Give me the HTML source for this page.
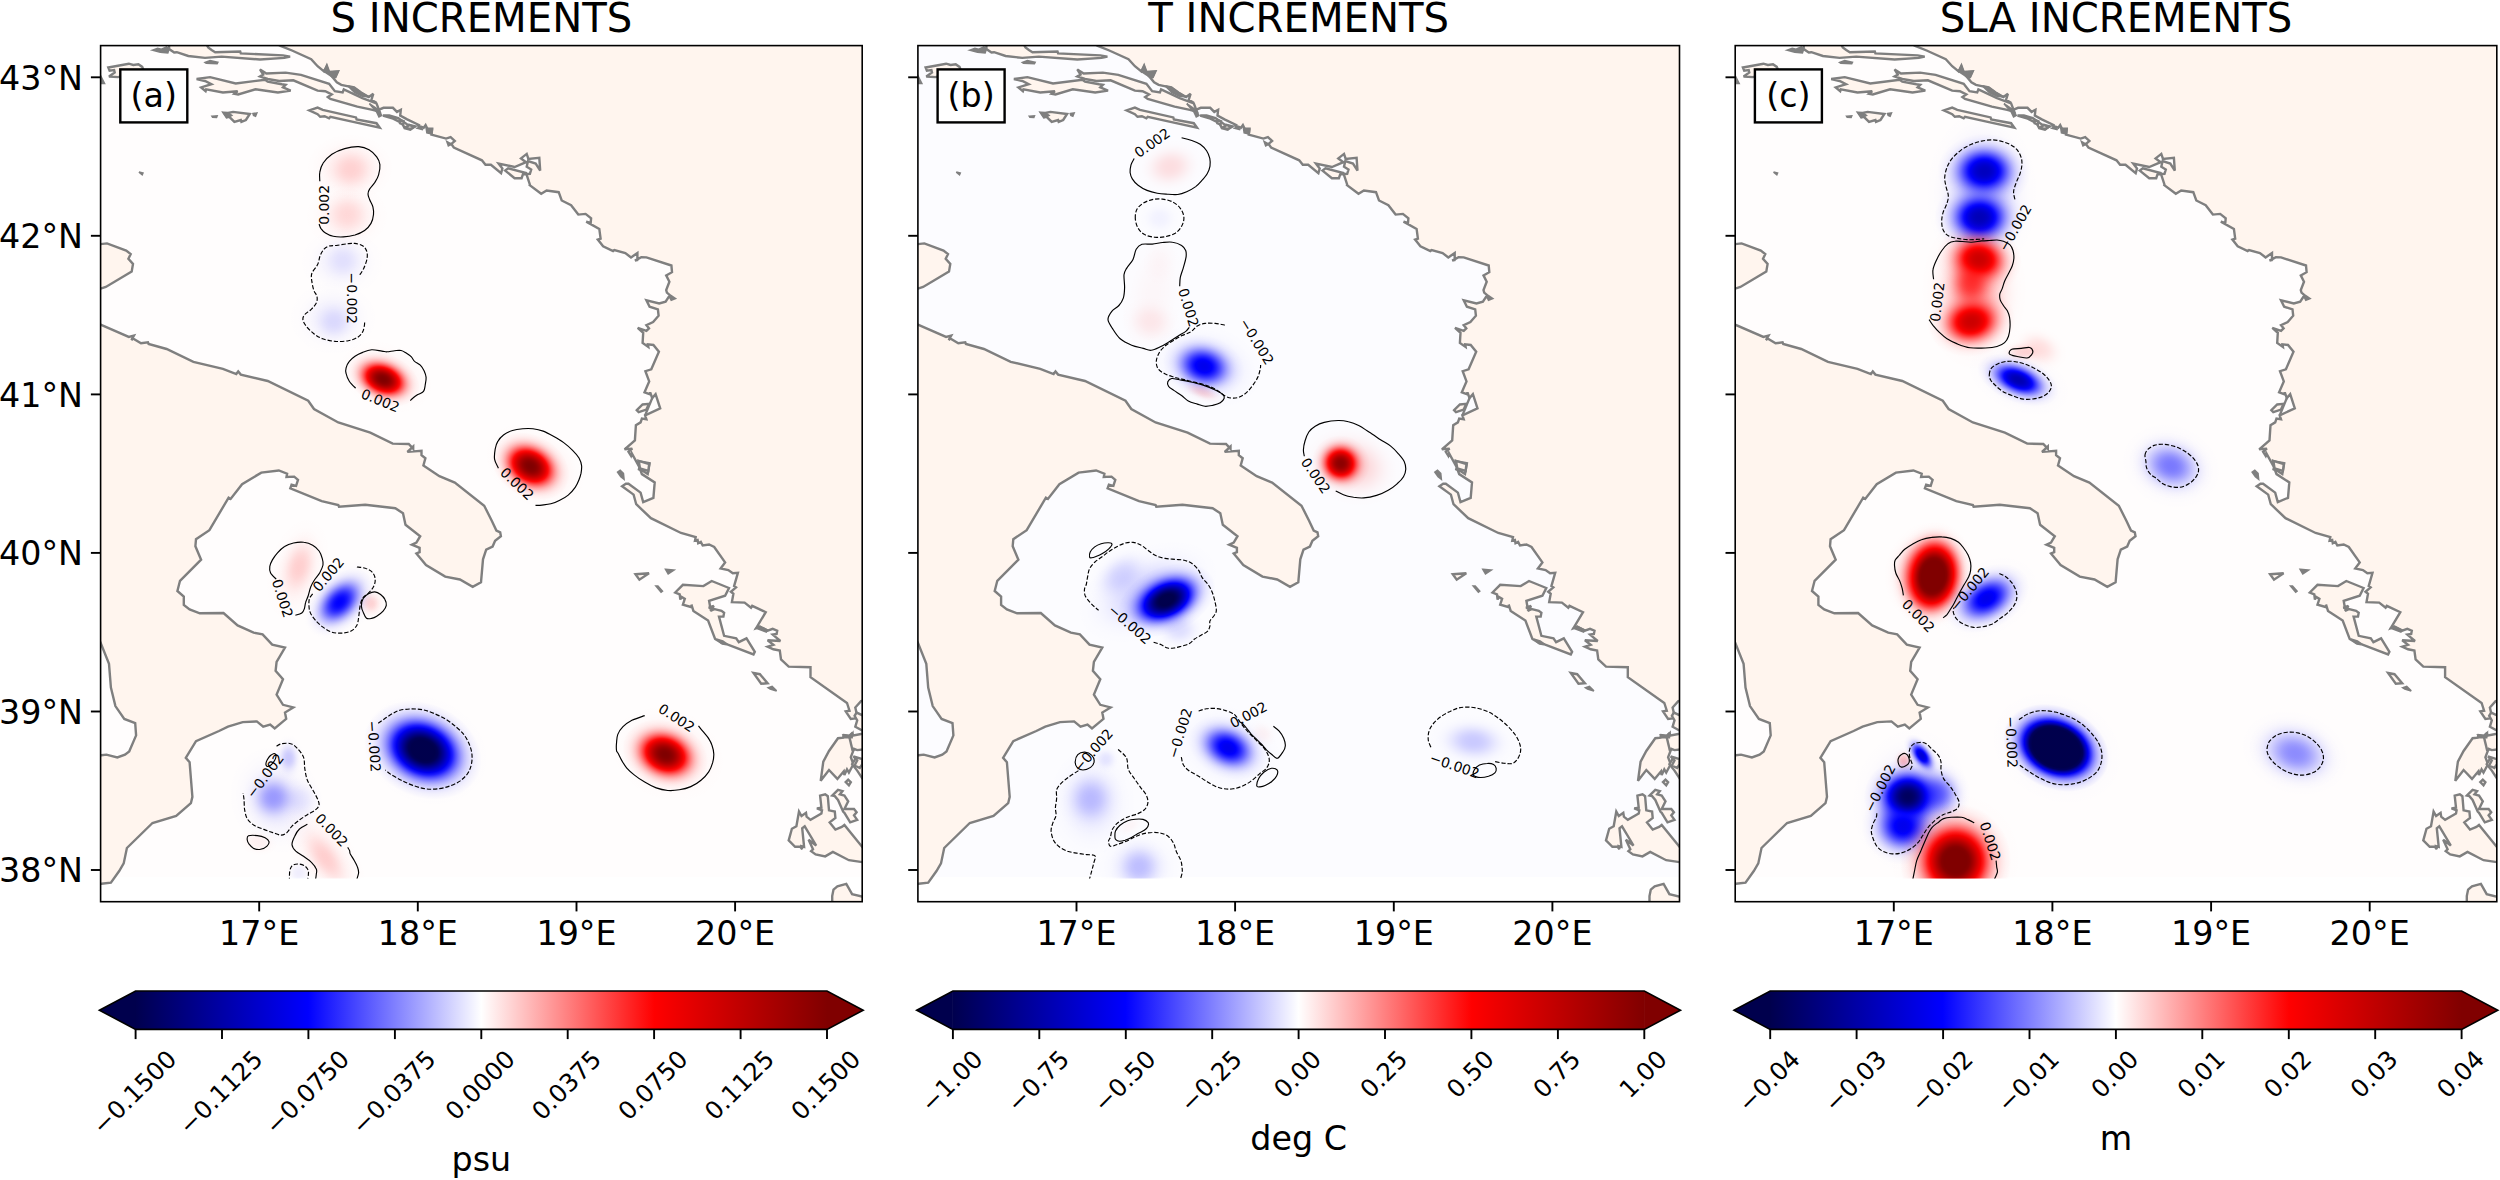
<!DOCTYPE html>
<html lang="en"><head><meta charset="utf-8"><title>Increments</title>
<style>html,body{margin:0;padding:0;background:#fff}body{width:2500px;height:1180px;overflow:hidden}svg{display:block}text{font-family:"DejaVu Sans","Liberation Sans",sans-serif;fill:#000}</style></head><body>
<svg width="2500" height="1180" viewBox="0 0 2500 1180">
<defs>
<linearGradient id="seis" x1="0" x2="1" y1="0" y2="0"><stop offset="0" stop-color="#00004d"/><stop offset="0.25" stop-color="#0000ff"/><stop offset="0.5" stop-color="#ffffff"/><stop offset="0.75" stop-color="#ff0000"/><stop offset="1" stop-color="#800000"/></linearGradient>
<clipPath id="pc"><rect x="0" y="0" width="761.6" height="856.1"/></clipPath>
<radialGradient id="g0"><stop offset="0.000" stop-color="rgb(255,0,0)" stop-opacity="0.080"/><stop offset="0.050" stop-color="rgb(255,0,0)" stop-opacity="0.080"/><stop offset="0.100" stop-color="rgb(255,0,0)" stop-opacity="0.079"/><stop offset="0.150" stop-color="rgb(255,0,0)" stop-opacity="0.076"/><stop offset="0.200" stop-color="rgb(255,0,0)" stop-opacity="0.073"/><stop offset="0.250" stop-color="rgb(255,0,0)" stop-opacity="0.067"/><stop offset="0.300" stop-color="rgb(255,0,0)" stop-opacity="0.061"/><stop offset="0.350" stop-color="rgb(255,0,0)" stop-opacity="0.054"/><stop offset="0.400" stop-color="rgb(255,0,0)" stop-opacity="0.046"/><stop offset="0.450" stop-color="rgb(255,0,0)" stop-opacity="0.038"/><stop offset="0.500" stop-color="rgb(255,0,0)" stop-opacity="0.031"/><stop offset="0.550" stop-color="rgb(255,0,0)" stop-opacity="0.024"/><stop offset="0.600" stop-color="rgb(255,0,0)" stop-opacity="0.018"/><stop offset="0.650" stop-color="rgb(255,0,0)" stop-opacity="0.012"/><stop offset="0.700" stop-color="rgb(255,0,0)" stop-opacity="0.009"/><stop offset="0.750" stop-color="rgb(255,0,0)" stop-opacity="0.006"/><stop offset="0.800" stop-color="rgb(255,0,0)" stop-opacity="0.004"/><stop offset="0.850" stop-color="rgb(255,0,0)" stop-opacity="0.002"/><stop offset="0.900" stop-color="rgb(255,0,0)" stop-opacity="0.001"/><stop offset="0.950" stop-color="rgb(255,0,0)" stop-opacity="0.001"/><stop offset="1.000" stop-color="rgb(255,0,0)" stop-opacity="0.000"/></radialGradient>
<radialGradient id="g1"><stop offset="0.000" stop-color="rgb(255,0,0)" stop-opacity="0.070"/><stop offset="0.050" stop-color="rgb(255,0,0)" stop-opacity="0.070"/><stop offset="0.100" stop-color="rgb(255,0,0)" stop-opacity="0.069"/><stop offset="0.150" stop-color="rgb(255,0,0)" stop-opacity="0.067"/><stop offset="0.200" stop-color="rgb(255,0,0)" stop-opacity="0.063"/><stop offset="0.250" stop-color="rgb(255,0,0)" stop-opacity="0.059"/><stop offset="0.300" stop-color="rgb(255,0,0)" stop-opacity="0.054"/><stop offset="0.350" stop-color="rgb(255,0,0)" stop-opacity="0.047"/><stop offset="0.400" stop-color="rgb(255,0,0)" stop-opacity="0.040"/><stop offset="0.450" stop-color="rgb(255,0,0)" stop-opacity="0.033"/><stop offset="0.500" stop-color="rgb(255,0,0)" stop-opacity="0.027"/><stop offset="0.550" stop-color="rgb(255,0,0)" stop-opacity="0.021"/><stop offset="0.600" stop-color="rgb(255,0,0)" stop-opacity="0.015"/><stop offset="0.650" stop-color="rgb(255,0,0)" stop-opacity="0.011"/><stop offset="0.700" stop-color="rgb(255,0,0)" stop-opacity="0.007"/><stop offset="0.750" stop-color="rgb(255,0,0)" stop-opacity="0.005"/><stop offset="0.800" stop-color="rgb(255,0,0)" stop-opacity="0.003"/><stop offset="0.850" stop-color="rgb(255,0,0)" stop-opacity="0.002"/><stop offset="0.900" stop-color="rgb(255,0,0)" stop-opacity="0.001"/><stop offset="0.950" stop-color="rgb(255,0,0)" stop-opacity="0.001"/><stop offset="1.000" stop-color="rgb(255,0,0)" stop-opacity="0.000"/></radialGradient>
<radialGradient id="g2"><stop offset="0.000" stop-color="rgb(255,0,0)" stop-opacity="0.100"/><stop offset="0.050" stop-color="rgb(255,0,0)" stop-opacity="0.100"/><stop offset="0.100" stop-color="rgb(255,0,0)" stop-opacity="0.098"/><stop offset="0.150" stop-color="rgb(255,0,0)" stop-opacity="0.095"/><stop offset="0.200" stop-color="rgb(255,0,0)" stop-opacity="0.091"/><stop offset="0.250" stop-color="rgb(255,0,0)" stop-opacity="0.084"/><stop offset="0.300" stop-color="rgb(255,0,0)" stop-opacity="0.076"/><stop offset="0.350" stop-color="rgb(255,0,0)" stop-opacity="0.067"/><stop offset="0.400" stop-color="rgb(255,0,0)" stop-opacity="0.058"/><stop offset="0.450" stop-color="rgb(255,0,0)" stop-opacity="0.048"/><stop offset="0.500" stop-color="rgb(255,0,0)" stop-opacity="0.038"/><stop offset="0.550" stop-color="rgb(255,0,0)" stop-opacity="0.029"/><stop offset="0.600" stop-color="rgb(255,0,0)" stop-opacity="0.022"/><stop offset="0.650" stop-color="rgb(255,0,0)" stop-opacity="0.016"/><stop offset="0.700" stop-color="rgb(255,0,0)" stop-opacity="0.011"/><stop offset="0.750" stop-color="rgb(255,0,0)" stop-opacity="0.007"/><stop offset="0.800" stop-color="rgb(255,0,0)" stop-opacity="0.004"/><stop offset="0.850" stop-color="rgb(255,0,0)" stop-opacity="0.003"/><stop offset="0.900" stop-color="rgb(255,0,0)" stop-opacity="0.002"/><stop offset="0.950" stop-color="rgb(255,0,0)" stop-opacity="0.001"/><stop offset="1.000" stop-color="rgb(255,0,0)" stop-opacity="0.000"/></radialGradient>
<radialGradient id="g3"><stop offset="0.000" stop-color="rgb(255,0,0)" stop-opacity="0.080"/><stop offset="0.050" stop-color="rgb(255,0,0)" stop-opacity="0.080"/><stop offset="0.100" stop-color="rgb(255,0,0)" stop-opacity="0.079"/><stop offset="0.150" stop-color="rgb(255,0,0)" stop-opacity="0.076"/><stop offset="0.200" stop-color="rgb(255,0,0)" stop-opacity="0.073"/><stop offset="0.250" stop-color="rgb(255,0,0)" stop-opacity="0.067"/><stop offset="0.300" stop-color="rgb(255,0,0)" stop-opacity="0.061"/><stop offset="0.350" stop-color="rgb(255,0,0)" stop-opacity="0.054"/><stop offset="0.400" stop-color="rgb(255,0,0)" stop-opacity="0.046"/><stop offset="0.450" stop-color="rgb(255,0,0)" stop-opacity="0.038"/><stop offset="0.500" stop-color="rgb(255,0,0)" stop-opacity="0.031"/><stop offset="0.550" stop-color="rgb(255,0,0)" stop-opacity="0.024"/><stop offset="0.600" stop-color="rgb(255,0,0)" stop-opacity="0.018"/><stop offset="0.650" stop-color="rgb(255,0,0)" stop-opacity="0.012"/><stop offset="0.700" stop-color="rgb(255,0,0)" stop-opacity="0.009"/><stop offset="0.750" stop-color="rgb(255,0,0)" stop-opacity="0.006"/><stop offset="0.800" stop-color="rgb(255,0,0)" stop-opacity="0.004"/><stop offset="0.850" stop-color="rgb(255,0,0)" stop-opacity="0.002"/><stop offset="0.900" stop-color="rgb(255,0,0)" stop-opacity="0.001"/><stop offset="0.950" stop-color="rgb(255,0,0)" stop-opacity="0.001"/><stop offset="1.000" stop-color="rgb(255,0,0)" stop-opacity="0.000"/></radialGradient>
<radialGradient id="g4"><stop offset="0.000" stop-color="rgb(0,0,255)" stop-opacity="0.060"/><stop offset="0.050" stop-color="rgb(0,0,255)" stop-opacity="0.060"/><stop offset="0.100" stop-color="rgb(0,0,255)" stop-opacity="0.059"/><stop offset="0.150" stop-color="rgb(0,0,255)" stop-opacity="0.057"/><stop offset="0.200" stop-color="rgb(0,0,255)" stop-opacity="0.054"/><stop offset="0.250" stop-color="rgb(0,0,255)" stop-opacity="0.051"/><stop offset="0.300" stop-color="rgb(0,0,255)" stop-opacity="0.046"/><stop offset="0.350" stop-color="rgb(0,0,255)" stop-opacity="0.040"/><stop offset="0.400" stop-color="rgb(0,0,255)" stop-opacity="0.035"/><stop offset="0.450" stop-color="rgb(0,0,255)" stop-opacity="0.029"/><stop offset="0.500" stop-color="rgb(0,0,255)" stop-opacity="0.023"/><stop offset="0.550" stop-color="rgb(0,0,255)" stop-opacity="0.018"/><stop offset="0.600" stop-color="rgb(0,0,255)" stop-opacity="0.013"/><stop offset="0.650" stop-color="rgb(0,0,255)" stop-opacity="0.009"/><stop offset="0.700" stop-color="rgb(0,0,255)" stop-opacity="0.006"/><stop offset="0.750" stop-color="rgb(0,0,255)" stop-opacity="0.004"/><stop offset="0.800" stop-color="rgb(0,0,255)" stop-opacity="0.003"/><stop offset="0.850" stop-color="rgb(0,0,255)" stop-opacity="0.002"/><stop offset="0.900" stop-color="rgb(0,0,255)" stop-opacity="0.001"/><stop offset="0.950" stop-color="rgb(0,0,255)" stop-opacity="0.000"/><stop offset="1.000" stop-color="rgb(0,0,255)" stop-opacity="0.000"/></radialGradient>
<radialGradient id="g5"><stop offset="0.000" stop-color="rgb(0,0,255)" stop-opacity="0.060"/><stop offset="0.050" stop-color="rgb(0,0,255)" stop-opacity="0.060"/><stop offset="0.100" stop-color="rgb(0,0,255)" stop-opacity="0.059"/><stop offset="0.150" stop-color="rgb(0,0,255)" stop-opacity="0.057"/><stop offset="0.200" stop-color="rgb(0,0,255)" stop-opacity="0.054"/><stop offset="0.250" stop-color="rgb(0,0,255)" stop-opacity="0.051"/><stop offset="0.300" stop-color="rgb(0,0,255)" stop-opacity="0.046"/><stop offset="0.350" stop-color="rgb(0,0,255)" stop-opacity="0.040"/><stop offset="0.400" stop-color="rgb(0,0,255)" stop-opacity="0.035"/><stop offset="0.450" stop-color="rgb(0,0,255)" stop-opacity="0.029"/><stop offset="0.500" stop-color="rgb(0,0,255)" stop-opacity="0.023"/><stop offset="0.550" stop-color="rgb(0,0,255)" stop-opacity="0.018"/><stop offset="0.600" stop-color="rgb(0,0,255)" stop-opacity="0.013"/><stop offset="0.650" stop-color="rgb(0,0,255)" stop-opacity="0.009"/><stop offset="0.700" stop-color="rgb(0,0,255)" stop-opacity="0.006"/><stop offset="0.750" stop-color="rgb(0,0,255)" stop-opacity="0.004"/><stop offset="0.800" stop-color="rgb(0,0,255)" stop-opacity="0.003"/><stop offset="0.850" stop-color="rgb(0,0,255)" stop-opacity="0.002"/><stop offset="0.900" stop-color="rgb(0,0,255)" stop-opacity="0.001"/><stop offset="0.950" stop-color="rgb(0,0,255)" stop-opacity="0.000"/><stop offset="1.000" stop-color="rgb(0,0,255)" stop-opacity="0.000"/></radialGradient>
<radialGradient id="g6"><stop offset="0.000" stop-color="rgb(0,0,255)" stop-opacity="0.060"/><stop offset="0.050" stop-color="rgb(0,0,255)" stop-opacity="0.060"/><stop offset="0.100" stop-color="rgb(0,0,255)" stop-opacity="0.059"/><stop offset="0.150" stop-color="rgb(0,0,255)" stop-opacity="0.057"/><stop offset="0.200" stop-color="rgb(0,0,255)" stop-opacity="0.054"/><stop offset="0.250" stop-color="rgb(0,0,255)" stop-opacity="0.051"/><stop offset="0.300" stop-color="rgb(0,0,255)" stop-opacity="0.046"/><stop offset="0.350" stop-color="rgb(0,0,255)" stop-opacity="0.040"/><stop offset="0.400" stop-color="rgb(0,0,255)" stop-opacity="0.035"/><stop offset="0.450" stop-color="rgb(0,0,255)" stop-opacity="0.029"/><stop offset="0.500" stop-color="rgb(0,0,255)" stop-opacity="0.023"/><stop offset="0.550" stop-color="rgb(0,0,255)" stop-opacity="0.018"/><stop offset="0.600" stop-color="rgb(0,0,255)" stop-opacity="0.013"/><stop offset="0.650" stop-color="rgb(0,0,255)" stop-opacity="0.009"/><stop offset="0.700" stop-color="rgb(0,0,255)" stop-opacity="0.006"/><stop offset="0.750" stop-color="rgb(0,0,255)" stop-opacity="0.004"/><stop offset="0.800" stop-color="rgb(0,0,255)" stop-opacity="0.003"/><stop offset="0.850" stop-color="rgb(0,0,255)" stop-opacity="0.002"/><stop offset="0.900" stop-color="rgb(0,0,255)" stop-opacity="0.001"/><stop offset="0.950" stop-color="rgb(0,0,255)" stop-opacity="0.000"/><stop offset="1.000" stop-color="rgb(0,0,255)" stop-opacity="0.000"/></radialGradient>
<radialGradient id="g7"><stop offset="0.000" stop-color="rgb(0,0,255)" stop-opacity="0.090"/><stop offset="0.050" stop-color="rgb(0,0,255)" stop-opacity="0.090"/><stop offset="0.100" stop-color="rgb(0,0,255)" stop-opacity="0.088"/><stop offset="0.150" stop-color="rgb(0,0,255)" stop-opacity="0.086"/><stop offset="0.200" stop-color="rgb(0,0,255)" stop-opacity="0.082"/><stop offset="0.250" stop-color="rgb(0,0,255)" stop-opacity="0.076"/><stop offset="0.300" stop-color="rgb(0,0,255)" stop-opacity="0.069"/><stop offset="0.350" stop-color="rgb(0,0,255)" stop-opacity="0.061"/><stop offset="0.400" stop-color="rgb(0,0,255)" stop-opacity="0.052"/><stop offset="0.450" stop-color="rgb(0,0,255)" stop-opacity="0.043"/><stop offset="0.500" stop-color="rgb(0,0,255)" stop-opacity="0.034"/><stop offset="0.550" stop-color="rgb(0,0,255)" stop-opacity="0.026"/><stop offset="0.600" stop-color="rgb(0,0,255)" stop-opacity="0.020"/><stop offset="0.650" stop-color="rgb(0,0,255)" stop-opacity="0.014"/><stop offset="0.700" stop-color="rgb(0,0,255)" stop-opacity="0.010"/><stop offset="0.750" stop-color="rgb(0,0,255)" stop-opacity="0.006"/><stop offset="0.800" stop-color="rgb(0,0,255)" stop-opacity="0.004"/><stop offset="0.850" stop-color="rgb(0,0,255)" stop-opacity="0.002"/><stop offset="0.900" stop-color="rgb(0,0,255)" stop-opacity="0.001"/><stop offset="0.950" stop-color="rgb(0,0,255)" stop-opacity="0.001"/><stop offset="1.000" stop-color="rgb(0,0,255)" stop-opacity="0.000"/></radialGradient>
<radialGradient id="g8"><stop offset="0.000" stop-color="rgb(255,0,0)" stop-opacity="0.120"/><stop offset="0.050" stop-color="rgb(255,0,0)" stop-opacity="0.120"/><stop offset="0.100" stop-color="rgb(255,0,0)" stop-opacity="0.118"/><stop offset="0.150" stop-color="rgb(255,0,0)" stop-opacity="0.114"/><stop offset="0.200" stop-color="rgb(255,0,0)" stop-opacity="0.109"/><stop offset="0.250" stop-color="rgb(255,0,0)" stop-opacity="0.101"/><stop offset="0.300" stop-color="rgb(255,0,0)" stop-opacity="0.092"/><stop offset="0.350" stop-color="rgb(255,0,0)" stop-opacity="0.081"/><stop offset="0.400" stop-color="rgb(255,0,0)" stop-opacity="0.069"/><stop offset="0.450" stop-color="rgb(255,0,0)" stop-opacity="0.057"/><stop offset="0.500" stop-color="rgb(255,0,0)" stop-opacity="0.046"/><stop offset="0.550" stop-color="rgb(255,0,0)" stop-opacity="0.035"/><stop offset="0.600" stop-color="rgb(255,0,0)" stop-opacity="0.026"/><stop offset="0.650" stop-color="rgb(255,0,0)" stop-opacity="0.019"/><stop offset="0.700" stop-color="rgb(255,0,0)" stop-opacity="0.013"/><stop offset="0.750" stop-color="rgb(255,0,0)" stop-opacity="0.008"/><stop offset="0.800" stop-color="rgb(255,0,0)" stop-opacity="0.005"/><stop offset="0.850" stop-color="rgb(255,0,0)" stop-opacity="0.003"/><stop offset="0.900" stop-color="rgb(255,0,0)" stop-opacity="0.002"/><stop offset="0.950" stop-color="rgb(255,0,0)" stop-opacity="0.001"/><stop offset="1.000" stop-color="rgb(255,0,0)" stop-opacity="0.000"/></radialGradient>
<radialGradient id="g9"><stop offset="0.000" stop-color="rgb(255,0,0)" stop-opacity="1.000"/><stop offset="0.050" stop-color="rgb(255,0,0)" stop-opacity="1.000"/><stop offset="0.100" stop-color="rgb(255,0,0)" stop-opacity="1.000"/><stop offset="0.150" stop-color="rgb(255,0,0)" stop-opacity="1.000"/><stop offset="0.200" stop-color="rgb(255,0,0)" stop-opacity="1.000"/><stop offset="0.250" stop-color="rgb(255,0,0)" stop-opacity="1.000"/><stop offset="0.300" stop-color="rgb(255,0,0)" stop-opacity="1.000"/><stop offset="0.350" stop-color="rgb(255,0,0)" stop-opacity="1.000"/><stop offset="0.400" stop-color="rgb(255,0,0)" stop-opacity="1.000"/><stop offset="0.450" stop-color="rgb(255,0,0)" stop-opacity="0.954"/><stop offset="0.500" stop-color="rgb(255,0,0)" stop-opacity="0.763"/><stop offset="0.550" stop-color="rgb(255,0,0)" stop-opacity="0.589"/><stop offset="0.600" stop-color="rgb(255,0,0)" stop-opacity="0.438"/><stop offset="0.650" stop-color="rgb(255,0,0)" stop-opacity="0.312"/><stop offset="0.700" stop-color="rgb(255,0,0)" stop-opacity="0.214"/><stop offset="0.750" stop-color="rgb(255,0,0)" stop-opacity="0.141"/><stop offset="0.800" stop-color="rgb(255,0,0)" stop-opacity="0.088"/><stop offset="0.850" stop-color="rgb(255,0,0)" stop-opacity="0.053"/><stop offset="0.900" stop-color="rgb(255,0,0)" stop-opacity="0.030"/><stop offset="0.950" stop-color="rgb(255,0,0)" stop-opacity="0.017"/><stop offset="1.000" stop-color="rgb(255,0,0)" stop-opacity="0.000"/></radialGradient><radialGradient id="d9"><stop offset="0.000" stop-color="#000" stop-opacity="0.500"/><stop offset="0.050" stop-color="#000" stop-opacity="0.497"/><stop offset="0.100" stop-color="#000" stop-opacity="0.483"/><stop offset="0.150" stop-color="#000" stop-opacity="0.454"/><stop offset="0.200" stop-color="#000" stop-opacity="0.407"/><stop offset="0.250" stop-color="#000" stop-opacity="0.343"/><stop offset="0.300" stop-color="#000" stop-opacity="0.264"/><stop offset="0.350" stop-color="#000" stop-opacity="0.174"/><stop offset="0.400" stop-color="#000" stop-opacity="0.076"/><stop offset="0.450" stop-color="#000" stop-opacity="0.000"/><stop offset="0.500" stop-color="#000" stop-opacity="0.000"/><stop offset="0.550" stop-color="#000" stop-opacity="0.000"/><stop offset="0.600" stop-color="#000" stop-opacity="0.000"/><stop offset="0.650" stop-color="#000" stop-opacity="0.000"/><stop offset="0.700" stop-color="#000" stop-opacity="0.000"/><stop offset="0.750" stop-color="#000" stop-opacity="0.000"/><stop offset="0.800" stop-color="#000" stop-opacity="0.000"/><stop offset="0.850" stop-color="#000" stop-opacity="0.000"/><stop offset="0.900" stop-color="#000" stop-opacity="0.000"/><stop offset="0.950" stop-color="#000" stop-opacity="0.000"/><stop offset="1.000" stop-color="#000" stop-opacity="0.000"/></radialGradient>
<radialGradient id="g10"><stop offset="0.000" stop-color="rgb(255,0,0)" stop-opacity="0.120"/><stop offset="0.050" stop-color="rgb(255,0,0)" stop-opacity="0.120"/><stop offset="0.100" stop-color="rgb(255,0,0)" stop-opacity="0.118"/><stop offset="0.150" stop-color="rgb(255,0,0)" stop-opacity="0.114"/><stop offset="0.200" stop-color="rgb(255,0,0)" stop-opacity="0.109"/><stop offset="0.250" stop-color="rgb(255,0,0)" stop-opacity="0.101"/><stop offset="0.300" stop-color="rgb(255,0,0)" stop-opacity="0.092"/><stop offset="0.350" stop-color="rgb(255,0,0)" stop-opacity="0.081"/><stop offset="0.400" stop-color="rgb(255,0,0)" stop-opacity="0.069"/><stop offset="0.450" stop-color="rgb(255,0,0)" stop-opacity="0.057"/><stop offset="0.500" stop-color="rgb(255,0,0)" stop-opacity="0.046"/><stop offset="0.550" stop-color="rgb(255,0,0)" stop-opacity="0.035"/><stop offset="0.600" stop-color="rgb(255,0,0)" stop-opacity="0.026"/><stop offset="0.650" stop-color="rgb(255,0,0)" stop-opacity="0.019"/><stop offset="0.700" stop-color="rgb(255,0,0)" stop-opacity="0.013"/><stop offset="0.750" stop-color="rgb(255,0,0)" stop-opacity="0.008"/><stop offset="0.800" stop-color="rgb(255,0,0)" stop-opacity="0.005"/><stop offset="0.850" stop-color="rgb(255,0,0)" stop-opacity="0.003"/><stop offset="0.900" stop-color="rgb(255,0,0)" stop-opacity="0.002"/><stop offset="0.950" stop-color="rgb(255,0,0)" stop-opacity="0.001"/><stop offset="1.000" stop-color="rgb(255,0,0)" stop-opacity="0.000"/></radialGradient>
<radialGradient id="g11"><stop offset="0.000" stop-color="rgb(255,0,0)" stop-opacity="1.000"/><stop offset="0.050" stop-color="rgb(255,0,0)" stop-opacity="1.000"/><stop offset="0.100" stop-color="rgb(255,0,0)" stop-opacity="1.000"/><stop offset="0.150" stop-color="rgb(255,0,0)" stop-opacity="1.000"/><stop offset="0.200" stop-color="rgb(255,0,0)" stop-opacity="1.000"/><stop offset="0.250" stop-color="rgb(255,0,0)" stop-opacity="1.000"/><stop offset="0.300" stop-color="rgb(255,0,0)" stop-opacity="1.000"/><stop offset="0.350" stop-color="rgb(255,0,0)" stop-opacity="1.000"/><stop offset="0.400" stop-color="rgb(255,0,0)" stop-opacity="1.000"/><stop offset="0.450" stop-color="rgb(255,0,0)" stop-opacity="0.954"/><stop offset="0.500" stop-color="rgb(255,0,0)" stop-opacity="0.763"/><stop offset="0.550" stop-color="rgb(255,0,0)" stop-opacity="0.589"/><stop offset="0.600" stop-color="rgb(255,0,0)" stop-opacity="0.438"/><stop offset="0.650" stop-color="rgb(255,0,0)" stop-opacity="0.312"/><stop offset="0.700" stop-color="rgb(255,0,0)" stop-opacity="0.214"/><stop offset="0.750" stop-color="rgb(255,0,0)" stop-opacity="0.141"/><stop offset="0.800" stop-color="rgb(255,0,0)" stop-opacity="0.088"/><stop offset="0.850" stop-color="rgb(255,0,0)" stop-opacity="0.053"/><stop offset="0.900" stop-color="rgb(255,0,0)" stop-opacity="0.030"/><stop offset="0.950" stop-color="rgb(255,0,0)" stop-opacity="0.017"/><stop offset="1.000" stop-color="rgb(255,0,0)" stop-opacity="0.000"/></radialGradient><radialGradient id="d11"><stop offset="0.000" stop-color="#000" stop-opacity="0.500"/><stop offset="0.050" stop-color="#000" stop-opacity="0.497"/><stop offset="0.100" stop-color="#000" stop-opacity="0.483"/><stop offset="0.150" stop-color="#000" stop-opacity="0.454"/><stop offset="0.200" stop-color="#000" stop-opacity="0.407"/><stop offset="0.250" stop-color="#000" stop-opacity="0.343"/><stop offset="0.300" stop-color="#000" stop-opacity="0.264"/><stop offset="0.350" stop-color="#000" stop-opacity="0.174"/><stop offset="0.400" stop-color="#000" stop-opacity="0.076"/><stop offset="0.450" stop-color="#000" stop-opacity="0.000"/><stop offset="0.500" stop-color="#000" stop-opacity="0.000"/><stop offset="0.550" stop-color="#000" stop-opacity="0.000"/><stop offset="0.600" stop-color="#000" stop-opacity="0.000"/><stop offset="0.650" stop-color="#000" stop-opacity="0.000"/><stop offset="0.700" stop-color="#000" stop-opacity="0.000"/><stop offset="0.750" stop-color="#000" stop-opacity="0.000"/><stop offset="0.800" stop-color="#000" stop-opacity="0.000"/><stop offset="0.850" stop-color="#000" stop-opacity="0.000"/><stop offset="0.900" stop-color="#000" stop-opacity="0.000"/><stop offset="0.950" stop-color="#000" stop-opacity="0.000"/><stop offset="1.000" stop-color="#000" stop-opacity="0.000"/></radialGradient>
<radialGradient id="g12"><stop offset="0.000" stop-color="rgb(255,0,0)" stop-opacity="0.070"/><stop offset="0.050" stop-color="rgb(255,0,0)" stop-opacity="0.070"/><stop offset="0.100" stop-color="rgb(255,0,0)" stop-opacity="0.069"/><stop offset="0.150" stop-color="rgb(255,0,0)" stop-opacity="0.067"/><stop offset="0.200" stop-color="rgb(255,0,0)" stop-opacity="0.063"/><stop offset="0.250" stop-color="rgb(255,0,0)" stop-opacity="0.059"/><stop offset="0.300" stop-color="rgb(255,0,0)" stop-opacity="0.054"/><stop offset="0.350" stop-color="rgb(255,0,0)" stop-opacity="0.047"/><stop offset="0.400" stop-color="rgb(255,0,0)" stop-opacity="0.040"/><stop offset="0.450" stop-color="rgb(255,0,0)" stop-opacity="0.033"/><stop offset="0.500" stop-color="rgb(255,0,0)" stop-opacity="0.027"/><stop offset="0.550" stop-color="rgb(255,0,0)" stop-opacity="0.021"/><stop offset="0.600" stop-color="rgb(255,0,0)" stop-opacity="0.015"/><stop offset="0.650" stop-color="rgb(255,0,0)" stop-opacity="0.011"/><stop offset="0.700" stop-color="rgb(255,0,0)" stop-opacity="0.007"/><stop offset="0.750" stop-color="rgb(255,0,0)" stop-opacity="0.005"/><stop offset="0.800" stop-color="rgb(255,0,0)" stop-opacity="0.003"/><stop offset="0.850" stop-color="rgb(255,0,0)" stop-opacity="0.002"/><stop offset="0.900" stop-color="rgb(255,0,0)" stop-opacity="0.001"/><stop offset="0.950" stop-color="rgb(255,0,0)" stop-opacity="0.001"/><stop offset="1.000" stop-color="rgb(255,0,0)" stop-opacity="0.000"/></radialGradient>
<radialGradient id="g13"><stop offset="0.000" stop-color="rgb(255,0,0)" stop-opacity="0.120"/><stop offset="0.050" stop-color="rgb(255,0,0)" stop-opacity="0.120"/><stop offset="0.100" stop-color="rgb(255,0,0)" stop-opacity="0.118"/><stop offset="0.150" stop-color="rgb(255,0,0)" stop-opacity="0.114"/><stop offset="0.200" stop-color="rgb(255,0,0)" stop-opacity="0.109"/><stop offset="0.250" stop-color="rgb(255,0,0)" stop-opacity="0.101"/><stop offset="0.300" stop-color="rgb(255,0,0)" stop-opacity="0.092"/><stop offset="0.350" stop-color="rgb(255,0,0)" stop-opacity="0.081"/><stop offset="0.400" stop-color="rgb(255,0,0)" stop-opacity="0.069"/><stop offset="0.450" stop-color="rgb(255,0,0)" stop-opacity="0.057"/><stop offset="0.500" stop-color="rgb(255,0,0)" stop-opacity="0.046"/><stop offset="0.550" stop-color="rgb(255,0,0)" stop-opacity="0.035"/><stop offset="0.600" stop-color="rgb(255,0,0)" stop-opacity="0.026"/><stop offset="0.650" stop-color="rgb(255,0,0)" stop-opacity="0.019"/><stop offset="0.700" stop-color="rgb(255,0,0)" stop-opacity="0.013"/><stop offset="0.750" stop-color="rgb(255,0,0)" stop-opacity="0.008"/><stop offset="0.800" stop-color="rgb(255,0,0)" stop-opacity="0.005"/><stop offset="0.850" stop-color="rgb(255,0,0)" stop-opacity="0.003"/><stop offset="0.900" stop-color="rgb(255,0,0)" stop-opacity="0.002"/><stop offset="0.950" stop-color="rgb(255,0,0)" stop-opacity="0.001"/><stop offset="1.000" stop-color="rgb(255,0,0)" stop-opacity="0.000"/></radialGradient>
<radialGradient id="g14"><stop offset="0.000" stop-color="rgb(0,0,255)" stop-opacity="0.160"/><stop offset="0.050" stop-color="rgb(0,0,255)" stop-opacity="0.160"/><stop offset="0.100" stop-color="rgb(0,0,255)" stop-opacity="0.157"/><stop offset="0.150" stop-color="rgb(0,0,255)" stop-opacity="0.153"/><stop offset="0.200" stop-color="rgb(0,0,255)" stop-opacity="0.145"/><stop offset="0.250" stop-color="rgb(0,0,255)" stop-opacity="0.135"/><stop offset="0.300" stop-color="rgb(0,0,255)" stop-opacity="0.122"/><stop offset="0.350" stop-color="rgb(0,0,255)" stop-opacity="0.108"/><stop offset="0.400" stop-color="rgb(0,0,255)" stop-opacity="0.092"/><stop offset="0.450" stop-color="rgb(0,0,255)" stop-opacity="0.076"/><stop offset="0.500" stop-color="rgb(0,0,255)" stop-opacity="0.061"/><stop offset="0.550" stop-color="rgb(0,0,255)" stop-opacity="0.047"/><stop offset="0.600" stop-color="rgb(0,0,255)" stop-opacity="0.035"/><stop offset="0.650" stop-color="rgb(0,0,255)" stop-opacity="0.025"/><stop offset="0.700" stop-color="rgb(0,0,255)" stop-opacity="0.017"/><stop offset="0.750" stop-color="rgb(0,0,255)" stop-opacity="0.011"/><stop offset="0.800" stop-color="rgb(0,0,255)" stop-opacity="0.007"/><stop offset="0.850" stop-color="rgb(0,0,255)" stop-opacity="0.004"/><stop offset="0.900" stop-color="rgb(0,0,255)" stop-opacity="0.002"/><stop offset="0.950" stop-color="rgb(0,0,255)" stop-opacity="0.001"/><stop offset="1.000" stop-color="rgb(0,0,255)" stop-opacity="0.000"/></radialGradient>
<radialGradient id="g15"><stop offset="0.000" stop-color="rgb(0,0,255)" stop-opacity="1.000"/><stop offset="0.050" stop-color="rgb(0,0,255)" stop-opacity="0.997"/><stop offset="0.100" stop-color="rgb(0,0,255)" stop-opacity="0.983"/><stop offset="0.150" stop-color="rgb(0,0,255)" stop-opacity="0.954"/><stop offset="0.200" stop-color="rgb(0,0,255)" stop-opacity="0.907"/><stop offset="0.250" stop-color="rgb(0,0,255)" stop-opacity="0.843"/><stop offset="0.300" stop-color="rgb(0,0,255)" stop-opacity="0.764"/><stop offset="0.350" stop-color="rgb(0,0,255)" stop-opacity="0.674"/><stop offset="0.400" stop-color="rgb(0,0,255)" stop-opacity="0.576"/><stop offset="0.450" stop-color="rgb(0,0,255)" stop-opacity="0.477"/><stop offset="0.500" stop-color="rgb(0,0,255)" stop-opacity="0.382"/><stop offset="0.550" stop-color="rgb(0,0,255)" stop-opacity="0.294"/><stop offset="0.600" stop-color="rgb(0,0,255)" stop-opacity="0.219"/><stop offset="0.650" stop-color="rgb(0,0,255)" stop-opacity="0.156"/><stop offset="0.700" stop-color="rgb(0,0,255)" stop-opacity="0.107"/><stop offset="0.750" stop-color="rgb(0,0,255)" stop-opacity="0.070"/><stop offset="0.800" stop-color="rgb(0,0,255)" stop-opacity="0.044"/><stop offset="0.850" stop-color="rgb(0,0,255)" stop-opacity="0.027"/><stop offset="0.900" stop-color="rgb(0,0,255)" stop-opacity="0.015"/><stop offset="0.950" stop-color="rgb(0,0,255)" stop-opacity="0.008"/><stop offset="1.000" stop-color="rgb(0,0,255)" stop-opacity="0.000"/></radialGradient>
<radialGradient id="g16"><stop offset="0.000" stop-color="rgb(255,0,0)" stop-opacity="0.070"/><stop offset="0.050" stop-color="rgb(255,0,0)" stop-opacity="0.070"/><stop offset="0.100" stop-color="rgb(255,0,0)" stop-opacity="0.069"/><stop offset="0.150" stop-color="rgb(255,0,0)" stop-opacity="0.067"/><stop offset="0.200" stop-color="rgb(255,0,0)" stop-opacity="0.063"/><stop offset="0.250" stop-color="rgb(255,0,0)" stop-opacity="0.059"/><stop offset="0.300" stop-color="rgb(255,0,0)" stop-opacity="0.054"/><stop offset="0.350" stop-color="rgb(255,0,0)" stop-opacity="0.047"/><stop offset="0.400" stop-color="rgb(255,0,0)" stop-opacity="0.040"/><stop offset="0.450" stop-color="rgb(255,0,0)" stop-opacity="0.033"/><stop offset="0.500" stop-color="rgb(255,0,0)" stop-opacity="0.027"/><stop offset="0.550" stop-color="rgb(255,0,0)" stop-opacity="0.021"/><stop offset="0.600" stop-color="rgb(255,0,0)" stop-opacity="0.015"/><stop offset="0.650" stop-color="rgb(255,0,0)" stop-opacity="0.011"/><stop offset="0.700" stop-color="rgb(255,0,0)" stop-opacity="0.007"/><stop offset="0.750" stop-color="rgb(255,0,0)" stop-opacity="0.005"/><stop offset="0.800" stop-color="rgb(255,0,0)" stop-opacity="0.003"/><stop offset="0.850" stop-color="rgb(255,0,0)" stop-opacity="0.002"/><stop offset="0.900" stop-color="rgb(255,0,0)" stop-opacity="0.001"/><stop offset="0.950" stop-color="rgb(255,0,0)" stop-opacity="0.001"/><stop offset="1.000" stop-color="rgb(255,0,0)" stop-opacity="0.000"/></radialGradient>
<radialGradient id="g17"><stop offset="0.000" stop-color="rgb(255,0,0)" stop-opacity="0.100"/><stop offset="0.050" stop-color="rgb(255,0,0)" stop-opacity="0.100"/><stop offset="0.100" stop-color="rgb(255,0,0)" stop-opacity="0.098"/><stop offset="0.150" stop-color="rgb(255,0,0)" stop-opacity="0.095"/><stop offset="0.200" stop-color="rgb(255,0,0)" stop-opacity="0.091"/><stop offset="0.250" stop-color="rgb(255,0,0)" stop-opacity="0.084"/><stop offset="0.300" stop-color="rgb(255,0,0)" stop-opacity="0.076"/><stop offset="0.350" stop-color="rgb(255,0,0)" stop-opacity="0.067"/><stop offset="0.400" stop-color="rgb(255,0,0)" stop-opacity="0.058"/><stop offset="0.450" stop-color="rgb(255,0,0)" stop-opacity="0.048"/><stop offset="0.500" stop-color="rgb(255,0,0)" stop-opacity="0.038"/><stop offset="0.550" stop-color="rgb(255,0,0)" stop-opacity="0.029"/><stop offset="0.600" stop-color="rgb(255,0,0)" stop-opacity="0.022"/><stop offset="0.650" stop-color="rgb(255,0,0)" stop-opacity="0.016"/><stop offset="0.700" stop-color="rgb(255,0,0)" stop-opacity="0.011"/><stop offset="0.750" stop-color="rgb(255,0,0)" stop-opacity="0.007"/><stop offset="0.800" stop-color="rgb(255,0,0)" stop-opacity="0.004"/><stop offset="0.850" stop-color="rgb(255,0,0)" stop-opacity="0.003"/><stop offset="0.900" stop-color="rgb(255,0,0)" stop-opacity="0.002"/><stop offset="0.950" stop-color="rgb(255,0,0)" stop-opacity="0.001"/><stop offset="1.000" stop-color="rgb(255,0,0)" stop-opacity="0.000"/></radialGradient>
<radialGradient id="g18"><stop offset="0.000" stop-color="rgb(0,0,255)" stop-opacity="0.120"/><stop offset="0.050" stop-color="rgb(0,0,255)" stop-opacity="0.120"/><stop offset="0.100" stop-color="rgb(0,0,255)" stop-opacity="0.118"/><stop offset="0.150" stop-color="rgb(0,0,255)" stop-opacity="0.114"/><stop offset="0.200" stop-color="rgb(0,0,255)" stop-opacity="0.109"/><stop offset="0.250" stop-color="rgb(0,0,255)" stop-opacity="0.101"/><stop offset="0.300" stop-color="rgb(0,0,255)" stop-opacity="0.092"/><stop offset="0.350" stop-color="rgb(0,0,255)" stop-opacity="0.081"/><stop offset="0.400" stop-color="rgb(0,0,255)" stop-opacity="0.069"/><stop offset="0.450" stop-color="rgb(0,0,255)" stop-opacity="0.057"/><stop offset="0.500" stop-color="rgb(0,0,255)" stop-opacity="0.046"/><stop offset="0.550" stop-color="rgb(0,0,255)" stop-opacity="0.035"/><stop offset="0.600" stop-color="rgb(0,0,255)" stop-opacity="0.026"/><stop offset="0.650" stop-color="rgb(0,0,255)" stop-opacity="0.019"/><stop offset="0.700" stop-color="rgb(0,0,255)" stop-opacity="0.013"/><stop offset="0.750" stop-color="rgb(0,0,255)" stop-opacity="0.008"/><stop offset="0.800" stop-color="rgb(0,0,255)" stop-opacity="0.005"/><stop offset="0.850" stop-color="rgb(0,0,255)" stop-opacity="0.003"/><stop offset="0.900" stop-color="rgb(0,0,255)" stop-opacity="0.002"/><stop offset="0.950" stop-color="rgb(0,0,255)" stop-opacity="0.001"/><stop offset="1.000" stop-color="rgb(0,0,255)" stop-opacity="0.000"/></radialGradient>
<radialGradient id="g19"><stop offset="0.000" stop-color="rgb(0,0,255)" stop-opacity="1.000"/><stop offset="0.050" stop-color="rgb(0,0,255)" stop-opacity="1.000"/><stop offset="0.100" stop-color="rgb(0,0,255)" stop-opacity="1.000"/><stop offset="0.150" stop-color="rgb(0,0,255)" stop-opacity="1.000"/><stop offset="0.200" stop-color="rgb(0,0,255)" stop-opacity="1.000"/><stop offset="0.250" stop-color="rgb(0,0,255)" stop-opacity="1.000"/><stop offset="0.300" stop-color="rgb(0,0,255)" stop-opacity="1.000"/><stop offset="0.350" stop-color="rgb(0,0,255)" stop-opacity="1.000"/><stop offset="0.400" stop-color="rgb(0,0,255)" stop-opacity="1.000"/><stop offset="0.450" stop-color="rgb(0,0,255)" stop-opacity="1.000"/><stop offset="0.500" stop-color="rgb(0,0,255)" stop-opacity="0.878"/><stop offset="0.550" stop-color="rgb(0,0,255)" stop-opacity="0.677"/><stop offset="0.600" stop-color="rgb(0,0,255)" stop-opacity="0.503"/><stop offset="0.650" stop-color="rgb(0,0,255)" stop-opacity="0.359"/><stop offset="0.700" stop-color="rgb(0,0,255)" stop-opacity="0.246"/><stop offset="0.750" stop-color="rgb(0,0,255)" stop-opacity="0.162"/><stop offset="0.800" stop-color="rgb(0,0,255)" stop-opacity="0.102"/><stop offset="0.850" stop-color="rgb(0,0,255)" stop-opacity="0.061"/><stop offset="0.900" stop-color="rgb(0,0,255)" stop-opacity="0.035"/><stop offset="0.950" stop-color="rgb(0,0,255)" stop-opacity="0.019"/><stop offset="1.000" stop-color="rgb(0,0,255)" stop-opacity="0.000"/></radialGradient><radialGradient id="d19"><stop offset="0.000" stop-color="#000" stop-opacity="0.700"/><stop offset="0.050" stop-color="#000" stop-opacity="0.700"/><stop offset="0.100" stop-color="#000" stop-opacity="0.700"/><stop offset="0.150" stop-color="#000" stop-opacity="0.700"/><stop offset="0.200" stop-color="#000" stop-opacity="0.700"/><stop offset="0.250" stop-color="#000" stop-opacity="0.658"/><stop offset="0.300" stop-color="#000" stop-opacity="0.531"/><stop offset="0.350" stop-color="#000" stop-opacity="0.385"/><stop offset="0.400" stop-color="#000" stop-opacity="0.227"/><stop offset="0.450" stop-color="#000" stop-opacity="0.068"/><stop offset="0.500" stop-color="#000" stop-opacity="0.000"/><stop offset="0.550" stop-color="#000" stop-opacity="0.000"/><stop offset="0.600" stop-color="#000" stop-opacity="0.000"/><stop offset="0.650" stop-color="#000" stop-opacity="0.000"/><stop offset="0.700" stop-color="#000" stop-opacity="0.000"/><stop offset="0.750" stop-color="#000" stop-opacity="0.000"/><stop offset="0.800" stop-color="#000" stop-opacity="0.000"/><stop offset="0.850" stop-color="#000" stop-opacity="0.000"/><stop offset="0.900" stop-color="#000" stop-opacity="0.000"/><stop offset="0.950" stop-color="#000" stop-opacity="0.000"/><stop offset="1.000" stop-color="#000" stop-opacity="0.000"/></radialGradient>
<radialGradient id="g20"><stop offset="0.000" stop-color="rgb(255,0,0)" stop-opacity="0.120"/><stop offset="0.050" stop-color="rgb(255,0,0)" stop-opacity="0.120"/><stop offset="0.100" stop-color="rgb(255,0,0)" stop-opacity="0.118"/><stop offset="0.150" stop-color="rgb(255,0,0)" stop-opacity="0.114"/><stop offset="0.200" stop-color="rgb(255,0,0)" stop-opacity="0.109"/><stop offset="0.250" stop-color="rgb(255,0,0)" stop-opacity="0.101"/><stop offset="0.300" stop-color="rgb(255,0,0)" stop-opacity="0.092"/><stop offset="0.350" stop-color="rgb(255,0,0)" stop-opacity="0.081"/><stop offset="0.400" stop-color="rgb(255,0,0)" stop-opacity="0.069"/><stop offset="0.450" stop-color="rgb(255,0,0)" stop-opacity="0.057"/><stop offset="0.500" stop-color="rgb(255,0,0)" stop-opacity="0.046"/><stop offset="0.550" stop-color="rgb(255,0,0)" stop-opacity="0.035"/><stop offset="0.600" stop-color="rgb(255,0,0)" stop-opacity="0.026"/><stop offset="0.650" stop-color="rgb(255,0,0)" stop-opacity="0.019"/><stop offset="0.700" stop-color="rgb(255,0,0)" stop-opacity="0.013"/><stop offset="0.750" stop-color="rgb(255,0,0)" stop-opacity="0.008"/><stop offset="0.800" stop-color="rgb(255,0,0)" stop-opacity="0.005"/><stop offset="0.850" stop-color="rgb(255,0,0)" stop-opacity="0.003"/><stop offset="0.900" stop-color="rgb(255,0,0)" stop-opacity="0.002"/><stop offset="0.950" stop-color="rgb(255,0,0)" stop-opacity="0.001"/><stop offset="1.000" stop-color="rgb(255,0,0)" stop-opacity="0.000"/></radialGradient>
<radialGradient id="g21"><stop offset="0.000" stop-color="rgb(255,0,0)" stop-opacity="1.000"/><stop offset="0.050" stop-color="rgb(255,0,0)" stop-opacity="1.000"/><stop offset="0.100" stop-color="rgb(255,0,0)" stop-opacity="1.000"/><stop offset="0.150" stop-color="rgb(255,0,0)" stop-opacity="1.000"/><stop offset="0.200" stop-color="rgb(255,0,0)" stop-opacity="1.000"/><stop offset="0.250" stop-color="rgb(255,0,0)" stop-opacity="1.000"/><stop offset="0.300" stop-color="rgb(255,0,0)" stop-opacity="1.000"/><stop offset="0.350" stop-color="rgb(255,0,0)" stop-opacity="1.000"/><stop offset="0.400" stop-color="rgb(255,0,0)" stop-opacity="1.000"/><stop offset="0.450" stop-color="rgb(255,0,0)" stop-opacity="0.954"/><stop offset="0.500" stop-color="rgb(255,0,0)" stop-opacity="0.763"/><stop offset="0.550" stop-color="rgb(255,0,0)" stop-opacity="0.589"/><stop offset="0.600" stop-color="rgb(255,0,0)" stop-opacity="0.438"/><stop offset="0.650" stop-color="rgb(255,0,0)" stop-opacity="0.312"/><stop offset="0.700" stop-color="rgb(255,0,0)" stop-opacity="0.214"/><stop offset="0.750" stop-color="rgb(255,0,0)" stop-opacity="0.141"/><stop offset="0.800" stop-color="rgb(255,0,0)" stop-opacity="0.088"/><stop offset="0.850" stop-color="rgb(255,0,0)" stop-opacity="0.053"/><stop offset="0.900" stop-color="rgb(255,0,0)" stop-opacity="0.030"/><stop offset="0.950" stop-color="rgb(255,0,0)" stop-opacity="0.017"/><stop offset="1.000" stop-color="rgb(255,0,0)" stop-opacity="0.000"/></radialGradient><radialGradient id="d21"><stop offset="0.000" stop-color="#000" stop-opacity="0.500"/><stop offset="0.050" stop-color="#000" stop-opacity="0.497"/><stop offset="0.100" stop-color="#000" stop-opacity="0.483"/><stop offset="0.150" stop-color="#000" stop-opacity="0.454"/><stop offset="0.200" stop-color="#000" stop-opacity="0.407"/><stop offset="0.250" stop-color="#000" stop-opacity="0.343"/><stop offset="0.300" stop-color="#000" stop-opacity="0.264"/><stop offset="0.350" stop-color="#000" stop-opacity="0.174"/><stop offset="0.400" stop-color="#000" stop-opacity="0.076"/><stop offset="0.450" stop-color="#000" stop-opacity="0.000"/><stop offset="0.500" stop-color="#000" stop-opacity="0.000"/><stop offset="0.550" stop-color="#000" stop-opacity="0.000"/><stop offset="0.600" stop-color="#000" stop-opacity="0.000"/><stop offset="0.650" stop-color="#000" stop-opacity="0.000"/><stop offset="0.700" stop-color="#000" stop-opacity="0.000"/><stop offset="0.750" stop-color="#000" stop-opacity="0.000"/><stop offset="0.800" stop-color="#000" stop-opacity="0.000"/><stop offset="0.850" stop-color="#000" stop-opacity="0.000"/><stop offset="0.900" stop-color="#000" stop-opacity="0.000"/><stop offset="0.950" stop-color="#000" stop-opacity="0.000"/><stop offset="1.000" stop-color="#000" stop-opacity="0.000"/></radialGradient>
<radialGradient id="g22"><stop offset="0.000" stop-color="rgb(0,0,255)" stop-opacity="0.080"/><stop offset="0.050" stop-color="rgb(0,0,255)" stop-opacity="0.080"/><stop offset="0.100" stop-color="rgb(0,0,255)" stop-opacity="0.079"/><stop offset="0.150" stop-color="rgb(0,0,255)" stop-opacity="0.076"/><stop offset="0.200" stop-color="rgb(0,0,255)" stop-opacity="0.073"/><stop offset="0.250" stop-color="rgb(0,0,255)" stop-opacity="0.067"/><stop offset="0.300" stop-color="rgb(0,0,255)" stop-opacity="0.061"/><stop offset="0.350" stop-color="rgb(0,0,255)" stop-opacity="0.054"/><stop offset="0.400" stop-color="rgb(0,0,255)" stop-opacity="0.046"/><stop offset="0.450" stop-color="rgb(0,0,255)" stop-opacity="0.038"/><stop offset="0.500" stop-color="rgb(0,0,255)" stop-opacity="0.031"/><stop offset="0.550" stop-color="rgb(0,0,255)" stop-opacity="0.024"/><stop offset="0.600" stop-color="rgb(0,0,255)" stop-opacity="0.018"/><stop offset="0.650" stop-color="rgb(0,0,255)" stop-opacity="0.012"/><stop offset="0.700" stop-color="rgb(0,0,255)" stop-opacity="0.009"/><stop offset="0.750" stop-color="rgb(0,0,255)" stop-opacity="0.006"/><stop offset="0.800" stop-color="rgb(0,0,255)" stop-opacity="0.004"/><stop offset="0.850" stop-color="rgb(0,0,255)" stop-opacity="0.002"/><stop offset="0.900" stop-color="rgb(0,0,255)" stop-opacity="0.001"/><stop offset="0.950" stop-color="rgb(0,0,255)" stop-opacity="0.001"/><stop offset="1.000" stop-color="rgb(0,0,255)" stop-opacity="0.000"/></radialGradient>
<radialGradient id="g23"><stop offset="0.000" stop-color="rgb(0,0,255)" stop-opacity="0.340"/><stop offset="0.050" stop-color="rgb(0,0,255)" stop-opacity="0.339"/><stop offset="0.100" stop-color="rgb(0,0,255)" stop-opacity="0.334"/><stop offset="0.150" stop-color="rgb(0,0,255)" stop-opacity="0.324"/><stop offset="0.200" stop-color="rgb(0,0,255)" stop-opacity="0.308"/><stop offset="0.250" stop-color="rgb(0,0,255)" stop-opacity="0.287"/><stop offset="0.300" stop-color="rgb(0,0,255)" stop-opacity="0.260"/><stop offset="0.350" stop-color="rgb(0,0,255)" stop-opacity="0.229"/><stop offset="0.400" stop-color="rgb(0,0,255)" stop-opacity="0.196"/><stop offset="0.450" stop-color="rgb(0,0,255)" stop-opacity="0.162"/><stop offset="0.500" stop-color="rgb(0,0,255)" stop-opacity="0.130"/><stop offset="0.550" stop-color="rgb(0,0,255)" stop-opacity="0.100"/><stop offset="0.600" stop-color="rgb(0,0,255)" stop-opacity="0.074"/><stop offset="0.650" stop-color="rgb(0,0,255)" stop-opacity="0.053"/><stop offset="0.700" stop-color="rgb(0,0,255)" stop-opacity="0.036"/><stop offset="0.750" stop-color="rgb(0,0,255)" stop-opacity="0.024"/><stop offset="0.800" stop-color="rgb(0,0,255)" stop-opacity="0.015"/><stop offset="0.850" stop-color="rgb(0,0,255)" stop-opacity="0.009"/><stop offset="0.900" stop-color="rgb(0,0,255)" stop-opacity="0.005"/><stop offset="0.950" stop-color="rgb(0,0,255)" stop-opacity="0.003"/><stop offset="1.000" stop-color="rgb(0,0,255)" stop-opacity="0.000"/></radialGradient>
<radialGradient id="g24"><stop offset="0.000" stop-color="rgb(0,0,255)" stop-opacity="0.200"/><stop offset="0.050" stop-color="rgb(0,0,255)" stop-opacity="0.199"/><stop offset="0.100" stop-color="rgb(0,0,255)" stop-opacity="0.197"/><stop offset="0.150" stop-color="rgb(0,0,255)" stop-opacity="0.191"/><stop offset="0.200" stop-color="rgb(0,0,255)" stop-opacity="0.181"/><stop offset="0.250" stop-color="rgb(0,0,255)" stop-opacity="0.169"/><stop offset="0.300" stop-color="rgb(0,0,255)" stop-opacity="0.153"/><stop offset="0.350" stop-color="rgb(0,0,255)" stop-opacity="0.135"/><stop offset="0.400" stop-color="rgb(0,0,255)" stop-opacity="0.115"/><stop offset="0.450" stop-color="rgb(0,0,255)" stop-opacity="0.095"/><stop offset="0.500" stop-color="rgb(0,0,255)" stop-opacity="0.076"/><stop offset="0.550" stop-color="rgb(0,0,255)" stop-opacity="0.059"/><stop offset="0.600" stop-color="rgb(0,0,255)" stop-opacity="0.044"/><stop offset="0.650" stop-color="rgb(0,0,255)" stop-opacity="0.031"/><stop offset="0.700" stop-color="rgb(0,0,255)" stop-opacity="0.021"/><stop offset="0.750" stop-color="rgb(0,0,255)" stop-opacity="0.014"/><stop offset="0.800" stop-color="rgb(0,0,255)" stop-opacity="0.009"/><stop offset="0.850" stop-color="rgb(0,0,255)" stop-opacity="0.005"/><stop offset="0.900" stop-color="rgb(0,0,255)" stop-opacity="0.003"/><stop offset="0.950" stop-color="rgb(0,0,255)" stop-opacity="0.002"/><stop offset="1.000" stop-color="rgb(0,0,255)" stop-opacity="0.000"/></radialGradient>
<radialGradient id="g25"><stop offset="0.000" stop-color="rgb(0,0,255)" stop-opacity="0.080"/><stop offset="0.050" stop-color="rgb(0,0,255)" stop-opacity="0.080"/><stop offset="0.100" stop-color="rgb(0,0,255)" stop-opacity="0.079"/><stop offset="0.150" stop-color="rgb(0,0,255)" stop-opacity="0.076"/><stop offset="0.200" stop-color="rgb(0,0,255)" stop-opacity="0.073"/><stop offset="0.250" stop-color="rgb(0,0,255)" stop-opacity="0.067"/><stop offset="0.300" stop-color="rgb(0,0,255)" stop-opacity="0.061"/><stop offset="0.350" stop-color="rgb(0,0,255)" stop-opacity="0.054"/><stop offset="0.400" stop-color="rgb(0,0,255)" stop-opacity="0.046"/><stop offset="0.450" stop-color="rgb(0,0,255)" stop-opacity="0.038"/><stop offset="0.500" stop-color="rgb(0,0,255)" stop-opacity="0.031"/><stop offset="0.550" stop-color="rgb(0,0,255)" stop-opacity="0.024"/><stop offset="0.600" stop-color="rgb(0,0,255)" stop-opacity="0.018"/><stop offset="0.650" stop-color="rgb(0,0,255)" stop-opacity="0.012"/><stop offset="0.700" stop-color="rgb(0,0,255)" stop-opacity="0.009"/><stop offset="0.750" stop-color="rgb(0,0,255)" stop-opacity="0.006"/><stop offset="0.800" stop-color="rgb(0,0,255)" stop-opacity="0.004"/><stop offset="0.850" stop-color="rgb(0,0,255)" stop-opacity="0.002"/><stop offset="0.900" stop-color="rgb(0,0,255)" stop-opacity="0.001"/><stop offset="0.950" stop-color="rgb(0,0,255)" stop-opacity="0.001"/><stop offset="1.000" stop-color="rgb(0,0,255)" stop-opacity="0.000"/></radialGradient>
<radialGradient id="g26"><stop offset="0.000" stop-color="rgb(255,0,0)" stop-opacity="0.070"/><stop offset="0.050" stop-color="rgb(255,0,0)" stop-opacity="0.070"/><stop offset="0.100" stop-color="rgb(255,0,0)" stop-opacity="0.069"/><stop offset="0.150" stop-color="rgb(255,0,0)" stop-opacity="0.067"/><stop offset="0.200" stop-color="rgb(255,0,0)" stop-opacity="0.063"/><stop offset="0.250" stop-color="rgb(255,0,0)" stop-opacity="0.059"/><stop offset="0.300" stop-color="rgb(255,0,0)" stop-opacity="0.054"/><stop offset="0.350" stop-color="rgb(255,0,0)" stop-opacity="0.047"/><stop offset="0.400" stop-color="rgb(255,0,0)" stop-opacity="0.040"/><stop offset="0.450" stop-color="rgb(255,0,0)" stop-opacity="0.033"/><stop offset="0.500" stop-color="rgb(255,0,0)" stop-opacity="0.027"/><stop offset="0.550" stop-color="rgb(255,0,0)" stop-opacity="0.021"/><stop offset="0.600" stop-color="rgb(255,0,0)" stop-opacity="0.015"/><stop offset="0.650" stop-color="rgb(255,0,0)" stop-opacity="0.011"/><stop offset="0.700" stop-color="rgb(255,0,0)" stop-opacity="0.007"/><stop offset="0.750" stop-color="rgb(255,0,0)" stop-opacity="0.005"/><stop offset="0.800" stop-color="rgb(255,0,0)" stop-opacity="0.003"/><stop offset="0.850" stop-color="rgb(255,0,0)" stop-opacity="0.002"/><stop offset="0.900" stop-color="rgb(255,0,0)" stop-opacity="0.001"/><stop offset="0.950" stop-color="rgb(255,0,0)" stop-opacity="0.001"/><stop offset="1.000" stop-color="rgb(255,0,0)" stop-opacity="0.000"/></radialGradient>
<radialGradient id="g27"><stop offset="0.000" stop-color="rgb(255,0,0)" stop-opacity="0.120"/><stop offset="0.050" stop-color="rgb(255,0,0)" stop-opacity="0.120"/><stop offset="0.100" stop-color="rgb(255,0,0)" stop-opacity="0.118"/><stop offset="0.150" stop-color="rgb(255,0,0)" stop-opacity="0.114"/><stop offset="0.200" stop-color="rgb(255,0,0)" stop-opacity="0.109"/><stop offset="0.250" stop-color="rgb(255,0,0)" stop-opacity="0.101"/><stop offset="0.300" stop-color="rgb(255,0,0)" stop-opacity="0.092"/><stop offset="0.350" stop-color="rgb(255,0,0)" stop-opacity="0.081"/><stop offset="0.400" stop-color="rgb(255,0,0)" stop-opacity="0.069"/><stop offset="0.450" stop-color="rgb(255,0,0)" stop-opacity="0.057"/><stop offset="0.500" stop-color="rgb(255,0,0)" stop-opacity="0.046"/><stop offset="0.550" stop-color="rgb(255,0,0)" stop-opacity="0.035"/><stop offset="0.600" stop-color="rgb(255,0,0)" stop-opacity="0.026"/><stop offset="0.650" stop-color="rgb(255,0,0)" stop-opacity="0.019"/><stop offset="0.700" stop-color="rgb(255,0,0)" stop-opacity="0.013"/><stop offset="0.750" stop-color="rgb(255,0,0)" stop-opacity="0.008"/><stop offset="0.800" stop-color="rgb(255,0,0)" stop-opacity="0.005"/><stop offset="0.850" stop-color="rgb(255,0,0)" stop-opacity="0.003"/><stop offset="0.900" stop-color="rgb(255,0,0)" stop-opacity="0.002"/><stop offset="0.950" stop-color="rgb(255,0,0)" stop-opacity="0.001"/><stop offset="1.000" stop-color="rgb(255,0,0)" stop-opacity="0.000"/></radialGradient>
<radialGradient id="g28"><stop offset="0.000" stop-color="rgb(255,0,0)" stop-opacity="0.050"/><stop offset="0.050" stop-color="rgb(255,0,0)" stop-opacity="0.050"/><stop offset="0.100" stop-color="rgb(255,0,0)" stop-opacity="0.049"/><stop offset="0.150" stop-color="rgb(255,0,0)" stop-opacity="0.048"/><stop offset="0.200" stop-color="rgb(255,0,0)" stop-opacity="0.045"/><stop offset="0.250" stop-color="rgb(255,0,0)" stop-opacity="0.042"/><stop offset="0.300" stop-color="rgb(255,0,0)" stop-opacity="0.038"/><stop offset="0.350" stop-color="rgb(255,0,0)" stop-opacity="0.034"/><stop offset="0.400" stop-color="rgb(255,0,0)" stop-opacity="0.029"/><stop offset="0.450" stop-color="rgb(255,0,0)" stop-opacity="0.024"/><stop offset="0.500" stop-color="rgb(255,0,0)" stop-opacity="0.019"/><stop offset="0.550" stop-color="rgb(255,0,0)" stop-opacity="0.015"/><stop offset="0.600" stop-color="rgb(255,0,0)" stop-opacity="0.011"/><stop offset="0.650" stop-color="rgb(255,0,0)" stop-opacity="0.008"/><stop offset="0.700" stop-color="rgb(255,0,0)" stop-opacity="0.005"/><stop offset="0.750" stop-color="rgb(255,0,0)" stop-opacity="0.004"/><stop offset="0.800" stop-color="rgb(255,0,0)" stop-opacity="0.002"/><stop offset="0.850" stop-color="rgb(255,0,0)" stop-opacity="0.001"/><stop offset="0.900" stop-color="rgb(255,0,0)" stop-opacity="0.001"/><stop offset="0.950" stop-color="rgb(255,0,0)" stop-opacity="0.000"/><stop offset="1.000" stop-color="rgb(255,0,0)" stop-opacity="0.000"/></radialGradient>
<radialGradient id="g29"><stop offset="0.000" stop-color="rgb(0,0,255)" stop-opacity="0.060"/><stop offset="0.050" stop-color="rgb(0,0,255)" stop-opacity="0.060"/><stop offset="0.100" stop-color="rgb(0,0,255)" stop-opacity="0.059"/><stop offset="0.150" stop-color="rgb(0,0,255)" stop-opacity="0.057"/><stop offset="0.200" stop-color="rgb(0,0,255)" stop-opacity="0.054"/><stop offset="0.250" stop-color="rgb(0,0,255)" stop-opacity="0.051"/><stop offset="0.300" stop-color="rgb(0,0,255)" stop-opacity="0.046"/><stop offset="0.350" stop-color="rgb(0,0,255)" stop-opacity="0.040"/><stop offset="0.400" stop-color="rgb(0,0,255)" stop-opacity="0.035"/><stop offset="0.450" stop-color="rgb(0,0,255)" stop-opacity="0.029"/><stop offset="0.500" stop-color="rgb(0,0,255)" stop-opacity="0.023"/><stop offset="0.550" stop-color="rgb(0,0,255)" stop-opacity="0.018"/><stop offset="0.600" stop-color="rgb(0,0,255)" stop-opacity="0.013"/><stop offset="0.650" stop-color="rgb(0,0,255)" stop-opacity="0.009"/><stop offset="0.700" stop-color="rgb(0,0,255)" stop-opacity="0.006"/><stop offset="0.750" stop-color="rgb(0,0,255)" stop-opacity="0.004"/><stop offset="0.800" stop-color="rgb(0,0,255)" stop-opacity="0.003"/><stop offset="0.850" stop-color="rgb(0,0,255)" stop-opacity="0.002"/><stop offset="0.900" stop-color="rgb(0,0,255)" stop-opacity="0.001"/><stop offset="0.950" stop-color="rgb(0,0,255)" stop-opacity="0.000"/><stop offset="1.000" stop-color="rgb(0,0,255)" stop-opacity="0.000"/></radialGradient>
<radialGradient id="g30"><stop offset="0.000" stop-color="rgb(255,0,0)" stop-opacity="0.120"/><stop offset="0.050" stop-color="rgb(255,0,0)" stop-opacity="0.120"/><stop offset="0.100" stop-color="rgb(255,0,0)" stop-opacity="0.118"/><stop offset="0.150" stop-color="rgb(255,0,0)" stop-opacity="0.114"/><stop offset="0.200" stop-color="rgb(255,0,0)" stop-opacity="0.109"/><stop offset="0.250" stop-color="rgb(255,0,0)" stop-opacity="0.101"/><stop offset="0.300" stop-color="rgb(255,0,0)" stop-opacity="0.092"/><stop offset="0.350" stop-color="rgb(255,0,0)" stop-opacity="0.081"/><stop offset="0.400" stop-color="rgb(255,0,0)" stop-opacity="0.069"/><stop offset="0.450" stop-color="rgb(255,0,0)" stop-opacity="0.057"/><stop offset="0.500" stop-color="rgb(255,0,0)" stop-opacity="0.046"/><stop offset="0.550" stop-color="rgb(255,0,0)" stop-opacity="0.035"/><stop offset="0.600" stop-color="rgb(255,0,0)" stop-opacity="0.026"/><stop offset="0.650" stop-color="rgb(255,0,0)" stop-opacity="0.019"/><stop offset="0.700" stop-color="rgb(255,0,0)" stop-opacity="0.013"/><stop offset="0.750" stop-color="rgb(255,0,0)" stop-opacity="0.008"/><stop offset="0.800" stop-color="rgb(255,0,0)" stop-opacity="0.005"/><stop offset="0.850" stop-color="rgb(255,0,0)" stop-opacity="0.003"/><stop offset="0.900" stop-color="rgb(255,0,0)" stop-opacity="0.002"/><stop offset="0.950" stop-color="rgb(255,0,0)" stop-opacity="0.001"/><stop offset="1.000" stop-color="rgb(255,0,0)" stop-opacity="0.000"/></radialGradient>
<radialGradient id="g31"><stop offset="0.000" stop-color="rgb(0,0,255)" stop-opacity="0.040"/><stop offset="0.050" stop-color="rgb(0,0,255)" stop-opacity="0.040"/><stop offset="0.100" stop-color="rgb(0,0,255)" stop-opacity="0.039"/><stop offset="0.150" stop-color="rgb(0,0,255)" stop-opacity="0.038"/><stop offset="0.200" stop-color="rgb(0,0,255)" stop-opacity="0.036"/><stop offset="0.250" stop-color="rgb(0,0,255)" stop-opacity="0.034"/><stop offset="0.300" stop-color="rgb(0,0,255)" stop-opacity="0.031"/><stop offset="0.350" stop-color="rgb(0,0,255)" stop-opacity="0.027"/><stop offset="0.400" stop-color="rgb(0,0,255)" stop-opacity="0.023"/><stop offset="0.450" stop-color="rgb(0,0,255)" stop-opacity="0.019"/><stop offset="0.500" stop-color="rgb(0,0,255)" stop-opacity="0.015"/><stop offset="0.550" stop-color="rgb(0,0,255)" stop-opacity="0.012"/><stop offset="0.600" stop-color="rgb(0,0,255)" stop-opacity="0.009"/><stop offset="0.650" stop-color="rgb(0,0,255)" stop-opacity="0.006"/><stop offset="0.700" stop-color="rgb(0,0,255)" stop-opacity="0.004"/><stop offset="0.750" stop-color="rgb(0,0,255)" stop-opacity="0.003"/><stop offset="0.800" stop-color="rgb(0,0,255)" stop-opacity="0.002"/><stop offset="0.850" stop-color="rgb(0,0,255)" stop-opacity="0.001"/><stop offset="0.900" stop-color="rgb(0,0,255)" stop-opacity="0.001"/><stop offset="0.950" stop-color="rgb(0,0,255)" stop-opacity="0.000"/><stop offset="1.000" stop-color="rgb(0,0,255)" stop-opacity="0.000"/></radialGradient>
<radialGradient id="g32"><stop offset="0.000" stop-color="rgb(255,0,0)" stop-opacity="0.024"/><stop offset="0.050" stop-color="rgb(255,0,0)" stop-opacity="0.024"/><stop offset="0.100" stop-color="rgb(255,0,0)" stop-opacity="0.024"/><stop offset="0.150" stop-color="rgb(255,0,0)" stop-opacity="0.023"/><stop offset="0.200" stop-color="rgb(255,0,0)" stop-opacity="0.022"/><stop offset="0.250" stop-color="rgb(255,0,0)" stop-opacity="0.020"/><stop offset="0.300" stop-color="rgb(255,0,0)" stop-opacity="0.018"/><stop offset="0.350" stop-color="rgb(255,0,0)" stop-opacity="0.016"/><stop offset="0.400" stop-color="rgb(255,0,0)" stop-opacity="0.014"/><stop offset="0.450" stop-color="rgb(255,0,0)" stop-opacity="0.011"/><stop offset="0.500" stop-color="rgb(255,0,0)" stop-opacity="0.009"/><stop offset="0.550" stop-color="rgb(255,0,0)" stop-opacity="0.007"/><stop offset="0.600" stop-color="rgb(255,0,0)" stop-opacity="0.005"/><stop offset="0.650" stop-color="rgb(255,0,0)" stop-opacity="0.004"/><stop offset="0.700" stop-color="rgb(255,0,0)" stop-opacity="0.003"/><stop offset="0.750" stop-color="rgb(255,0,0)" stop-opacity="0.002"/><stop offset="0.800" stop-color="rgb(255,0,0)" stop-opacity="0.001"/><stop offset="0.850" stop-color="rgb(255,0,0)" stop-opacity="0.001"/><stop offset="0.900" stop-color="rgb(255,0,0)" stop-opacity="0.000"/><stop offset="0.950" stop-color="rgb(255,0,0)" stop-opacity="0.000"/><stop offset="1.000" stop-color="rgb(255,0,0)" stop-opacity="0.000"/></radialGradient>
<radialGradient id="g33"><stop offset="0.000" stop-color="rgb(255,0,0)" stop-opacity="0.020"/><stop offset="0.050" stop-color="rgb(255,0,0)" stop-opacity="0.020"/><stop offset="0.100" stop-color="rgb(255,0,0)" stop-opacity="0.020"/><stop offset="0.150" stop-color="rgb(255,0,0)" stop-opacity="0.019"/><stop offset="0.200" stop-color="rgb(255,0,0)" stop-opacity="0.018"/><stop offset="0.250" stop-color="rgb(255,0,0)" stop-opacity="0.017"/><stop offset="0.300" stop-color="rgb(255,0,0)" stop-opacity="0.015"/><stop offset="0.350" stop-color="rgb(255,0,0)" stop-opacity="0.013"/><stop offset="0.400" stop-color="rgb(255,0,0)" stop-opacity="0.012"/><stop offset="0.450" stop-color="rgb(255,0,0)" stop-opacity="0.010"/><stop offset="0.500" stop-color="rgb(255,0,0)" stop-opacity="0.008"/><stop offset="0.550" stop-color="rgb(255,0,0)" stop-opacity="0.006"/><stop offset="0.600" stop-color="rgb(255,0,0)" stop-opacity="0.004"/><stop offset="0.650" stop-color="rgb(255,0,0)" stop-opacity="0.003"/><stop offset="0.700" stop-color="rgb(255,0,0)" stop-opacity="0.002"/><stop offset="0.750" stop-color="rgb(255,0,0)" stop-opacity="0.001"/><stop offset="0.800" stop-color="rgb(255,0,0)" stop-opacity="0.001"/><stop offset="0.850" stop-color="rgb(255,0,0)" stop-opacity="0.001"/><stop offset="0.900" stop-color="rgb(255,0,0)" stop-opacity="0.000"/><stop offset="0.950" stop-color="rgb(255,0,0)" stop-opacity="0.000"/><stop offset="1.000" stop-color="rgb(255,0,0)" stop-opacity="0.000"/></radialGradient>
<radialGradient id="g34"><stop offset="0.000" stop-color="rgb(255,0,0)" stop-opacity="0.070"/><stop offset="0.050" stop-color="rgb(255,0,0)" stop-opacity="0.070"/><stop offset="0.100" stop-color="rgb(255,0,0)" stop-opacity="0.069"/><stop offset="0.150" stop-color="rgb(255,0,0)" stop-opacity="0.067"/><stop offset="0.200" stop-color="rgb(255,0,0)" stop-opacity="0.063"/><stop offset="0.250" stop-color="rgb(255,0,0)" stop-opacity="0.059"/><stop offset="0.300" stop-color="rgb(255,0,0)" stop-opacity="0.054"/><stop offset="0.350" stop-color="rgb(255,0,0)" stop-opacity="0.047"/><stop offset="0.400" stop-color="rgb(255,0,0)" stop-opacity="0.040"/><stop offset="0.450" stop-color="rgb(255,0,0)" stop-opacity="0.033"/><stop offset="0.500" stop-color="rgb(255,0,0)" stop-opacity="0.027"/><stop offset="0.550" stop-color="rgb(255,0,0)" stop-opacity="0.021"/><stop offset="0.600" stop-color="rgb(255,0,0)" stop-opacity="0.015"/><stop offset="0.650" stop-color="rgb(255,0,0)" stop-opacity="0.011"/><stop offset="0.700" stop-color="rgb(255,0,0)" stop-opacity="0.007"/><stop offset="0.750" stop-color="rgb(255,0,0)" stop-opacity="0.005"/><stop offset="0.800" stop-color="rgb(255,0,0)" stop-opacity="0.003"/><stop offset="0.850" stop-color="rgb(255,0,0)" stop-opacity="0.002"/><stop offset="0.900" stop-color="rgb(255,0,0)" stop-opacity="0.001"/><stop offset="0.950" stop-color="rgb(255,0,0)" stop-opacity="0.001"/><stop offset="1.000" stop-color="rgb(255,0,0)" stop-opacity="0.000"/></radialGradient>
<radialGradient id="g35"><stop offset="0.000" stop-color="rgb(0,0,255)" stop-opacity="0.140"/><stop offset="0.050" stop-color="rgb(0,0,255)" stop-opacity="0.140"/><stop offset="0.100" stop-color="rgb(0,0,255)" stop-opacity="0.138"/><stop offset="0.150" stop-color="rgb(0,0,255)" stop-opacity="0.134"/><stop offset="0.200" stop-color="rgb(0,0,255)" stop-opacity="0.127"/><stop offset="0.250" stop-color="rgb(0,0,255)" stop-opacity="0.118"/><stop offset="0.300" stop-color="rgb(0,0,255)" stop-opacity="0.107"/><stop offset="0.350" stop-color="rgb(0,0,255)" stop-opacity="0.094"/><stop offset="0.400" stop-color="rgb(0,0,255)" stop-opacity="0.081"/><stop offset="0.450" stop-color="rgb(0,0,255)" stop-opacity="0.067"/><stop offset="0.500" stop-color="rgb(0,0,255)" stop-opacity="0.053"/><stop offset="0.550" stop-color="rgb(0,0,255)" stop-opacity="0.041"/><stop offset="0.600" stop-color="rgb(0,0,255)" stop-opacity="0.031"/><stop offset="0.650" stop-color="rgb(0,0,255)" stop-opacity="0.022"/><stop offset="0.700" stop-color="rgb(0,0,255)" stop-opacity="0.015"/><stop offset="0.750" stop-color="rgb(0,0,255)" stop-opacity="0.010"/><stop offset="0.800" stop-color="rgb(0,0,255)" stop-opacity="0.006"/><stop offset="0.850" stop-color="rgb(0,0,255)" stop-opacity="0.004"/><stop offset="0.900" stop-color="rgb(0,0,255)" stop-opacity="0.002"/><stop offset="0.950" stop-color="rgb(0,0,255)" stop-opacity="0.001"/><stop offset="1.000" stop-color="rgb(0,0,255)" stop-opacity="0.000"/></radialGradient>
<radialGradient id="g36"><stop offset="0.000" stop-color="rgb(0,0,255)" stop-opacity="1.000"/><stop offset="0.050" stop-color="rgb(0,0,255)" stop-opacity="1.000"/><stop offset="0.100" stop-color="rgb(0,0,255)" stop-opacity="1.000"/><stop offset="0.150" stop-color="rgb(0,0,255)" stop-opacity="1.000"/><stop offset="0.200" stop-color="rgb(0,0,255)" stop-opacity="0.998"/><stop offset="0.250" stop-color="rgb(0,0,255)" stop-opacity="0.928"/><stop offset="0.300" stop-color="rgb(0,0,255)" stop-opacity="0.841"/><stop offset="0.350" stop-color="rgb(0,0,255)" stop-opacity="0.741"/><stop offset="0.400" stop-color="rgb(0,0,255)" stop-opacity="0.634"/><stop offset="0.450" stop-color="rgb(0,0,255)" stop-opacity="0.525"/><stop offset="0.500" stop-color="rgb(0,0,255)" stop-opacity="0.420"/><stop offset="0.550" stop-color="rgb(0,0,255)" stop-opacity="0.324"/><stop offset="0.600" stop-color="rgb(0,0,255)" stop-opacity="0.241"/><stop offset="0.650" stop-color="rgb(0,0,255)" stop-opacity="0.172"/><stop offset="0.700" stop-color="rgb(0,0,255)" stop-opacity="0.118"/><stop offset="0.750" stop-color="rgb(0,0,255)" stop-opacity="0.077"/><stop offset="0.800" stop-color="rgb(0,0,255)" stop-opacity="0.049"/><stop offset="0.850" stop-color="rgb(0,0,255)" stop-opacity="0.029"/><stop offset="0.900" stop-color="rgb(0,0,255)" stop-opacity="0.017"/><stop offset="0.950" stop-color="rgb(0,0,255)" stop-opacity="0.009"/><stop offset="1.000" stop-color="rgb(0,0,255)" stop-opacity="0.000"/></radialGradient><radialGradient id="d36"><stop offset="0.000" stop-color="#000" stop-opacity="0.070"/><stop offset="0.050" stop-color="#000" stop-opacity="0.068"/><stop offset="0.100" stop-color="#000" stop-opacity="0.057"/><stop offset="0.150" stop-color="#000" stop-opacity="0.034"/><stop offset="0.200" stop-color="#000" stop-opacity="0.000"/><stop offset="0.250" stop-color="#000" stop-opacity="0.000"/><stop offset="0.300" stop-color="#000" stop-opacity="0.000"/><stop offset="0.350" stop-color="#000" stop-opacity="0.000"/><stop offset="0.400" stop-color="#000" stop-opacity="0.000"/><stop offset="0.450" stop-color="#000" stop-opacity="0.000"/><stop offset="0.500" stop-color="#000" stop-opacity="0.000"/><stop offset="0.550" stop-color="#000" stop-opacity="0.000"/><stop offset="0.600" stop-color="#000" stop-opacity="0.000"/><stop offset="0.650" stop-color="#000" stop-opacity="0.000"/><stop offset="0.700" stop-color="#000" stop-opacity="0.000"/><stop offset="0.750" stop-color="#000" stop-opacity="0.000"/><stop offset="0.800" stop-color="#000" stop-opacity="0.000"/><stop offset="0.850" stop-color="#000" stop-opacity="0.000"/><stop offset="0.900" stop-color="#000" stop-opacity="0.000"/><stop offset="0.950" stop-color="#000" stop-opacity="0.000"/><stop offset="1.000" stop-color="#000" stop-opacity="0.000"/></radialGradient>
<radialGradient id="g37"><stop offset="0.000" stop-color="rgb(255,0,0)" stop-opacity="0.140"/><stop offset="0.050" stop-color="rgb(255,0,0)" stop-opacity="0.140"/><stop offset="0.100" stop-color="rgb(255,0,0)" stop-opacity="0.138"/><stop offset="0.150" stop-color="rgb(255,0,0)" stop-opacity="0.134"/><stop offset="0.200" stop-color="rgb(255,0,0)" stop-opacity="0.127"/><stop offset="0.250" stop-color="rgb(255,0,0)" stop-opacity="0.118"/><stop offset="0.300" stop-color="rgb(255,0,0)" stop-opacity="0.107"/><stop offset="0.350" stop-color="rgb(255,0,0)" stop-opacity="0.094"/><stop offset="0.400" stop-color="rgb(255,0,0)" stop-opacity="0.081"/><stop offset="0.450" stop-color="rgb(255,0,0)" stop-opacity="0.067"/><stop offset="0.500" stop-color="rgb(255,0,0)" stop-opacity="0.053"/><stop offset="0.550" stop-color="rgb(255,0,0)" stop-opacity="0.041"/><stop offset="0.600" stop-color="rgb(255,0,0)" stop-opacity="0.031"/><stop offset="0.650" stop-color="rgb(255,0,0)" stop-opacity="0.022"/><stop offset="0.700" stop-color="rgb(255,0,0)" stop-opacity="0.015"/><stop offset="0.750" stop-color="rgb(255,0,0)" stop-opacity="0.010"/><stop offset="0.800" stop-color="rgb(255,0,0)" stop-opacity="0.006"/><stop offset="0.850" stop-color="rgb(255,0,0)" stop-opacity="0.004"/><stop offset="0.900" stop-color="rgb(255,0,0)" stop-opacity="0.002"/><stop offset="0.950" stop-color="rgb(255,0,0)" stop-opacity="0.001"/><stop offset="1.000" stop-color="rgb(255,0,0)" stop-opacity="0.000"/></radialGradient>
<radialGradient id="g38"><stop offset="0.000" stop-color="rgb(255,0,0)" stop-opacity="0.180"/><stop offset="0.050" stop-color="rgb(255,0,0)" stop-opacity="0.179"/><stop offset="0.100" stop-color="rgb(255,0,0)" stop-opacity="0.177"/><stop offset="0.150" stop-color="rgb(255,0,0)" stop-opacity="0.172"/><stop offset="0.200" stop-color="rgb(255,0,0)" stop-opacity="0.163"/><stop offset="0.250" stop-color="rgb(255,0,0)" stop-opacity="0.152"/><stop offset="0.300" stop-color="rgb(255,0,0)" stop-opacity="0.138"/><stop offset="0.350" stop-color="rgb(255,0,0)" stop-opacity="0.121"/><stop offset="0.400" stop-color="rgb(255,0,0)" stop-opacity="0.104"/><stop offset="0.450" stop-color="rgb(255,0,0)" stop-opacity="0.086"/><stop offset="0.500" stop-color="rgb(255,0,0)" stop-opacity="0.069"/><stop offset="0.550" stop-color="rgb(255,0,0)" stop-opacity="0.053"/><stop offset="0.600" stop-color="rgb(255,0,0)" stop-opacity="0.039"/><stop offset="0.650" stop-color="rgb(255,0,0)" stop-opacity="0.028"/><stop offset="0.700" stop-color="rgb(255,0,0)" stop-opacity="0.019"/><stop offset="0.750" stop-color="rgb(255,0,0)" stop-opacity="0.013"/><stop offset="0.800" stop-color="rgb(255,0,0)" stop-opacity="0.008"/><stop offset="0.850" stop-color="rgb(255,0,0)" stop-opacity="0.005"/><stop offset="0.900" stop-color="rgb(255,0,0)" stop-opacity="0.003"/><stop offset="0.950" stop-color="rgb(255,0,0)" stop-opacity="0.001"/><stop offset="1.000" stop-color="rgb(255,0,0)" stop-opacity="0.000"/></radialGradient>
<radialGradient id="g39"><stop offset="0.000" stop-color="rgb(255,0,0)" stop-opacity="1.000"/><stop offset="0.050" stop-color="rgb(255,0,0)" stop-opacity="1.000"/><stop offset="0.100" stop-color="rgb(255,0,0)" stop-opacity="1.000"/><stop offset="0.150" stop-color="rgb(255,0,0)" stop-opacity="1.000"/><stop offset="0.200" stop-color="rgb(255,0,0)" stop-opacity="1.000"/><stop offset="0.250" stop-color="rgb(255,0,0)" stop-opacity="1.000"/><stop offset="0.300" stop-color="rgb(255,0,0)" stop-opacity="1.000"/><stop offset="0.350" stop-color="rgb(255,0,0)" stop-opacity="1.000"/><stop offset="0.400" stop-color="rgb(255,0,0)" stop-opacity="1.000"/><stop offset="0.450" stop-color="rgb(255,0,0)" stop-opacity="0.906"/><stop offset="0.500" stop-color="rgb(255,0,0)" stop-opacity="0.725"/><stop offset="0.550" stop-color="rgb(255,0,0)" stop-opacity="0.559"/><stop offset="0.600" stop-color="rgb(255,0,0)" stop-opacity="0.416"/><stop offset="0.650" stop-color="rgb(255,0,0)" stop-opacity="0.297"/><stop offset="0.700" stop-color="rgb(255,0,0)" stop-opacity="0.203"/><stop offset="0.750" stop-color="rgb(255,0,0)" stop-opacity="0.134"/><stop offset="0.800" stop-color="rgb(255,0,0)" stop-opacity="0.084"/><stop offset="0.850" stop-color="rgb(255,0,0)" stop-opacity="0.050"/><stop offset="0.900" stop-color="rgb(255,0,0)" stop-opacity="0.029"/><stop offset="0.950" stop-color="rgb(255,0,0)" stop-opacity="0.016"/><stop offset="1.000" stop-color="rgb(255,0,0)" stop-opacity="0.000"/></radialGradient><radialGradient id="d39"><stop offset="0.000" stop-color="#000" stop-opacity="0.450"/><stop offset="0.050" stop-color="#000" stop-opacity="0.447"/><stop offset="0.100" stop-color="#000" stop-opacity="0.434"/><stop offset="0.150" stop-color="#000" stop-opacity="0.406"/><stop offset="0.200" stop-color="#000" stop-opacity="0.362"/><stop offset="0.250" stop-color="#000" stop-opacity="0.301"/><stop offset="0.300" stop-color="#000" stop-opacity="0.226"/><stop offset="0.350" stop-color="#000" stop-opacity="0.140"/><stop offset="0.400" stop-color="#000" stop-opacity="0.047"/><stop offset="0.450" stop-color="#000" stop-opacity="0.000"/><stop offset="0.500" stop-color="#000" stop-opacity="0.000"/><stop offset="0.550" stop-color="#000" stop-opacity="0.000"/><stop offset="0.600" stop-color="#000" stop-opacity="0.000"/><stop offset="0.650" stop-color="#000" stop-opacity="0.000"/><stop offset="0.700" stop-color="#000" stop-opacity="0.000"/><stop offset="0.750" stop-color="#000" stop-opacity="0.000"/><stop offset="0.800" stop-color="#000" stop-opacity="0.000"/><stop offset="0.850" stop-color="#000" stop-opacity="0.000"/><stop offset="0.900" stop-color="#000" stop-opacity="0.000"/><stop offset="0.950" stop-color="#000" stop-opacity="0.000"/><stop offset="1.000" stop-color="#000" stop-opacity="0.000"/></radialGradient>
<radialGradient id="g40"><stop offset="0.000" stop-color="rgb(0,0,255)" stop-opacity="0.180"/><stop offset="0.050" stop-color="rgb(0,0,255)" stop-opacity="0.179"/><stop offset="0.100" stop-color="rgb(0,0,255)" stop-opacity="0.177"/><stop offset="0.150" stop-color="rgb(0,0,255)" stop-opacity="0.172"/><stop offset="0.200" stop-color="rgb(0,0,255)" stop-opacity="0.163"/><stop offset="0.250" stop-color="rgb(0,0,255)" stop-opacity="0.152"/><stop offset="0.300" stop-color="rgb(0,0,255)" stop-opacity="0.138"/><stop offset="0.350" stop-color="rgb(0,0,255)" stop-opacity="0.121"/><stop offset="0.400" stop-color="rgb(0,0,255)" stop-opacity="0.104"/><stop offset="0.450" stop-color="rgb(0,0,255)" stop-opacity="0.086"/><stop offset="0.500" stop-color="rgb(0,0,255)" stop-opacity="0.069"/><stop offset="0.550" stop-color="rgb(0,0,255)" stop-opacity="0.053"/><stop offset="0.600" stop-color="rgb(0,0,255)" stop-opacity="0.039"/><stop offset="0.650" stop-color="rgb(0,0,255)" stop-opacity="0.028"/><stop offset="0.700" stop-color="rgb(0,0,255)" stop-opacity="0.019"/><stop offset="0.750" stop-color="rgb(0,0,255)" stop-opacity="0.013"/><stop offset="0.800" stop-color="rgb(0,0,255)" stop-opacity="0.008"/><stop offset="0.850" stop-color="rgb(0,0,255)" stop-opacity="0.005"/><stop offset="0.900" stop-color="rgb(0,0,255)" stop-opacity="0.003"/><stop offset="0.950" stop-color="rgb(0,0,255)" stop-opacity="0.001"/><stop offset="1.000" stop-color="rgb(0,0,255)" stop-opacity="0.000"/></radialGradient>
<radialGradient id="g41"><stop offset="0.000" stop-color="rgb(0,0,255)" stop-opacity="1.000"/><stop offset="0.050" stop-color="rgb(0,0,255)" stop-opacity="1.000"/><stop offset="0.100" stop-color="rgb(0,0,255)" stop-opacity="1.000"/><stop offset="0.150" stop-color="rgb(0,0,255)" stop-opacity="1.000"/><stop offset="0.200" stop-color="rgb(0,0,255)" stop-opacity="1.000"/><stop offset="0.250" stop-color="rgb(0,0,255)" stop-opacity="1.000"/><stop offset="0.300" stop-color="rgb(0,0,255)" stop-opacity="1.000"/><stop offset="0.350" stop-color="rgb(0,0,255)" stop-opacity="1.000"/><stop offset="0.400" stop-color="rgb(0,0,255)" stop-opacity="1.000"/><stop offset="0.450" stop-color="rgb(0,0,255)" stop-opacity="1.000"/><stop offset="0.500" stop-color="rgb(0,0,255)" stop-opacity="0.809"/><stop offset="0.550" stop-color="rgb(0,0,255)" stop-opacity="0.624"/><stop offset="0.600" stop-color="rgb(0,0,255)" stop-opacity="0.464"/><stop offset="0.650" stop-color="rgb(0,0,255)" stop-opacity="0.331"/><stop offset="0.700" stop-color="rgb(0,0,255)" stop-opacity="0.227"/><stop offset="0.750" stop-color="rgb(0,0,255)" stop-opacity="0.149"/><stop offset="0.800" stop-color="rgb(0,0,255)" stop-opacity="0.094"/><stop offset="0.850" stop-color="rgb(0,0,255)" stop-opacity="0.056"/><stop offset="0.900" stop-color="rgb(0,0,255)" stop-opacity="0.032"/><stop offset="0.950" stop-color="rgb(0,0,255)" stop-opacity="0.018"/><stop offset="1.000" stop-color="rgb(0,0,255)" stop-opacity="0.000"/></radialGradient><radialGradient id="d41"><stop offset="0.000" stop-color="#000" stop-opacity="0.700"/><stop offset="0.050" stop-color="#000" stop-opacity="0.700"/><stop offset="0.100" stop-color="#000" stop-opacity="0.700"/><stop offset="0.150" stop-color="#000" stop-opacity="0.700"/><stop offset="0.200" stop-color="#000" stop-opacity="0.646"/><stop offset="0.250" stop-color="#000" stop-opacity="0.552"/><stop offset="0.300" stop-color="#000" stop-opacity="0.434"/><stop offset="0.350" stop-color="#000" stop-opacity="0.300"/><stop offset="0.400" stop-color="#000" stop-opacity="0.155"/><stop offset="0.450" stop-color="#000" stop-opacity="0.008"/><stop offset="0.500" stop-color="#000" stop-opacity="0.000"/><stop offset="0.550" stop-color="#000" stop-opacity="0.000"/><stop offset="0.600" stop-color="#000" stop-opacity="0.000"/><stop offset="0.650" stop-color="#000" stop-opacity="0.000"/><stop offset="0.700" stop-color="#000" stop-opacity="0.000"/><stop offset="0.750" stop-color="#000" stop-opacity="0.000"/><stop offset="0.800" stop-color="#000" stop-opacity="0.000"/><stop offset="0.850" stop-color="#000" stop-opacity="0.000"/><stop offset="0.900" stop-color="#000" stop-opacity="0.000"/><stop offset="0.950" stop-color="#000" stop-opacity="0.000"/><stop offset="1.000" stop-color="#000" stop-opacity="0.000"/></radialGradient>
<radialGradient id="g42"><stop offset="0.000" stop-color="rgb(0,0,255)" stop-opacity="0.140"/><stop offset="0.050" stop-color="rgb(0,0,255)" stop-opacity="0.140"/><stop offset="0.100" stop-color="rgb(0,0,255)" stop-opacity="0.138"/><stop offset="0.150" stop-color="rgb(0,0,255)" stop-opacity="0.134"/><stop offset="0.200" stop-color="rgb(0,0,255)" stop-opacity="0.127"/><stop offset="0.250" stop-color="rgb(0,0,255)" stop-opacity="0.118"/><stop offset="0.300" stop-color="rgb(0,0,255)" stop-opacity="0.107"/><stop offset="0.350" stop-color="rgb(0,0,255)" stop-opacity="0.094"/><stop offset="0.400" stop-color="rgb(0,0,255)" stop-opacity="0.081"/><stop offset="0.450" stop-color="rgb(0,0,255)" stop-opacity="0.067"/><stop offset="0.500" stop-color="rgb(0,0,255)" stop-opacity="0.053"/><stop offset="0.550" stop-color="rgb(0,0,255)" stop-opacity="0.041"/><stop offset="0.600" stop-color="rgb(0,0,255)" stop-opacity="0.031"/><stop offset="0.650" stop-color="rgb(0,0,255)" stop-opacity="0.022"/><stop offset="0.700" stop-color="rgb(0,0,255)" stop-opacity="0.015"/><stop offset="0.750" stop-color="rgb(0,0,255)" stop-opacity="0.010"/><stop offset="0.800" stop-color="rgb(0,0,255)" stop-opacity="0.006"/><stop offset="0.850" stop-color="rgb(0,0,255)" stop-opacity="0.004"/><stop offset="0.900" stop-color="rgb(0,0,255)" stop-opacity="0.002"/><stop offset="0.950" stop-color="rgb(0,0,255)" stop-opacity="0.001"/><stop offset="1.000" stop-color="rgb(0,0,255)" stop-opacity="0.000"/></radialGradient>
<radialGradient id="g43"><stop offset="0.000" stop-color="rgb(0,0,255)" stop-opacity="0.120"/><stop offset="0.050" stop-color="rgb(0,0,255)" stop-opacity="0.120"/><stop offset="0.100" stop-color="rgb(0,0,255)" stop-opacity="0.118"/><stop offset="0.150" stop-color="rgb(0,0,255)" stop-opacity="0.114"/><stop offset="0.200" stop-color="rgb(0,0,255)" stop-opacity="0.109"/><stop offset="0.250" stop-color="rgb(0,0,255)" stop-opacity="0.101"/><stop offset="0.300" stop-color="rgb(0,0,255)" stop-opacity="0.092"/><stop offset="0.350" stop-color="rgb(0,0,255)" stop-opacity="0.081"/><stop offset="0.400" stop-color="rgb(0,0,255)" stop-opacity="0.069"/><stop offset="0.450" stop-color="rgb(0,0,255)" stop-opacity="0.057"/><stop offset="0.500" stop-color="rgb(0,0,255)" stop-opacity="0.046"/><stop offset="0.550" stop-color="rgb(0,0,255)" stop-opacity="0.035"/><stop offset="0.600" stop-color="rgb(0,0,255)" stop-opacity="0.026"/><stop offset="0.650" stop-color="rgb(0,0,255)" stop-opacity="0.019"/><stop offset="0.700" stop-color="rgb(0,0,255)" stop-opacity="0.013"/><stop offset="0.750" stop-color="rgb(0,0,255)" stop-opacity="0.008"/><stop offset="0.800" stop-color="rgb(0,0,255)" stop-opacity="0.005"/><stop offset="0.850" stop-color="rgb(0,0,255)" stop-opacity="0.003"/><stop offset="0.900" stop-color="rgb(0,0,255)" stop-opacity="0.002"/><stop offset="0.950" stop-color="rgb(0,0,255)" stop-opacity="0.001"/><stop offset="1.000" stop-color="rgb(0,0,255)" stop-opacity="0.000"/></radialGradient>
<radialGradient id="g44"><stop offset="0.000" stop-color="rgb(0,0,255)" stop-opacity="0.120"/><stop offset="0.050" stop-color="rgb(0,0,255)" stop-opacity="0.120"/><stop offset="0.100" stop-color="rgb(0,0,255)" stop-opacity="0.118"/><stop offset="0.150" stop-color="rgb(0,0,255)" stop-opacity="0.114"/><stop offset="0.200" stop-color="rgb(0,0,255)" stop-opacity="0.109"/><stop offset="0.250" stop-color="rgb(0,0,255)" stop-opacity="0.101"/><stop offset="0.300" stop-color="rgb(0,0,255)" stop-opacity="0.092"/><stop offset="0.350" stop-color="rgb(0,0,255)" stop-opacity="0.081"/><stop offset="0.400" stop-color="rgb(0,0,255)" stop-opacity="0.069"/><stop offset="0.450" stop-color="rgb(0,0,255)" stop-opacity="0.057"/><stop offset="0.500" stop-color="rgb(0,0,255)" stop-opacity="0.046"/><stop offset="0.550" stop-color="rgb(0,0,255)" stop-opacity="0.035"/><stop offset="0.600" stop-color="rgb(0,0,255)" stop-opacity="0.026"/><stop offset="0.650" stop-color="rgb(0,0,255)" stop-opacity="0.019"/><stop offset="0.700" stop-color="rgb(0,0,255)" stop-opacity="0.013"/><stop offset="0.750" stop-color="rgb(0,0,255)" stop-opacity="0.008"/><stop offset="0.800" stop-color="rgb(0,0,255)" stop-opacity="0.005"/><stop offset="0.850" stop-color="rgb(0,0,255)" stop-opacity="0.003"/><stop offset="0.900" stop-color="rgb(0,0,255)" stop-opacity="0.002"/><stop offset="0.950" stop-color="rgb(0,0,255)" stop-opacity="0.001"/><stop offset="1.000" stop-color="rgb(0,0,255)" stop-opacity="0.000"/></radialGradient>
<radialGradient id="g45"><stop offset="0.000" stop-color="rgb(0,0,255)" stop-opacity="1.000"/><stop offset="0.050" stop-color="rgb(0,0,255)" stop-opacity="1.000"/><stop offset="0.100" stop-color="rgb(0,0,255)" stop-opacity="1.000"/><stop offset="0.150" stop-color="rgb(0,0,255)" stop-opacity="1.000"/><stop offset="0.200" stop-color="rgb(0,0,255)" stop-opacity="0.998"/><stop offset="0.250" stop-color="rgb(0,0,255)" stop-opacity="0.928"/><stop offset="0.300" stop-color="rgb(0,0,255)" stop-opacity="0.841"/><stop offset="0.350" stop-color="rgb(0,0,255)" stop-opacity="0.741"/><stop offset="0.400" stop-color="rgb(0,0,255)" stop-opacity="0.634"/><stop offset="0.450" stop-color="rgb(0,0,255)" stop-opacity="0.525"/><stop offset="0.500" stop-color="rgb(0,0,255)" stop-opacity="0.420"/><stop offset="0.550" stop-color="rgb(0,0,255)" stop-opacity="0.324"/><stop offset="0.600" stop-color="rgb(0,0,255)" stop-opacity="0.241"/><stop offset="0.650" stop-color="rgb(0,0,255)" stop-opacity="0.172"/><stop offset="0.700" stop-color="rgb(0,0,255)" stop-opacity="0.118"/><stop offset="0.750" stop-color="rgb(0,0,255)" stop-opacity="0.077"/><stop offset="0.800" stop-color="rgb(0,0,255)" stop-opacity="0.049"/><stop offset="0.850" stop-color="rgb(0,0,255)" stop-opacity="0.029"/><stop offset="0.900" stop-color="rgb(0,0,255)" stop-opacity="0.017"/><stop offset="0.950" stop-color="rgb(0,0,255)" stop-opacity="0.009"/><stop offset="1.000" stop-color="rgb(0,0,255)" stop-opacity="0.000"/></radialGradient><radialGradient id="d45"><stop offset="0.000" stop-color="#000" stop-opacity="0.070"/><stop offset="0.050" stop-color="#000" stop-opacity="0.068"/><stop offset="0.100" stop-color="#000" stop-opacity="0.057"/><stop offset="0.150" stop-color="#000" stop-opacity="0.034"/><stop offset="0.200" stop-color="#000" stop-opacity="0.000"/><stop offset="0.250" stop-color="#000" stop-opacity="0.000"/><stop offset="0.300" stop-color="#000" stop-opacity="0.000"/><stop offset="0.350" stop-color="#000" stop-opacity="0.000"/><stop offset="0.400" stop-color="#000" stop-opacity="0.000"/><stop offset="0.450" stop-color="#000" stop-opacity="0.000"/><stop offset="0.500" stop-color="#000" stop-opacity="0.000"/><stop offset="0.550" stop-color="#000" stop-opacity="0.000"/><stop offset="0.600" stop-color="#000" stop-opacity="0.000"/><stop offset="0.650" stop-color="#000" stop-opacity="0.000"/><stop offset="0.700" stop-color="#000" stop-opacity="0.000"/><stop offset="0.750" stop-color="#000" stop-opacity="0.000"/><stop offset="0.800" stop-color="#000" stop-opacity="0.000"/><stop offset="0.850" stop-color="#000" stop-opacity="0.000"/><stop offset="0.900" stop-color="#000" stop-opacity="0.000"/><stop offset="0.950" stop-color="#000" stop-opacity="0.000"/><stop offset="1.000" stop-color="#000" stop-opacity="0.000"/></radialGradient>
<radialGradient id="g46"><stop offset="0.000" stop-color="rgb(255,0,0)" stop-opacity="0.040"/><stop offset="0.050" stop-color="rgb(255,0,0)" stop-opacity="0.040"/><stop offset="0.100" stop-color="rgb(255,0,0)" stop-opacity="0.039"/><stop offset="0.150" stop-color="rgb(255,0,0)" stop-opacity="0.038"/><stop offset="0.200" stop-color="rgb(255,0,0)" stop-opacity="0.036"/><stop offset="0.250" stop-color="rgb(255,0,0)" stop-opacity="0.034"/><stop offset="0.300" stop-color="rgb(255,0,0)" stop-opacity="0.031"/><stop offset="0.350" stop-color="rgb(255,0,0)" stop-opacity="0.027"/><stop offset="0.400" stop-color="rgb(255,0,0)" stop-opacity="0.023"/><stop offset="0.450" stop-color="rgb(255,0,0)" stop-opacity="0.019"/><stop offset="0.500" stop-color="rgb(255,0,0)" stop-opacity="0.015"/><stop offset="0.550" stop-color="rgb(255,0,0)" stop-opacity="0.012"/><stop offset="0.600" stop-color="rgb(255,0,0)" stop-opacity="0.009"/><stop offset="0.650" stop-color="rgb(255,0,0)" stop-opacity="0.006"/><stop offset="0.700" stop-color="rgb(255,0,0)" stop-opacity="0.004"/><stop offset="0.750" stop-color="rgb(255,0,0)" stop-opacity="0.003"/><stop offset="0.800" stop-color="rgb(255,0,0)" stop-opacity="0.002"/><stop offset="0.850" stop-color="rgb(255,0,0)" stop-opacity="0.001"/><stop offset="0.900" stop-color="rgb(255,0,0)" stop-opacity="0.001"/><stop offset="0.950" stop-color="rgb(255,0,0)" stop-opacity="0.000"/><stop offset="1.000" stop-color="rgb(255,0,0)" stop-opacity="0.000"/></radialGradient>
<radialGradient id="g47"><stop offset="0.000" stop-color="rgb(0,0,255)" stop-opacity="0.080"/><stop offset="0.050" stop-color="rgb(0,0,255)" stop-opacity="0.080"/><stop offset="0.100" stop-color="rgb(0,0,255)" stop-opacity="0.079"/><stop offset="0.150" stop-color="rgb(0,0,255)" stop-opacity="0.076"/><stop offset="0.200" stop-color="rgb(0,0,255)" stop-opacity="0.073"/><stop offset="0.250" stop-color="rgb(0,0,255)" stop-opacity="0.067"/><stop offset="0.300" stop-color="rgb(0,0,255)" stop-opacity="0.061"/><stop offset="0.350" stop-color="rgb(0,0,255)" stop-opacity="0.054"/><stop offset="0.400" stop-color="rgb(0,0,255)" stop-opacity="0.046"/><stop offset="0.450" stop-color="rgb(0,0,255)" stop-opacity="0.038"/><stop offset="0.500" stop-color="rgb(0,0,255)" stop-opacity="0.031"/><stop offset="0.550" stop-color="rgb(0,0,255)" stop-opacity="0.024"/><stop offset="0.600" stop-color="rgb(0,0,255)" stop-opacity="0.018"/><stop offset="0.650" stop-color="rgb(0,0,255)" stop-opacity="0.012"/><stop offset="0.700" stop-color="rgb(0,0,255)" stop-opacity="0.009"/><stop offset="0.750" stop-color="rgb(0,0,255)" stop-opacity="0.006"/><stop offset="0.800" stop-color="rgb(0,0,255)" stop-opacity="0.004"/><stop offset="0.850" stop-color="rgb(0,0,255)" stop-opacity="0.002"/><stop offset="0.900" stop-color="rgb(0,0,255)" stop-opacity="0.001"/><stop offset="0.950" stop-color="rgb(0,0,255)" stop-opacity="0.001"/><stop offset="1.000" stop-color="rgb(0,0,255)" stop-opacity="0.000"/></radialGradient>
<radialGradient id="g48"><stop offset="0.000" stop-color="rgb(0,0,255)" stop-opacity="0.200"/><stop offset="0.050" stop-color="rgb(0,0,255)" stop-opacity="0.199"/><stop offset="0.100" stop-color="rgb(0,0,255)" stop-opacity="0.197"/><stop offset="0.150" stop-color="rgb(0,0,255)" stop-opacity="0.191"/><stop offset="0.200" stop-color="rgb(0,0,255)" stop-opacity="0.181"/><stop offset="0.250" stop-color="rgb(0,0,255)" stop-opacity="0.169"/><stop offset="0.300" stop-color="rgb(0,0,255)" stop-opacity="0.153"/><stop offset="0.350" stop-color="rgb(0,0,255)" stop-opacity="0.135"/><stop offset="0.400" stop-color="rgb(0,0,255)" stop-opacity="0.115"/><stop offset="0.450" stop-color="rgb(0,0,255)" stop-opacity="0.095"/><stop offset="0.500" stop-color="rgb(0,0,255)" stop-opacity="0.076"/><stop offset="0.550" stop-color="rgb(0,0,255)" stop-opacity="0.059"/><stop offset="0.600" stop-color="rgb(0,0,255)" stop-opacity="0.044"/><stop offset="0.650" stop-color="rgb(0,0,255)" stop-opacity="0.031"/><stop offset="0.700" stop-color="rgb(0,0,255)" stop-opacity="0.021"/><stop offset="0.750" stop-color="rgb(0,0,255)" stop-opacity="0.014"/><stop offset="0.800" stop-color="rgb(0,0,255)" stop-opacity="0.009"/><stop offset="0.850" stop-color="rgb(0,0,255)" stop-opacity="0.005"/><stop offset="0.900" stop-color="rgb(0,0,255)" stop-opacity="0.003"/><stop offset="0.950" stop-color="rgb(0,0,255)" stop-opacity="0.002"/><stop offset="1.000" stop-color="rgb(0,0,255)" stop-opacity="0.000"/></radialGradient>
<radialGradient id="g49"><stop offset="0.000" stop-color="rgb(0,0,255)" stop-opacity="0.090"/><stop offset="0.050" stop-color="rgb(0,0,255)" stop-opacity="0.090"/><stop offset="0.100" stop-color="rgb(0,0,255)" stop-opacity="0.088"/><stop offset="0.150" stop-color="rgb(0,0,255)" stop-opacity="0.086"/><stop offset="0.200" stop-color="rgb(0,0,255)" stop-opacity="0.082"/><stop offset="0.250" stop-color="rgb(0,0,255)" stop-opacity="0.076"/><stop offset="0.300" stop-color="rgb(0,0,255)" stop-opacity="0.069"/><stop offset="0.350" stop-color="rgb(0,0,255)" stop-opacity="0.061"/><stop offset="0.400" stop-color="rgb(0,0,255)" stop-opacity="0.052"/><stop offset="0.450" stop-color="rgb(0,0,255)" stop-opacity="0.043"/><stop offset="0.500" stop-color="rgb(0,0,255)" stop-opacity="0.034"/><stop offset="0.550" stop-color="rgb(0,0,255)" stop-opacity="0.026"/><stop offset="0.600" stop-color="rgb(0,0,255)" stop-opacity="0.020"/><stop offset="0.650" stop-color="rgb(0,0,255)" stop-opacity="0.014"/><stop offset="0.700" stop-color="rgb(0,0,255)" stop-opacity="0.010"/><stop offset="0.750" stop-color="rgb(0,0,255)" stop-opacity="0.006"/><stop offset="0.800" stop-color="rgb(0,0,255)" stop-opacity="0.004"/><stop offset="0.850" stop-color="rgb(0,0,255)" stop-opacity="0.002"/><stop offset="0.900" stop-color="rgb(0,0,255)" stop-opacity="0.001"/><stop offset="0.950" stop-color="rgb(0,0,255)" stop-opacity="0.001"/><stop offset="1.000" stop-color="rgb(0,0,255)" stop-opacity="0.000"/></radialGradient>
<radialGradient id="g50"><stop offset="0.000" stop-color="rgb(0,0,255)" stop-opacity="0.080"/><stop offset="0.050" stop-color="rgb(0,0,255)" stop-opacity="0.080"/><stop offset="0.100" stop-color="rgb(0,0,255)" stop-opacity="0.079"/><stop offset="0.150" stop-color="rgb(0,0,255)" stop-opacity="0.076"/><stop offset="0.200" stop-color="rgb(0,0,255)" stop-opacity="0.073"/><stop offset="0.250" stop-color="rgb(0,0,255)" stop-opacity="0.067"/><stop offset="0.300" stop-color="rgb(0,0,255)" stop-opacity="0.061"/><stop offset="0.350" stop-color="rgb(0,0,255)" stop-opacity="0.054"/><stop offset="0.400" stop-color="rgb(0,0,255)" stop-opacity="0.046"/><stop offset="0.450" stop-color="rgb(0,0,255)" stop-opacity="0.038"/><stop offset="0.500" stop-color="rgb(0,0,255)" stop-opacity="0.031"/><stop offset="0.550" stop-color="rgb(0,0,255)" stop-opacity="0.024"/><stop offset="0.600" stop-color="rgb(0,0,255)" stop-opacity="0.018"/><stop offset="0.650" stop-color="rgb(0,0,255)" stop-opacity="0.012"/><stop offset="0.700" stop-color="rgb(0,0,255)" stop-opacity="0.009"/><stop offset="0.750" stop-color="rgb(0,0,255)" stop-opacity="0.006"/><stop offset="0.800" stop-color="rgb(0,0,255)" stop-opacity="0.004"/><stop offset="0.850" stop-color="rgb(0,0,255)" stop-opacity="0.002"/><stop offset="0.900" stop-color="rgb(0,0,255)" stop-opacity="0.001"/><stop offset="0.950" stop-color="rgb(0,0,255)" stop-opacity="0.001"/><stop offset="1.000" stop-color="rgb(0,0,255)" stop-opacity="0.000"/></radialGradient>
<radialGradient id="g51"><stop offset="0.000" stop-color="rgb(0,0,255)" stop-opacity="0.180"/><stop offset="0.050" stop-color="rgb(0,0,255)" stop-opacity="0.179"/><stop offset="0.100" stop-color="rgb(0,0,255)" stop-opacity="0.177"/><stop offset="0.150" stop-color="rgb(0,0,255)" stop-opacity="0.172"/><stop offset="0.200" stop-color="rgb(0,0,255)" stop-opacity="0.163"/><stop offset="0.250" stop-color="rgb(0,0,255)" stop-opacity="0.152"/><stop offset="0.300" stop-color="rgb(0,0,255)" stop-opacity="0.138"/><stop offset="0.350" stop-color="rgb(0,0,255)" stop-opacity="0.121"/><stop offset="0.400" stop-color="rgb(0,0,255)" stop-opacity="0.104"/><stop offset="0.450" stop-color="rgb(0,0,255)" stop-opacity="0.086"/><stop offset="0.500" stop-color="rgb(0,0,255)" stop-opacity="0.069"/><stop offset="0.550" stop-color="rgb(0,0,255)" stop-opacity="0.053"/><stop offset="0.600" stop-color="rgb(0,0,255)" stop-opacity="0.039"/><stop offset="0.650" stop-color="rgb(0,0,255)" stop-opacity="0.028"/><stop offset="0.700" stop-color="rgb(0,0,255)" stop-opacity="0.019"/><stop offset="0.750" stop-color="rgb(0,0,255)" stop-opacity="0.013"/><stop offset="0.800" stop-color="rgb(0,0,255)" stop-opacity="0.008"/><stop offset="0.850" stop-color="rgb(0,0,255)" stop-opacity="0.005"/><stop offset="0.900" stop-color="rgb(0,0,255)" stop-opacity="0.003"/><stop offset="0.950" stop-color="rgb(0,0,255)" stop-opacity="0.001"/><stop offset="1.000" stop-color="rgb(0,0,255)" stop-opacity="0.000"/></radialGradient>
<radialGradient id="g52"><stop offset="0.000" stop-color="rgb(255,0,0)" stop-opacity="0.030"/><stop offset="0.050" stop-color="rgb(255,0,0)" stop-opacity="0.030"/><stop offset="0.100" stop-color="rgb(255,0,0)" stop-opacity="0.029"/><stop offset="0.150" stop-color="rgb(255,0,0)" stop-opacity="0.029"/><stop offset="0.200" stop-color="rgb(255,0,0)" stop-opacity="0.027"/><stop offset="0.250" stop-color="rgb(255,0,0)" stop-opacity="0.025"/><stop offset="0.300" stop-color="rgb(255,0,0)" stop-opacity="0.023"/><stop offset="0.350" stop-color="rgb(255,0,0)" stop-opacity="0.020"/><stop offset="0.400" stop-color="rgb(255,0,0)" stop-opacity="0.017"/><stop offset="0.450" stop-color="rgb(255,0,0)" stop-opacity="0.014"/><stop offset="0.500" stop-color="rgb(255,0,0)" stop-opacity="0.011"/><stop offset="0.550" stop-color="rgb(255,0,0)" stop-opacity="0.009"/><stop offset="0.600" stop-color="rgb(255,0,0)" stop-opacity="0.007"/><stop offset="0.650" stop-color="rgb(255,0,0)" stop-opacity="0.005"/><stop offset="0.700" stop-color="rgb(255,0,0)" stop-opacity="0.003"/><stop offset="0.750" stop-color="rgb(255,0,0)" stop-opacity="0.002"/><stop offset="0.800" stop-color="rgb(255,0,0)" stop-opacity="0.001"/><stop offset="0.850" stop-color="rgb(255,0,0)" stop-opacity="0.001"/><stop offset="0.900" stop-color="rgb(255,0,0)" stop-opacity="0.000"/><stop offset="0.950" stop-color="rgb(255,0,0)" stop-opacity="0.000"/><stop offset="1.000" stop-color="rgb(255,0,0)" stop-opacity="0.000"/></radialGradient>
<radialGradient id="g53"><stop offset="0.000" stop-color="rgb(0,0,255)" stop-opacity="0.200"/><stop offset="0.050" stop-color="rgb(0,0,255)" stop-opacity="0.199"/><stop offset="0.100" stop-color="rgb(0,0,255)" stop-opacity="0.197"/><stop offset="0.150" stop-color="rgb(0,0,255)" stop-opacity="0.191"/><stop offset="0.200" stop-color="rgb(0,0,255)" stop-opacity="0.181"/><stop offset="0.250" stop-color="rgb(0,0,255)" stop-opacity="0.169"/><stop offset="0.300" stop-color="rgb(0,0,255)" stop-opacity="0.153"/><stop offset="0.350" stop-color="rgb(0,0,255)" stop-opacity="0.135"/><stop offset="0.400" stop-color="rgb(0,0,255)" stop-opacity="0.115"/><stop offset="0.450" stop-color="rgb(0,0,255)" stop-opacity="0.095"/><stop offset="0.500" stop-color="rgb(0,0,255)" stop-opacity="0.076"/><stop offset="0.550" stop-color="rgb(0,0,255)" stop-opacity="0.059"/><stop offset="0.600" stop-color="rgb(0,0,255)" stop-opacity="0.044"/><stop offset="0.650" stop-color="rgb(0,0,255)" stop-opacity="0.031"/><stop offset="0.700" stop-color="rgb(0,0,255)" stop-opacity="0.021"/><stop offset="0.750" stop-color="rgb(0,0,255)" stop-opacity="0.014"/><stop offset="0.800" stop-color="rgb(0,0,255)" stop-opacity="0.009"/><stop offset="0.850" stop-color="rgb(0,0,255)" stop-opacity="0.005"/><stop offset="0.900" stop-color="rgb(0,0,255)" stop-opacity="0.003"/><stop offset="0.950" stop-color="rgb(0,0,255)" stop-opacity="0.002"/><stop offset="1.000" stop-color="rgb(0,0,255)" stop-opacity="0.000"/></radialGradient>
<radialGradient id="g54"><stop offset="0.000" stop-color="rgb(0,0,255)" stop-opacity="0.200"/><stop offset="0.050" stop-color="rgb(0,0,255)" stop-opacity="0.199"/><stop offset="0.100" stop-color="rgb(0,0,255)" stop-opacity="0.197"/><stop offset="0.150" stop-color="rgb(0,0,255)" stop-opacity="0.191"/><stop offset="0.200" stop-color="rgb(0,0,255)" stop-opacity="0.181"/><stop offset="0.250" stop-color="rgb(0,0,255)" stop-opacity="0.169"/><stop offset="0.300" stop-color="rgb(0,0,255)" stop-opacity="0.153"/><stop offset="0.350" stop-color="rgb(0,0,255)" stop-opacity="0.135"/><stop offset="0.400" stop-color="rgb(0,0,255)" stop-opacity="0.115"/><stop offset="0.450" stop-color="rgb(0,0,255)" stop-opacity="0.095"/><stop offset="0.500" stop-color="rgb(0,0,255)" stop-opacity="0.076"/><stop offset="0.550" stop-color="rgb(0,0,255)" stop-opacity="0.059"/><stop offset="0.600" stop-color="rgb(0,0,255)" stop-opacity="0.044"/><stop offset="0.650" stop-color="rgb(0,0,255)" stop-opacity="0.031"/><stop offset="0.700" stop-color="rgb(0,0,255)" stop-opacity="0.021"/><stop offset="0.750" stop-color="rgb(0,0,255)" stop-opacity="0.014"/><stop offset="0.800" stop-color="rgb(0,0,255)" stop-opacity="0.009"/><stop offset="0.850" stop-color="rgb(0,0,255)" stop-opacity="0.005"/><stop offset="0.900" stop-color="rgb(0,0,255)" stop-opacity="0.003"/><stop offset="0.950" stop-color="rgb(0,0,255)" stop-opacity="0.002"/><stop offset="1.000" stop-color="rgb(0,0,255)" stop-opacity="0.000"/></radialGradient>
<radialGradient id="g55"><stop offset="0.000" stop-color="rgb(0,0,255)" stop-opacity="1.000"/><stop offset="0.050" stop-color="rgb(0,0,255)" stop-opacity="1.000"/><stop offset="0.100" stop-color="rgb(0,0,255)" stop-opacity="1.000"/><stop offset="0.150" stop-color="rgb(0,0,255)" stop-opacity="1.000"/><stop offset="0.200" stop-color="rgb(0,0,255)" stop-opacity="1.000"/><stop offset="0.250" stop-color="rgb(0,0,255)" stop-opacity="1.000"/><stop offset="0.300" stop-color="rgb(0,0,255)" stop-opacity="1.000"/><stop offset="0.350" stop-color="rgb(0,0,255)" stop-opacity="0.916"/><stop offset="0.400" stop-color="rgb(0,0,255)" stop-opacity="0.783"/><stop offset="0.450" stop-color="rgb(0,0,255)" stop-opacity="0.649"/><stop offset="0.500" stop-color="rgb(0,0,255)" stop-opacity="0.519"/><stop offset="0.550" stop-color="rgb(0,0,255)" stop-opacity="0.400"/><stop offset="0.600" stop-color="rgb(0,0,255)" stop-opacity="0.298"/><stop offset="0.650" stop-color="rgb(0,0,255)" stop-opacity="0.212"/><stop offset="0.700" stop-color="rgb(0,0,255)" stop-opacity="0.146"/><stop offset="0.750" stop-color="rgb(0,0,255)" stop-opacity="0.096"/><stop offset="0.800" stop-color="rgb(0,0,255)" stop-opacity="0.060"/><stop offset="0.850" stop-color="rgb(0,0,255)" stop-opacity="0.036"/><stop offset="0.900" stop-color="rgb(0,0,255)" stop-opacity="0.021"/><stop offset="0.950" stop-color="rgb(0,0,255)" stop-opacity="0.011"/><stop offset="1.000" stop-color="rgb(0,0,255)" stop-opacity="0.000"/></radialGradient><radialGradient id="d55"><stop offset="0.000" stop-color="#000" stop-opacity="0.252"/><stop offset="0.050" stop-color="#000" stop-opacity="0.249"/><stop offset="0.100" stop-color="#000" stop-opacity="0.236"/><stop offset="0.150" stop-color="#000" stop-opacity="0.208"/><stop offset="0.200" stop-color="#000" stop-opacity="0.164"/><stop offset="0.250" stop-color="#000" stop-opacity="0.103"/><stop offset="0.300" stop-color="#000" stop-opacity="0.028"/><stop offset="0.350" stop-color="#000" stop-opacity="0.000"/><stop offset="0.400" stop-color="#000" stop-opacity="0.000"/><stop offset="0.450" stop-color="#000" stop-opacity="0.000"/><stop offset="0.500" stop-color="#000" stop-opacity="0.000"/><stop offset="0.550" stop-color="#000" stop-opacity="0.000"/><stop offset="0.600" stop-color="#000" stop-opacity="0.000"/><stop offset="0.650" stop-color="#000" stop-opacity="0.000"/><stop offset="0.700" stop-color="#000" stop-opacity="0.000"/><stop offset="0.750" stop-color="#000" stop-opacity="0.000"/><stop offset="0.800" stop-color="#000" stop-opacity="0.000"/><stop offset="0.850" stop-color="#000" stop-opacity="0.000"/><stop offset="0.900" stop-color="#000" stop-opacity="0.000"/><stop offset="0.950" stop-color="#000" stop-opacity="0.000"/><stop offset="1.000" stop-color="#000" stop-opacity="0.000"/></radialGradient>
<radialGradient id="g56"><stop offset="0.000" stop-color="rgb(0,0,255)" stop-opacity="1.000"/><stop offset="0.050" stop-color="rgb(0,0,255)" stop-opacity="1.000"/><stop offset="0.100" stop-color="rgb(0,0,255)" stop-opacity="1.000"/><stop offset="0.150" stop-color="rgb(0,0,255)" stop-opacity="1.000"/><stop offset="0.200" stop-color="rgb(0,0,255)" stop-opacity="1.000"/><stop offset="0.250" stop-color="rgb(0,0,255)" stop-opacity="1.000"/><stop offset="0.300" stop-color="rgb(0,0,255)" stop-opacity="1.000"/><stop offset="0.350" stop-color="rgb(0,0,255)" stop-opacity="0.943"/><stop offset="0.400" stop-color="rgb(0,0,255)" stop-opacity="0.807"/><stop offset="0.450" stop-color="rgb(0,0,255)" stop-opacity="0.668"/><stop offset="0.500" stop-color="rgb(0,0,255)" stop-opacity="0.534"/><stop offset="0.550" stop-color="rgb(0,0,255)" stop-opacity="0.412"/><stop offset="0.600" stop-color="rgb(0,0,255)" stop-opacity="0.306"/><stop offset="0.650" stop-color="rgb(0,0,255)" stop-opacity="0.219"/><stop offset="0.700" stop-color="rgb(0,0,255)" stop-opacity="0.150"/><stop offset="0.750" stop-color="rgb(0,0,255)" stop-opacity="0.098"/><stop offset="0.800" stop-color="rgb(0,0,255)" stop-opacity="0.062"/><stop offset="0.850" stop-color="rgb(0,0,255)" stop-opacity="0.037"/><stop offset="0.900" stop-color="rgb(0,0,255)" stop-opacity="0.021"/><stop offset="0.950" stop-color="rgb(0,0,255)" stop-opacity="0.012"/><stop offset="1.000" stop-color="rgb(0,0,255)" stop-opacity="0.000"/></radialGradient><radialGradient id="d56"><stop offset="0.000" stop-color="#000" stop-opacity="0.280"/><stop offset="0.050" stop-color="#000" stop-opacity="0.277"/><stop offset="0.100" stop-color="#000" stop-opacity="0.263"/><stop offset="0.150" stop-color="#000" stop-opacity="0.235"/><stop offset="0.200" stop-color="#000" stop-opacity="0.189"/><stop offset="0.250" stop-color="#000" stop-opacity="0.127"/><stop offset="0.300" stop-color="#000" stop-opacity="0.049"/><stop offset="0.350" stop-color="#000" stop-opacity="0.000"/><stop offset="0.400" stop-color="#000" stop-opacity="0.000"/><stop offset="0.450" stop-color="#000" stop-opacity="0.000"/><stop offset="0.500" stop-color="#000" stop-opacity="0.000"/><stop offset="0.550" stop-color="#000" stop-opacity="0.000"/><stop offset="0.600" stop-color="#000" stop-opacity="0.000"/><stop offset="0.650" stop-color="#000" stop-opacity="0.000"/><stop offset="0.700" stop-color="#000" stop-opacity="0.000"/><stop offset="0.750" stop-color="#000" stop-opacity="0.000"/><stop offset="0.800" stop-color="#000" stop-opacity="0.000"/><stop offset="0.850" stop-color="#000" stop-opacity="0.000"/><stop offset="0.900" stop-color="#000" stop-opacity="0.000"/><stop offset="0.950" stop-color="#000" stop-opacity="0.000"/><stop offset="1.000" stop-color="#000" stop-opacity="0.000"/></radialGradient>
<radialGradient id="g57"><stop offset="0.000" stop-color="rgb(255,0,0)" stop-opacity="0.320"/><stop offset="0.050" stop-color="rgb(255,0,0)" stop-opacity="0.319"/><stop offset="0.100" stop-color="rgb(255,0,0)" stop-opacity="0.315"/><stop offset="0.150" stop-color="rgb(255,0,0)" stop-opacity="0.305"/><stop offset="0.200" stop-color="rgb(255,0,0)" stop-opacity="0.290"/><stop offset="0.250" stop-color="rgb(255,0,0)" stop-opacity="0.270"/><stop offset="0.300" stop-color="rgb(255,0,0)" stop-opacity="0.245"/><stop offset="0.350" stop-color="rgb(255,0,0)" stop-opacity="0.216"/><stop offset="0.400" stop-color="rgb(255,0,0)" stop-opacity="0.184"/><stop offset="0.450" stop-color="rgb(255,0,0)" stop-opacity="0.153"/><stop offset="0.500" stop-color="rgb(255,0,0)" stop-opacity="0.122"/><stop offset="0.550" stop-color="rgb(255,0,0)" stop-opacity="0.094"/><stop offset="0.600" stop-color="rgb(255,0,0)" stop-opacity="0.070"/><stop offset="0.650" stop-color="rgb(255,0,0)" stop-opacity="0.050"/><stop offset="0.700" stop-color="rgb(255,0,0)" stop-opacity="0.034"/><stop offset="0.750" stop-color="rgb(255,0,0)" stop-opacity="0.022"/><stop offset="0.800" stop-color="rgb(255,0,0)" stop-opacity="0.014"/><stop offset="0.850" stop-color="rgb(255,0,0)" stop-opacity="0.008"/><stop offset="0.900" stop-color="rgb(255,0,0)" stop-opacity="0.005"/><stop offset="0.950" stop-color="rgb(255,0,0)" stop-opacity="0.003"/><stop offset="1.000" stop-color="rgb(255,0,0)" stop-opacity="0.000"/></radialGradient>
<radialGradient id="g58"><stop offset="0.000" stop-color="rgb(255,0,0)" stop-opacity="1.000"/><stop offset="0.050" stop-color="rgb(255,0,0)" stop-opacity="1.000"/><stop offset="0.100" stop-color="rgb(255,0,0)" stop-opacity="1.000"/><stop offset="0.150" stop-color="rgb(255,0,0)" stop-opacity="1.000"/><stop offset="0.200" stop-color="rgb(255,0,0)" stop-opacity="1.000"/><stop offset="0.250" stop-color="rgb(255,0,0)" stop-opacity="1.000"/><stop offset="0.300" stop-color="rgb(255,0,0)" stop-opacity="1.000"/><stop offset="0.350" stop-color="rgb(255,0,0)" stop-opacity="0.943"/><stop offset="0.400" stop-color="rgb(255,0,0)" stop-opacity="0.807"/><stop offset="0.450" stop-color="rgb(255,0,0)" stop-opacity="0.668"/><stop offset="0.500" stop-color="rgb(255,0,0)" stop-opacity="0.534"/><stop offset="0.550" stop-color="rgb(255,0,0)" stop-opacity="0.412"/><stop offset="0.600" stop-color="rgb(255,0,0)" stop-opacity="0.306"/><stop offset="0.650" stop-color="rgb(255,0,0)" stop-opacity="0.219"/><stop offset="0.700" stop-color="rgb(255,0,0)" stop-opacity="0.150"/><stop offset="0.750" stop-color="rgb(255,0,0)" stop-opacity="0.098"/><stop offset="0.800" stop-color="rgb(255,0,0)" stop-opacity="0.062"/><stop offset="0.850" stop-color="rgb(255,0,0)" stop-opacity="0.037"/><stop offset="0.900" stop-color="rgb(255,0,0)" stop-opacity="0.021"/><stop offset="0.950" stop-color="rgb(255,0,0)" stop-opacity="0.012"/><stop offset="1.000" stop-color="rgb(255,0,0)" stop-opacity="0.000"/></radialGradient><radialGradient id="d58"><stop offset="0.000" stop-color="#000" stop-opacity="0.200"/><stop offset="0.050" stop-color="#000" stop-opacity="0.198"/><stop offset="0.100" stop-color="#000" stop-opacity="0.188"/><stop offset="0.150" stop-color="#000" stop-opacity="0.168"/><stop offset="0.200" stop-color="#000" stop-opacity="0.135"/><stop offset="0.250" stop-color="#000" stop-opacity="0.090"/><stop offset="0.300" stop-color="#000" stop-opacity="0.035"/><stop offset="0.350" stop-color="#000" stop-opacity="0.000"/><stop offset="0.400" stop-color="#000" stop-opacity="0.000"/><stop offset="0.450" stop-color="#000" stop-opacity="0.000"/><stop offset="0.500" stop-color="#000" stop-opacity="0.000"/><stop offset="0.550" stop-color="#000" stop-opacity="0.000"/><stop offset="0.600" stop-color="#000" stop-opacity="0.000"/><stop offset="0.650" stop-color="#000" stop-opacity="0.000"/><stop offset="0.700" stop-color="#000" stop-opacity="0.000"/><stop offset="0.750" stop-color="#000" stop-opacity="0.000"/><stop offset="0.800" stop-color="#000" stop-opacity="0.000"/><stop offset="0.850" stop-color="#000" stop-opacity="0.000"/><stop offset="0.900" stop-color="#000" stop-opacity="0.000"/><stop offset="0.950" stop-color="#000" stop-opacity="0.000"/><stop offset="1.000" stop-color="#000" stop-opacity="0.000"/></radialGradient>
<radialGradient id="g59"><stop offset="0.000" stop-color="rgb(255,0,0)" stop-opacity="0.700"/><stop offset="0.050" stop-color="rgb(255,0,0)" stop-opacity="0.698"/><stop offset="0.100" stop-color="rgb(255,0,0)" stop-opacity="0.688"/><stop offset="0.150" stop-color="rgb(255,0,0)" stop-opacity="0.668"/><stop offset="0.200" stop-color="rgb(255,0,0)" stop-opacity="0.635"/><stop offset="0.250" stop-color="rgb(255,0,0)" stop-opacity="0.590"/><stop offset="0.300" stop-color="rgb(255,0,0)" stop-opacity="0.535"/><stop offset="0.350" stop-color="rgb(255,0,0)" stop-opacity="0.472"/><stop offset="0.400" stop-color="rgb(255,0,0)" stop-opacity="0.403"/><stop offset="0.450" stop-color="rgb(255,0,0)" stop-opacity="0.334"/><stop offset="0.500" stop-color="rgb(255,0,0)" stop-opacity="0.267"/><stop offset="0.550" stop-color="rgb(255,0,0)" stop-opacity="0.206"/><stop offset="0.600" stop-color="rgb(255,0,0)" stop-opacity="0.153"/><stop offset="0.650" stop-color="rgb(255,0,0)" stop-opacity="0.109"/><stop offset="0.700" stop-color="rgb(255,0,0)" stop-opacity="0.075"/><stop offset="0.750" stop-color="rgb(255,0,0)" stop-opacity="0.049"/><stop offset="0.800" stop-color="rgb(255,0,0)" stop-opacity="0.031"/><stop offset="0.850" stop-color="rgb(255,0,0)" stop-opacity="0.019"/><stop offset="0.900" stop-color="rgb(255,0,0)" stop-opacity="0.011"/><stop offset="0.950" stop-color="rgb(255,0,0)" stop-opacity="0.006"/><stop offset="1.000" stop-color="rgb(255,0,0)" stop-opacity="0.000"/></radialGradient>
<radialGradient id="g60"><stop offset="0.000" stop-color="rgb(255,0,0)" stop-opacity="1.000"/><stop offset="0.050" stop-color="rgb(255,0,0)" stop-opacity="1.000"/><stop offset="0.100" stop-color="rgb(255,0,0)" stop-opacity="1.000"/><stop offset="0.150" stop-color="rgb(255,0,0)" stop-opacity="1.000"/><stop offset="0.200" stop-color="rgb(255,0,0)" stop-opacity="1.000"/><stop offset="0.250" stop-color="rgb(255,0,0)" stop-opacity="1.000"/><stop offset="0.300" stop-color="rgb(255,0,0)" stop-opacity="1.000"/><stop offset="0.350" stop-color="rgb(255,0,0)" stop-opacity="0.943"/><stop offset="0.400" stop-color="rgb(255,0,0)" stop-opacity="0.807"/><stop offset="0.450" stop-color="rgb(255,0,0)" stop-opacity="0.668"/><stop offset="0.500" stop-color="rgb(255,0,0)" stop-opacity="0.534"/><stop offset="0.550" stop-color="rgb(255,0,0)" stop-opacity="0.412"/><stop offset="0.600" stop-color="rgb(255,0,0)" stop-opacity="0.306"/><stop offset="0.650" stop-color="rgb(255,0,0)" stop-opacity="0.219"/><stop offset="0.700" stop-color="rgb(255,0,0)" stop-opacity="0.150"/><stop offset="0.750" stop-color="rgb(255,0,0)" stop-opacity="0.098"/><stop offset="0.800" stop-color="rgb(255,0,0)" stop-opacity="0.062"/><stop offset="0.850" stop-color="rgb(255,0,0)" stop-opacity="0.037"/><stop offset="0.900" stop-color="rgb(255,0,0)" stop-opacity="0.021"/><stop offset="0.950" stop-color="rgb(255,0,0)" stop-opacity="0.012"/><stop offset="1.000" stop-color="rgb(255,0,0)" stop-opacity="0.000"/></radialGradient><radialGradient id="d60"><stop offset="0.000" stop-color="#000" stop-opacity="0.200"/><stop offset="0.050" stop-color="#000" stop-opacity="0.198"/><stop offset="0.100" stop-color="#000" stop-opacity="0.188"/><stop offset="0.150" stop-color="#000" stop-opacity="0.168"/><stop offset="0.200" stop-color="#000" stop-opacity="0.135"/><stop offset="0.250" stop-color="#000" stop-opacity="0.090"/><stop offset="0.300" stop-color="#000" stop-opacity="0.035"/><stop offset="0.350" stop-color="#000" stop-opacity="0.000"/><stop offset="0.400" stop-color="#000" stop-opacity="0.000"/><stop offset="0.450" stop-color="#000" stop-opacity="0.000"/><stop offset="0.500" stop-color="#000" stop-opacity="0.000"/><stop offset="0.550" stop-color="#000" stop-opacity="0.000"/><stop offset="0.600" stop-color="#000" stop-opacity="0.000"/><stop offset="0.650" stop-color="#000" stop-opacity="0.000"/><stop offset="0.700" stop-color="#000" stop-opacity="0.000"/><stop offset="0.750" stop-color="#000" stop-opacity="0.000"/><stop offset="0.800" stop-color="#000" stop-opacity="0.000"/><stop offset="0.850" stop-color="#000" stop-opacity="0.000"/><stop offset="0.900" stop-color="#000" stop-opacity="0.000"/><stop offset="0.950" stop-color="#000" stop-opacity="0.000"/><stop offset="1.000" stop-color="#000" stop-opacity="0.000"/></radialGradient>
<radialGradient id="g61"><stop offset="0.000" stop-color="rgb(255,0,0)" stop-opacity="0.120"/><stop offset="0.050" stop-color="rgb(255,0,0)" stop-opacity="0.120"/><stop offset="0.100" stop-color="rgb(255,0,0)" stop-opacity="0.118"/><stop offset="0.150" stop-color="rgb(255,0,0)" stop-opacity="0.114"/><stop offset="0.200" stop-color="rgb(255,0,0)" stop-opacity="0.109"/><stop offset="0.250" stop-color="rgb(255,0,0)" stop-opacity="0.101"/><stop offset="0.300" stop-color="rgb(255,0,0)" stop-opacity="0.092"/><stop offset="0.350" stop-color="rgb(255,0,0)" stop-opacity="0.081"/><stop offset="0.400" stop-color="rgb(255,0,0)" stop-opacity="0.069"/><stop offset="0.450" stop-color="rgb(255,0,0)" stop-opacity="0.057"/><stop offset="0.500" stop-color="rgb(255,0,0)" stop-opacity="0.046"/><stop offset="0.550" stop-color="rgb(255,0,0)" stop-opacity="0.035"/><stop offset="0.600" stop-color="rgb(255,0,0)" stop-opacity="0.026"/><stop offset="0.650" stop-color="rgb(255,0,0)" stop-opacity="0.019"/><stop offset="0.700" stop-color="rgb(255,0,0)" stop-opacity="0.013"/><stop offset="0.750" stop-color="rgb(255,0,0)" stop-opacity="0.008"/><stop offset="0.800" stop-color="rgb(255,0,0)" stop-opacity="0.005"/><stop offset="0.850" stop-color="rgb(255,0,0)" stop-opacity="0.003"/><stop offset="0.900" stop-color="rgb(255,0,0)" stop-opacity="0.002"/><stop offset="0.950" stop-color="rgb(255,0,0)" stop-opacity="0.001"/><stop offset="1.000" stop-color="rgb(255,0,0)" stop-opacity="0.000"/></radialGradient>
<radialGradient id="g62"><stop offset="0.000" stop-color="rgb(255,0,0)" stop-opacity="0.140"/><stop offset="0.050" stop-color="rgb(255,0,0)" stop-opacity="0.140"/><stop offset="0.100" stop-color="rgb(255,0,0)" stop-opacity="0.138"/><stop offset="0.150" stop-color="rgb(255,0,0)" stop-opacity="0.134"/><stop offset="0.200" stop-color="rgb(255,0,0)" stop-opacity="0.127"/><stop offset="0.250" stop-color="rgb(255,0,0)" stop-opacity="0.118"/><stop offset="0.300" stop-color="rgb(255,0,0)" stop-opacity="0.107"/><stop offset="0.350" stop-color="rgb(255,0,0)" stop-opacity="0.094"/><stop offset="0.400" stop-color="rgb(255,0,0)" stop-opacity="0.081"/><stop offset="0.450" stop-color="rgb(255,0,0)" stop-opacity="0.067"/><stop offset="0.500" stop-color="rgb(255,0,0)" stop-opacity="0.053"/><stop offset="0.550" stop-color="rgb(255,0,0)" stop-opacity="0.041"/><stop offset="0.600" stop-color="rgb(255,0,0)" stop-opacity="0.031"/><stop offset="0.650" stop-color="rgb(255,0,0)" stop-opacity="0.022"/><stop offset="0.700" stop-color="rgb(255,0,0)" stop-opacity="0.015"/><stop offset="0.750" stop-color="rgb(255,0,0)" stop-opacity="0.010"/><stop offset="0.800" stop-color="rgb(255,0,0)" stop-opacity="0.006"/><stop offset="0.850" stop-color="rgb(255,0,0)" stop-opacity="0.004"/><stop offset="0.900" stop-color="rgb(255,0,0)" stop-opacity="0.002"/><stop offset="0.950" stop-color="rgb(255,0,0)" stop-opacity="0.001"/><stop offset="1.000" stop-color="rgb(255,0,0)" stop-opacity="0.000"/></radialGradient>
<radialGradient id="g63"><stop offset="0.000" stop-color="rgb(0,0,255)" stop-opacity="0.100"/><stop offset="0.050" stop-color="rgb(0,0,255)" stop-opacity="0.100"/><stop offset="0.100" stop-color="rgb(0,0,255)" stop-opacity="0.098"/><stop offset="0.150" stop-color="rgb(0,0,255)" stop-opacity="0.095"/><stop offset="0.200" stop-color="rgb(0,0,255)" stop-opacity="0.091"/><stop offset="0.250" stop-color="rgb(0,0,255)" stop-opacity="0.084"/><stop offset="0.300" stop-color="rgb(0,0,255)" stop-opacity="0.076"/><stop offset="0.350" stop-color="rgb(0,0,255)" stop-opacity="0.067"/><stop offset="0.400" stop-color="rgb(0,0,255)" stop-opacity="0.058"/><stop offset="0.450" stop-color="rgb(0,0,255)" stop-opacity="0.048"/><stop offset="0.500" stop-color="rgb(0,0,255)" stop-opacity="0.038"/><stop offset="0.550" stop-color="rgb(0,0,255)" stop-opacity="0.029"/><stop offset="0.600" stop-color="rgb(0,0,255)" stop-opacity="0.022"/><stop offset="0.650" stop-color="rgb(0,0,255)" stop-opacity="0.016"/><stop offset="0.700" stop-color="rgb(0,0,255)" stop-opacity="0.011"/><stop offset="0.750" stop-color="rgb(0,0,255)" stop-opacity="0.007"/><stop offset="0.800" stop-color="rgb(0,0,255)" stop-opacity="0.004"/><stop offset="0.850" stop-color="rgb(0,0,255)" stop-opacity="0.003"/><stop offset="0.900" stop-color="rgb(0,0,255)" stop-opacity="0.002"/><stop offset="0.950" stop-color="rgb(0,0,255)" stop-opacity="0.001"/><stop offset="1.000" stop-color="rgb(0,0,255)" stop-opacity="0.000"/></radialGradient>
<radialGradient id="g64"><stop offset="0.000" stop-color="rgb(0,0,255)" stop-opacity="1.000"/><stop offset="0.050" stop-color="rgb(0,0,255)" stop-opacity="1.000"/><stop offset="0.100" stop-color="rgb(0,0,255)" stop-opacity="1.000"/><stop offset="0.150" stop-color="rgb(0,0,255)" stop-opacity="1.000"/><stop offset="0.200" stop-color="rgb(0,0,255)" stop-opacity="1.000"/><stop offset="0.250" stop-color="rgb(0,0,255)" stop-opacity="1.000"/><stop offset="0.300" stop-color="rgb(0,0,255)" stop-opacity="1.000"/><stop offset="0.350" stop-color="rgb(0,0,255)" stop-opacity="0.970"/><stop offset="0.400" stop-color="rgb(0,0,255)" stop-opacity="0.830"/><stop offset="0.450" stop-color="rgb(0,0,255)" stop-opacity="0.687"/><stop offset="0.500" stop-color="rgb(0,0,255)" stop-opacity="0.549"/><stop offset="0.550" stop-color="rgb(0,0,255)" stop-opacity="0.424"/><stop offset="0.600" stop-color="rgb(0,0,255)" stop-opacity="0.315"/><stop offset="0.650" stop-color="rgb(0,0,255)" stop-opacity="0.225"/><stop offset="0.700" stop-color="rgb(0,0,255)" stop-opacity="0.154"/><stop offset="0.750" stop-color="rgb(0,0,255)" stop-opacity="0.101"/><stop offset="0.800" stop-color="rgb(0,0,255)" stop-opacity="0.064"/><stop offset="0.850" stop-color="rgb(0,0,255)" stop-opacity="0.038"/><stop offset="0.900" stop-color="rgb(0,0,255)" stop-opacity="0.022"/><stop offset="0.950" stop-color="rgb(0,0,255)" stop-opacity="0.012"/><stop offset="1.000" stop-color="rgb(0,0,255)" stop-opacity="0.000"/></radialGradient><radialGradient id="d64"><stop offset="0.000" stop-color="#000" stop-opacity="0.308"/><stop offset="0.050" stop-color="#000" stop-opacity="0.305"/><stop offset="0.100" stop-color="#000" stop-opacity="0.291"/><stop offset="0.150" stop-color="#000" stop-opacity="0.261"/><stop offset="0.200" stop-color="#000" stop-opacity="0.214"/><stop offset="0.250" stop-color="#000" stop-opacity="0.150"/><stop offset="0.300" stop-color="#000" stop-opacity="0.071"/><stop offset="0.350" stop-color="#000" stop-opacity="0.000"/><stop offset="0.400" stop-color="#000" stop-opacity="0.000"/><stop offset="0.450" stop-color="#000" stop-opacity="0.000"/><stop offset="0.500" stop-color="#000" stop-opacity="0.000"/><stop offset="0.550" stop-color="#000" stop-opacity="0.000"/><stop offset="0.600" stop-color="#000" stop-opacity="0.000"/><stop offset="0.650" stop-color="#000" stop-opacity="0.000"/><stop offset="0.700" stop-color="#000" stop-opacity="0.000"/><stop offset="0.750" stop-color="#000" stop-opacity="0.000"/><stop offset="0.800" stop-color="#000" stop-opacity="0.000"/><stop offset="0.850" stop-color="#000" stop-opacity="0.000"/><stop offset="0.900" stop-color="#000" stop-opacity="0.000"/><stop offset="0.950" stop-color="#000" stop-opacity="0.000"/><stop offset="1.000" stop-color="#000" stop-opacity="0.000"/></radialGradient>
<radialGradient id="g65"><stop offset="0.000" stop-color="rgb(0,0,255)" stop-opacity="0.080"/><stop offset="0.050" stop-color="rgb(0,0,255)" stop-opacity="0.080"/><stop offset="0.100" stop-color="rgb(0,0,255)" stop-opacity="0.079"/><stop offset="0.150" stop-color="rgb(0,0,255)" stop-opacity="0.076"/><stop offset="0.200" stop-color="rgb(0,0,255)" stop-opacity="0.073"/><stop offset="0.250" stop-color="rgb(0,0,255)" stop-opacity="0.067"/><stop offset="0.300" stop-color="rgb(0,0,255)" stop-opacity="0.061"/><stop offset="0.350" stop-color="rgb(0,0,255)" stop-opacity="0.054"/><stop offset="0.400" stop-color="rgb(0,0,255)" stop-opacity="0.046"/><stop offset="0.450" stop-color="rgb(0,0,255)" stop-opacity="0.038"/><stop offset="0.500" stop-color="rgb(0,0,255)" stop-opacity="0.031"/><stop offset="0.550" stop-color="rgb(0,0,255)" stop-opacity="0.024"/><stop offset="0.600" stop-color="rgb(0,0,255)" stop-opacity="0.018"/><stop offset="0.650" stop-color="rgb(0,0,255)" stop-opacity="0.012"/><stop offset="0.700" stop-color="rgb(0,0,255)" stop-opacity="0.009"/><stop offset="0.750" stop-color="rgb(0,0,255)" stop-opacity="0.006"/><stop offset="0.800" stop-color="rgb(0,0,255)" stop-opacity="0.004"/><stop offset="0.850" stop-color="rgb(0,0,255)" stop-opacity="0.002"/><stop offset="0.900" stop-color="rgb(0,0,255)" stop-opacity="0.001"/><stop offset="0.950" stop-color="rgb(0,0,255)" stop-opacity="0.001"/><stop offset="1.000" stop-color="rgb(0,0,255)" stop-opacity="0.000"/></radialGradient>
<radialGradient id="g66"><stop offset="0.000" stop-color="rgb(0,0,255)" stop-opacity="0.480"/><stop offset="0.050" stop-color="rgb(0,0,255)" stop-opacity="0.479"/><stop offset="0.100" stop-color="rgb(0,0,255)" stop-opacity="0.472"/><stop offset="0.150" stop-color="rgb(0,0,255)" stop-opacity="0.458"/><stop offset="0.200" stop-color="rgb(0,0,255)" stop-opacity="0.435"/><stop offset="0.250" stop-color="rgb(0,0,255)" stop-opacity="0.405"/><stop offset="0.300" stop-color="rgb(0,0,255)" stop-opacity="0.367"/><stop offset="0.350" stop-color="rgb(0,0,255)" stop-opacity="0.323"/><stop offset="0.400" stop-color="rgb(0,0,255)" stop-opacity="0.277"/><stop offset="0.450" stop-color="rgb(0,0,255)" stop-opacity="0.229"/><stop offset="0.500" stop-color="rgb(0,0,255)" stop-opacity="0.183"/><stop offset="0.550" stop-color="rgb(0,0,255)" stop-opacity="0.141"/><stop offset="0.600" stop-color="rgb(0,0,255)" stop-opacity="0.105"/><stop offset="0.650" stop-color="rgb(0,0,255)" stop-opacity="0.075"/><stop offset="0.700" stop-color="rgb(0,0,255)" stop-opacity="0.051"/><stop offset="0.750" stop-color="rgb(0,0,255)" stop-opacity="0.034"/><stop offset="0.800" stop-color="rgb(0,0,255)" stop-opacity="0.021"/><stop offset="0.850" stop-color="rgb(0,0,255)" stop-opacity="0.013"/><stop offset="0.900" stop-color="rgb(0,0,255)" stop-opacity="0.007"/><stop offset="0.950" stop-color="rgb(0,0,255)" stop-opacity="0.004"/><stop offset="1.000" stop-color="rgb(0,0,255)" stop-opacity="0.000"/></radialGradient>
<radialGradient id="g67"><stop offset="0.000" stop-color="rgb(255,0,0)" stop-opacity="0.600"/><stop offset="0.050" stop-color="rgb(255,0,0)" stop-opacity="0.600"/><stop offset="0.100" stop-color="rgb(255,0,0)" stop-opacity="0.596"/><stop offset="0.150" stop-color="rgb(255,0,0)" stop-opacity="0.585"/><stop offset="0.200" stop-color="rgb(255,0,0)" stop-opacity="0.564"/><stop offset="0.250" stop-color="rgb(255,0,0)" stop-opacity="0.529"/><stop offset="0.300" stop-color="rgb(255,0,0)" stop-opacity="0.479"/><stop offset="0.350" stop-color="rgb(255,0,0)" stop-opacity="0.415"/><stop offset="0.400" stop-color="rgb(255,0,0)" stop-opacity="0.340"/><stop offset="0.450" stop-color="rgb(255,0,0)" stop-opacity="0.263"/><stop offset="0.500" stop-color="rgb(255,0,0)" stop-opacity="0.189"/><stop offset="0.550" stop-color="rgb(255,0,0)" stop-opacity="0.125"/><stop offset="0.600" stop-color="rgb(255,0,0)" stop-opacity="0.075"/><stop offset="0.650" stop-color="rgb(255,0,0)" stop-opacity="0.041"/><stop offset="0.700" stop-color="rgb(255,0,0)" stop-opacity="0.020"/><stop offset="0.750" stop-color="rgb(255,0,0)" stop-opacity="0.009"/><stop offset="0.800" stop-color="rgb(255,0,0)" stop-opacity="0.003"/><stop offset="0.850" stop-color="rgb(255,0,0)" stop-opacity="0.001"/><stop offset="0.900" stop-color="rgb(255,0,0)" stop-opacity="0.000"/><stop offset="0.950" stop-color="rgb(255,0,0)" stop-opacity="0.000"/><stop offset="1.000" stop-color="rgb(255,0,0)" stop-opacity="0.000"/></radialGradient>
<radialGradient id="g68"><stop offset="0.000" stop-color="rgb(255,0,0)" stop-opacity="1.000"/><stop offset="0.050" stop-color="rgb(255,0,0)" stop-opacity="1.000"/><stop offset="0.100" stop-color="rgb(255,0,0)" stop-opacity="1.000"/><stop offset="0.150" stop-color="rgb(255,0,0)" stop-opacity="1.000"/><stop offset="0.200" stop-color="rgb(255,0,0)" stop-opacity="1.000"/><stop offset="0.250" stop-color="rgb(255,0,0)" stop-opacity="1.000"/><stop offset="0.300" stop-color="rgb(255,0,0)" stop-opacity="1.000"/><stop offset="0.350" stop-color="rgb(255,0,0)" stop-opacity="1.000"/><stop offset="0.400" stop-color="rgb(255,0,0)" stop-opacity="1.000"/><stop offset="0.450" stop-color="rgb(255,0,0)" stop-opacity="1.000"/><stop offset="0.500" stop-color="rgb(255,0,0)" stop-opacity="0.754"/><stop offset="0.550" stop-color="rgb(255,0,0)" stop-opacity="0.499"/><stop offset="0.600" stop-color="rgb(255,0,0)" stop-opacity="0.301"/><stop offset="0.650" stop-color="rgb(255,0,0)" stop-opacity="0.164"/><stop offset="0.700" stop-color="rgb(255,0,0)" stop-opacity="0.080"/><stop offset="0.750" stop-color="rgb(255,0,0)" stop-opacity="0.035"/><stop offset="0.800" stop-color="rgb(255,0,0)" stop-opacity="0.013"/><stop offset="0.850" stop-color="rgb(255,0,0)" stop-opacity="0.004"/><stop offset="0.900" stop-color="rgb(255,0,0)" stop-opacity="0.001"/><stop offset="0.950" stop-color="rgb(255,0,0)" stop-opacity="0.000"/><stop offset="1.000" stop-color="rgb(255,0,0)" stop-opacity="0.000"/></radialGradient><radialGradient id="d68"><stop offset="0.000" stop-color="#000" stop-opacity="0.500"/><stop offset="0.050" stop-color="#000" stop-opacity="0.500"/><stop offset="0.100" stop-color="#000" stop-opacity="0.500"/><stop offset="0.150" stop-color="#000" stop-opacity="0.500"/><stop offset="0.200" stop-color="#000" stop-opacity="0.500"/><stop offset="0.250" stop-color="#000" stop-opacity="0.500"/><stop offset="0.300" stop-color="#000" stop-opacity="0.457"/><stop offset="0.350" stop-color="#000" stop-opacity="0.329"/><stop offset="0.400" stop-color="#000" stop-opacity="0.181"/><stop offset="0.450" stop-color="#000" stop-opacity="0.025"/><stop offset="0.500" stop-color="#000" stop-opacity="0.000"/><stop offset="0.550" stop-color="#000" stop-opacity="0.000"/><stop offset="0.600" stop-color="#000" stop-opacity="0.000"/><stop offset="0.650" stop-color="#000" stop-opacity="0.000"/><stop offset="0.700" stop-color="#000" stop-opacity="0.000"/><stop offset="0.750" stop-color="#000" stop-opacity="0.000"/><stop offset="0.800" stop-color="#000" stop-opacity="0.000"/><stop offset="0.850" stop-color="#000" stop-opacity="0.000"/><stop offset="0.900" stop-color="#000" stop-opacity="0.000"/><stop offset="0.950" stop-color="#000" stop-opacity="0.000"/><stop offset="1.000" stop-color="#000" stop-opacity="0.000"/></radialGradient>
<radialGradient id="g69"><stop offset="0.000" stop-color="rgb(0,0,255)" stop-opacity="0.100"/><stop offset="0.050" stop-color="rgb(0,0,255)" stop-opacity="0.100"/><stop offset="0.100" stop-color="rgb(0,0,255)" stop-opacity="0.098"/><stop offset="0.150" stop-color="rgb(0,0,255)" stop-opacity="0.095"/><stop offset="0.200" stop-color="rgb(0,0,255)" stop-opacity="0.091"/><stop offset="0.250" stop-color="rgb(0,0,255)" stop-opacity="0.084"/><stop offset="0.300" stop-color="rgb(0,0,255)" stop-opacity="0.076"/><stop offset="0.350" stop-color="rgb(0,0,255)" stop-opacity="0.067"/><stop offset="0.400" stop-color="rgb(0,0,255)" stop-opacity="0.058"/><stop offset="0.450" stop-color="rgb(0,0,255)" stop-opacity="0.048"/><stop offset="0.500" stop-color="rgb(0,0,255)" stop-opacity="0.038"/><stop offset="0.550" stop-color="rgb(0,0,255)" stop-opacity="0.029"/><stop offset="0.600" stop-color="rgb(0,0,255)" stop-opacity="0.022"/><stop offset="0.650" stop-color="rgb(0,0,255)" stop-opacity="0.016"/><stop offset="0.700" stop-color="rgb(0,0,255)" stop-opacity="0.011"/><stop offset="0.750" stop-color="rgb(0,0,255)" stop-opacity="0.007"/><stop offset="0.800" stop-color="rgb(0,0,255)" stop-opacity="0.004"/><stop offset="0.850" stop-color="rgb(0,0,255)" stop-opacity="0.003"/><stop offset="0.900" stop-color="rgb(0,0,255)" stop-opacity="0.002"/><stop offset="0.950" stop-color="rgb(0,0,255)" stop-opacity="0.001"/><stop offset="1.000" stop-color="rgb(0,0,255)" stop-opacity="0.000"/></radialGradient>
<radialGradient id="g70"><stop offset="0.000" stop-color="rgb(0,0,255)" stop-opacity="1.000"/><stop offset="0.050" stop-color="rgb(0,0,255)" stop-opacity="1.000"/><stop offset="0.100" stop-color="rgb(0,0,255)" stop-opacity="1.000"/><stop offset="0.150" stop-color="rgb(0,0,255)" stop-opacity="1.000"/><stop offset="0.200" stop-color="rgb(0,0,255)" stop-opacity="0.998"/><stop offset="0.250" stop-color="rgb(0,0,255)" stop-opacity="0.928"/><stop offset="0.300" stop-color="rgb(0,0,255)" stop-opacity="0.841"/><stop offset="0.350" stop-color="rgb(0,0,255)" stop-opacity="0.741"/><stop offset="0.400" stop-color="rgb(0,0,255)" stop-opacity="0.634"/><stop offset="0.450" stop-color="rgb(0,0,255)" stop-opacity="0.525"/><stop offset="0.500" stop-color="rgb(0,0,255)" stop-opacity="0.420"/><stop offset="0.550" stop-color="rgb(0,0,255)" stop-opacity="0.324"/><stop offset="0.600" stop-color="rgb(0,0,255)" stop-opacity="0.241"/><stop offset="0.650" stop-color="rgb(0,0,255)" stop-opacity="0.172"/><stop offset="0.700" stop-color="rgb(0,0,255)" stop-opacity="0.118"/><stop offset="0.750" stop-color="rgb(0,0,255)" stop-opacity="0.077"/><stop offset="0.800" stop-color="rgb(0,0,255)" stop-opacity="0.049"/><stop offset="0.850" stop-color="rgb(0,0,255)" stop-opacity="0.029"/><stop offset="0.900" stop-color="rgb(0,0,255)" stop-opacity="0.017"/><stop offset="0.950" stop-color="rgb(0,0,255)" stop-opacity="0.009"/><stop offset="1.000" stop-color="rgb(0,0,255)" stop-opacity="0.000"/></radialGradient><radialGradient id="d70"><stop offset="0.000" stop-color="#000" stop-opacity="0.070"/><stop offset="0.050" stop-color="#000" stop-opacity="0.068"/><stop offset="0.100" stop-color="#000" stop-opacity="0.057"/><stop offset="0.150" stop-color="#000" stop-opacity="0.034"/><stop offset="0.200" stop-color="#000" stop-opacity="0.000"/><stop offset="0.250" stop-color="#000" stop-opacity="0.000"/><stop offset="0.300" stop-color="#000" stop-opacity="0.000"/><stop offset="0.350" stop-color="#000" stop-opacity="0.000"/><stop offset="0.400" stop-color="#000" stop-opacity="0.000"/><stop offset="0.450" stop-color="#000" stop-opacity="0.000"/><stop offset="0.500" stop-color="#000" stop-opacity="0.000"/><stop offset="0.550" stop-color="#000" stop-opacity="0.000"/><stop offset="0.600" stop-color="#000" stop-opacity="0.000"/><stop offset="0.650" stop-color="#000" stop-opacity="0.000"/><stop offset="0.700" stop-color="#000" stop-opacity="0.000"/><stop offset="0.750" stop-color="#000" stop-opacity="0.000"/><stop offset="0.800" stop-color="#000" stop-opacity="0.000"/><stop offset="0.850" stop-color="#000" stop-opacity="0.000"/><stop offset="0.900" stop-color="#000" stop-opacity="0.000"/><stop offset="0.950" stop-color="#000" stop-opacity="0.000"/><stop offset="1.000" stop-color="#000" stop-opacity="0.000"/></radialGradient>
<radialGradient id="g71"><stop offset="0.000" stop-color="rgb(0,0,255)" stop-opacity="0.120"/><stop offset="0.050" stop-color="rgb(0,0,255)" stop-opacity="0.120"/><stop offset="0.100" stop-color="rgb(0,0,255)" stop-opacity="0.118"/><stop offset="0.150" stop-color="rgb(0,0,255)" stop-opacity="0.114"/><stop offset="0.200" stop-color="rgb(0,0,255)" stop-opacity="0.109"/><stop offset="0.250" stop-color="rgb(0,0,255)" stop-opacity="0.101"/><stop offset="0.300" stop-color="rgb(0,0,255)" stop-opacity="0.092"/><stop offset="0.350" stop-color="rgb(0,0,255)" stop-opacity="0.081"/><stop offset="0.400" stop-color="rgb(0,0,255)" stop-opacity="0.069"/><stop offset="0.450" stop-color="rgb(0,0,255)" stop-opacity="0.057"/><stop offset="0.500" stop-color="rgb(0,0,255)" stop-opacity="0.046"/><stop offset="0.550" stop-color="rgb(0,0,255)" stop-opacity="0.035"/><stop offset="0.600" stop-color="rgb(0,0,255)" stop-opacity="0.026"/><stop offset="0.650" stop-color="rgb(0,0,255)" stop-opacity="0.019"/><stop offset="0.700" stop-color="rgb(0,0,255)" stop-opacity="0.013"/><stop offset="0.750" stop-color="rgb(0,0,255)" stop-opacity="0.008"/><stop offset="0.800" stop-color="rgb(0,0,255)" stop-opacity="0.005"/><stop offset="0.850" stop-color="rgb(0,0,255)" stop-opacity="0.003"/><stop offset="0.900" stop-color="rgb(0,0,255)" stop-opacity="0.002"/><stop offset="0.950" stop-color="rgb(0,0,255)" stop-opacity="0.001"/><stop offset="1.000" stop-color="rgb(0,0,255)" stop-opacity="0.000"/></radialGradient>
<radialGradient id="g72"><stop offset="0.000" stop-color="rgb(0,0,255)" stop-opacity="1.000"/><stop offset="0.050" stop-color="rgb(0,0,255)" stop-opacity="1.000"/><stop offset="0.100" stop-color="rgb(0,0,255)" stop-opacity="1.000"/><stop offset="0.150" stop-color="rgb(0,0,255)" stop-opacity="1.000"/><stop offset="0.200" stop-color="rgb(0,0,255)" stop-opacity="1.000"/><stop offset="0.250" stop-color="rgb(0,0,255)" stop-opacity="1.000"/><stop offset="0.300" stop-color="rgb(0,0,255)" stop-opacity="1.000"/><stop offset="0.350" stop-color="rgb(0,0,255)" stop-opacity="1.000"/><stop offset="0.400" stop-color="rgb(0,0,255)" stop-opacity="1.000"/><stop offset="0.450" stop-color="rgb(0,0,255)" stop-opacity="1.000"/><stop offset="0.500" stop-color="rgb(0,0,255)" stop-opacity="1.000"/><stop offset="0.550" stop-color="rgb(0,0,255)" stop-opacity="1.000"/><stop offset="0.600" stop-color="rgb(0,0,255)" stop-opacity="1.000"/><stop offset="0.650" stop-color="rgb(0,0,255)" stop-opacity="0.781"/><stop offset="0.700" stop-color="rgb(0,0,255)" stop-opacity="0.535"/><stop offset="0.750" stop-color="rgb(0,0,255)" stop-opacity="0.352"/><stop offset="0.800" stop-color="rgb(0,0,255)" stop-opacity="0.221"/><stop offset="0.850" stop-color="rgb(0,0,255)" stop-opacity="0.133"/><stop offset="0.900" stop-color="rgb(0,0,255)" stop-opacity="0.076"/><stop offset="0.950" stop-color="rgb(0,0,255)" stop-opacity="0.041"/><stop offset="1.000" stop-color="rgb(0,0,255)" stop-opacity="0.000"/></radialGradient><radialGradient id="d72"><stop offset="0.000" stop-color="#000" stop-opacity="0.700"/><stop offset="0.050" stop-color="#000" stop-opacity="0.700"/><stop offset="0.100" stop-color="#000" stop-opacity="0.700"/><stop offset="0.150" stop-color="#000" stop-opacity="0.700"/><stop offset="0.200" stop-color="#000" stop-opacity="0.700"/><stop offset="0.250" stop-color="#000" stop-opacity="0.700"/><stop offset="0.300" stop-color="#000" stop-opacity="0.700"/><stop offset="0.350" stop-color="#000" stop-opacity="0.700"/><stop offset="0.400" stop-color="#000" stop-opacity="0.700"/><stop offset="0.450" stop-color="#000" stop-opacity="0.700"/><stop offset="0.500" stop-color="#000" stop-opacity="0.636"/><stop offset="0.550" stop-color="#000" stop-opacity="0.331"/><stop offset="0.600" stop-color="#000" stop-opacity="0.066"/><stop offset="0.650" stop-color="#000" stop-opacity="0.000"/><stop offset="0.700" stop-color="#000" stop-opacity="0.000"/><stop offset="0.750" stop-color="#000" stop-opacity="0.000"/><stop offset="0.800" stop-color="#000" stop-opacity="0.000"/><stop offset="0.850" stop-color="#000" stop-opacity="0.000"/><stop offset="0.900" stop-color="#000" stop-opacity="0.000"/><stop offset="0.950" stop-color="#000" stop-opacity="0.000"/><stop offset="1.000" stop-color="#000" stop-opacity="0.000"/></radialGradient>
<radialGradient id="g73"><stop offset="0.000" stop-color="rgb(0,0,255)" stop-opacity="0.120"/><stop offset="0.050" stop-color="rgb(0,0,255)" stop-opacity="0.120"/><stop offset="0.100" stop-color="rgb(0,0,255)" stop-opacity="0.118"/><stop offset="0.150" stop-color="rgb(0,0,255)" stop-opacity="0.114"/><stop offset="0.200" stop-color="rgb(0,0,255)" stop-opacity="0.109"/><stop offset="0.250" stop-color="rgb(0,0,255)" stop-opacity="0.101"/><stop offset="0.300" stop-color="rgb(0,0,255)" stop-opacity="0.092"/><stop offset="0.350" stop-color="rgb(0,0,255)" stop-opacity="0.081"/><stop offset="0.400" stop-color="rgb(0,0,255)" stop-opacity="0.069"/><stop offset="0.450" stop-color="rgb(0,0,255)" stop-opacity="0.057"/><stop offset="0.500" stop-color="rgb(0,0,255)" stop-opacity="0.046"/><stop offset="0.550" stop-color="rgb(0,0,255)" stop-opacity="0.035"/><stop offset="0.600" stop-color="rgb(0,0,255)" stop-opacity="0.026"/><stop offset="0.650" stop-color="rgb(0,0,255)" stop-opacity="0.019"/><stop offset="0.700" stop-color="rgb(0,0,255)" stop-opacity="0.013"/><stop offset="0.750" stop-color="rgb(0,0,255)" stop-opacity="0.008"/><stop offset="0.800" stop-color="rgb(0,0,255)" stop-opacity="0.005"/><stop offset="0.850" stop-color="rgb(0,0,255)" stop-opacity="0.003"/><stop offset="0.900" stop-color="rgb(0,0,255)" stop-opacity="0.002"/><stop offset="0.950" stop-color="rgb(0,0,255)" stop-opacity="0.001"/><stop offset="1.000" stop-color="rgb(0,0,255)" stop-opacity="0.000"/></radialGradient>
<radialGradient id="g74"><stop offset="0.000" stop-color="rgb(0,0,255)" stop-opacity="1.000"/><stop offset="0.050" stop-color="rgb(0,0,255)" stop-opacity="1.000"/><stop offset="0.100" stop-color="rgb(0,0,255)" stop-opacity="1.000"/><stop offset="0.150" stop-color="rgb(0,0,255)" stop-opacity="1.000"/><stop offset="0.200" stop-color="rgb(0,0,255)" stop-opacity="1.000"/><stop offset="0.250" stop-color="rgb(0,0,255)" stop-opacity="1.000"/><stop offset="0.300" stop-color="rgb(0,0,255)" stop-opacity="1.000"/><stop offset="0.350" stop-color="rgb(0,0,255)" stop-opacity="1.000"/><stop offset="0.400" stop-color="rgb(0,0,255)" stop-opacity="1.000"/><stop offset="0.450" stop-color="rgb(0,0,255)" stop-opacity="0.906"/><stop offset="0.500" stop-color="rgb(0,0,255)" stop-opacity="0.725"/><stop offset="0.550" stop-color="rgb(0,0,255)" stop-opacity="0.559"/><stop offset="0.600" stop-color="rgb(0,0,255)" stop-opacity="0.416"/><stop offset="0.650" stop-color="rgb(0,0,255)" stop-opacity="0.297"/><stop offset="0.700" stop-color="rgb(0,0,255)" stop-opacity="0.203"/><stop offset="0.750" stop-color="rgb(0,0,255)" stop-opacity="0.134"/><stop offset="0.800" stop-color="rgb(0,0,255)" stop-opacity="0.084"/><stop offset="0.850" stop-color="rgb(0,0,255)" stop-opacity="0.050"/><stop offset="0.900" stop-color="rgb(0,0,255)" stop-opacity="0.029"/><stop offset="0.950" stop-color="rgb(0,0,255)" stop-opacity="0.016"/><stop offset="1.000" stop-color="rgb(0,0,255)" stop-opacity="0.000"/></radialGradient><radialGradient id="d74"><stop offset="0.000" stop-color="#000" stop-opacity="0.630"/><stop offset="0.050" stop-color="#000" stop-opacity="0.626"/><stop offset="0.100" stop-color="#000" stop-opacity="0.607"/><stop offset="0.150" stop-color="#000" stop-opacity="0.568"/><stop offset="0.200" stop-color="#000" stop-opacity="0.506"/><stop offset="0.250" stop-color="#000" stop-opacity="0.422"/><stop offset="0.300" stop-color="#000" stop-opacity="0.317"/><stop offset="0.350" stop-color="#000" stop-opacity="0.196"/><stop offset="0.400" stop-color="#000" stop-opacity="0.066"/><stop offset="0.450" stop-color="#000" stop-opacity="0.000"/><stop offset="0.500" stop-color="#000" stop-opacity="0.000"/><stop offset="0.550" stop-color="#000" stop-opacity="0.000"/><stop offset="0.600" stop-color="#000" stop-opacity="0.000"/><stop offset="0.650" stop-color="#000" stop-opacity="0.000"/><stop offset="0.700" stop-color="#000" stop-opacity="0.000"/><stop offset="0.750" stop-color="#000" stop-opacity="0.000"/><stop offset="0.800" stop-color="#000" stop-opacity="0.000"/><stop offset="0.850" stop-color="#000" stop-opacity="0.000"/><stop offset="0.900" stop-color="#000" stop-opacity="0.000"/><stop offset="0.950" stop-color="#000" stop-opacity="0.000"/><stop offset="1.000" stop-color="#000" stop-opacity="0.000"/></radialGradient>
<radialGradient id="g75"><stop offset="0.000" stop-color="rgb(0,0,255)" stop-opacity="1.000"/><stop offset="0.050" stop-color="rgb(0,0,255)" stop-opacity="1.000"/><stop offset="0.100" stop-color="rgb(0,0,255)" stop-opacity="1.000"/><stop offset="0.150" stop-color="rgb(0,0,255)" stop-opacity="1.000"/><stop offset="0.200" stop-color="rgb(0,0,255)" stop-opacity="0.998"/><stop offset="0.250" stop-color="rgb(0,0,255)" stop-opacity="0.928"/><stop offset="0.300" stop-color="rgb(0,0,255)" stop-opacity="0.841"/><stop offset="0.350" stop-color="rgb(0,0,255)" stop-opacity="0.741"/><stop offset="0.400" stop-color="rgb(0,0,255)" stop-opacity="0.634"/><stop offset="0.450" stop-color="rgb(0,0,255)" stop-opacity="0.525"/><stop offset="0.500" stop-color="rgb(0,0,255)" stop-opacity="0.420"/><stop offset="0.550" stop-color="rgb(0,0,255)" stop-opacity="0.324"/><stop offset="0.600" stop-color="rgb(0,0,255)" stop-opacity="0.241"/><stop offset="0.650" stop-color="rgb(0,0,255)" stop-opacity="0.172"/><stop offset="0.700" stop-color="rgb(0,0,255)" stop-opacity="0.118"/><stop offset="0.750" stop-color="rgb(0,0,255)" stop-opacity="0.077"/><stop offset="0.800" stop-color="rgb(0,0,255)" stop-opacity="0.049"/><stop offset="0.850" stop-color="rgb(0,0,255)" stop-opacity="0.029"/><stop offset="0.900" stop-color="rgb(0,0,255)" stop-opacity="0.017"/><stop offset="0.950" stop-color="rgb(0,0,255)" stop-opacity="0.009"/><stop offset="1.000" stop-color="rgb(0,0,255)" stop-opacity="0.000"/></radialGradient><radialGradient id="d75"><stop offset="0.000" stop-color="#000" stop-opacity="0.070"/><stop offset="0.050" stop-color="#000" stop-opacity="0.068"/><stop offset="0.100" stop-color="#000" stop-opacity="0.057"/><stop offset="0.150" stop-color="#000" stop-opacity="0.034"/><stop offset="0.200" stop-color="#000" stop-opacity="0.000"/><stop offset="0.250" stop-color="#000" stop-opacity="0.000"/><stop offset="0.300" stop-color="#000" stop-opacity="0.000"/><stop offset="0.350" stop-color="#000" stop-opacity="0.000"/><stop offset="0.400" stop-color="#000" stop-opacity="0.000"/><stop offset="0.450" stop-color="#000" stop-opacity="0.000"/><stop offset="0.500" stop-color="#000" stop-opacity="0.000"/><stop offset="0.550" stop-color="#000" stop-opacity="0.000"/><stop offset="0.600" stop-color="#000" stop-opacity="0.000"/><stop offset="0.650" stop-color="#000" stop-opacity="0.000"/><stop offset="0.700" stop-color="#000" stop-opacity="0.000"/><stop offset="0.750" stop-color="#000" stop-opacity="0.000"/><stop offset="0.800" stop-color="#000" stop-opacity="0.000"/><stop offset="0.850" stop-color="#000" stop-opacity="0.000"/><stop offset="0.900" stop-color="#000" stop-opacity="0.000"/><stop offset="0.950" stop-color="#000" stop-opacity="0.000"/><stop offset="1.000" stop-color="#000" stop-opacity="0.000"/></radialGradient>
<radialGradient id="g76"><stop offset="0.000" stop-color="rgb(0,0,255)" stop-opacity="1.000"/><stop offset="0.050" stop-color="rgb(0,0,255)" stop-opacity="1.000"/><stop offset="0.100" stop-color="rgb(0,0,255)" stop-opacity="1.000"/><stop offset="0.150" stop-color="rgb(0,0,255)" stop-opacity="1.000"/><stop offset="0.200" stop-color="rgb(0,0,255)" stop-opacity="1.000"/><stop offset="0.250" stop-color="rgb(0,0,255)" stop-opacity="1.000"/><stop offset="0.300" stop-color="rgb(0,0,255)" stop-opacity="0.948"/><stop offset="0.350" stop-color="rgb(0,0,255)" stop-opacity="0.835"/><stop offset="0.400" stop-color="rgb(0,0,255)" stop-opacity="0.714"/><stop offset="0.450" stop-color="rgb(0,0,255)" stop-opacity="0.591"/><stop offset="0.500" stop-color="rgb(0,0,255)" stop-opacity="0.473"/><stop offset="0.550" stop-color="rgb(0,0,255)" stop-opacity="0.365"/><stop offset="0.600" stop-color="rgb(0,0,255)" stop-opacity="0.271"/><stop offset="0.650" stop-color="rgb(0,0,255)" stop-opacity="0.194"/><stop offset="0.700" stop-color="rgb(0,0,255)" stop-opacity="0.133"/><stop offset="0.750" stop-color="rgb(0,0,255)" stop-opacity="0.087"/><stop offset="0.800" stop-color="rgb(0,0,255)" stop-opacity="0.055"/><stop offset="0.850" stop-color="rgb(0,0,255)" stop-opacity="0.033"/><stop offset="0.900" stop-color="rgb(0,0,255)" stop-opacity="0.019"/><stop offset="0.950" stop-color="rgb(0,0,255)" stop-opacity="0.010"/><stop offset="1.000" stop-color="rgb(0,0,255)" stop-opacity="0.000"/></radialGradient><radialGradient id="d76"><stop offset="0.000" stop-color="#000" stop-opacity="0.168"/><stop offset="0.050" stop-color="#000" stop-opacity="0.165"/><stop offset="0.100" stop-color="#000" stop-opacity="0.153"/><stop offset="0.150" stop-color="#000" stop-opacity="0.128"/><stop offset="0.200" stop-color="#000" stop-opacity="0.087"/><stop offset="0.250" stop-color="#000" stop-opacity="0.032"/><stop offset="0.300" stop-color="#000" stop-opacity="0.000"/><stop offset="0.350" stop-color="#000" stop-opacity="0.000"/><stop offset="0.400" stop-color="#000" stop-opacity="0.000"/><stop offset="0.450" stop-color="#000" stop-opacity="0.000"/><stop offset="0.500" stop-color="#000" stop-opacity="0.000"/><stop offset="0.550" stop-color="#000" stop-opacity="0.000"/><stop offset="0.600" stop-color="#000" stop-opacity="0.000"/><stop offset="0.650" stop-color="#000" stop-opacity="0.000"/><stop offset="0.700" stop-color="#000" stop-opacity="0.000"/><stop offset="0.750" stop-color="#000" stop-opacity="0.000"/><stop offset="0.800" stop-color="#000" stop-opacity="0.000"/><stop offset="0.850" stop-color="#000" stop-opacity="0.000"/><stop offset="0.900" stop-color="#000" stop-opacity="0.000"/><stop offset="0.950" stop-color="#000" stop-opacity="0.000"/><stop offset="1.000" stop-color="#000" stop-opacity="0.000"/></radialGradient>
<radialGradient id="g77"><stop offset="0.000" stop-color="rgb(0,0,255)" stop-opacity="0.600"/><stop offset="0.050" stop-color="rgb(0,0,255)" stop-opacity="0.598"/><stop offset="0.100" stop-color="rgb(0,0,255)" stop-opacity="0.590"/><stop offset="0.150" stop-color="rgb(0,0,255)" stop-opacity="0.572"/><stop offset="0.200" stop-color="rgb(0,0,255)" stop-opacity="0.544"/><stop offset="0.250" stop-color="rgb(0,0,255)" stop-opacity="0.506"/><stop offset="0.300" stop-color="rgb(0,0,255)" stop-opacity="0.459"/><stop offset="0.350" stop-color="rgb(0,0,255)" stop-opacity="0.404"/><stop offset="0.400" stop-color="rgb(0,0,255)" stop-opacity="0.346"/><stop offset="0.450" stop-color="rgb(0,0,255)" stop-opacity="0.286"/><stop offset="0.500" stop-color="rgb(0,0,255)" stop-opacity="0.229"/><stop offset="0.550" stop-color="rgb(0,0,255)" stop-opacity="0.177"/><stop offset="0.600" stop-color="rgb(0,0,255)" stop-opacity="0.131"/><stop offset="0.650" stop-color="rgb(0,0,255)" stop-opacity="0.094"/><stop offset="0.700" stop-color="rgb(0,0,255)" stop-opacity="0.064"/><stop offset="0.750" stop-color="rgb(0,0,255)" stop-opacity="0.042"/><stop offset="0.800" stop-color="rgb(0,0,255)" stop-opacity="0.026"/><stop offset="0.850" stop-color="rgb(0,0,255)" stop-opacity="0.016"/><stop offset="0.900" stop-color="rgb(0,0,255)" stop-opacity="0.009"/><stop offset="0.950" stop-color="rgb(0,0,255)" stop-opacity="0.005"/><stop offset="1.000" stop-color="rgb(0,0,255)" stop-opacity="0.000"/></radialGradient>
<radialGradient id="g78"><stop offset="0.000" stop-color="rgb(255,0,0)" stop-opacity="0.240"/><stop offset="0.050" stop-color="rgb(255,0,0)" stop-opacity="0.239"/><stop offset="0.100" stop-color="rgb(255,0,0)" stop-opacity="0.236"/><stop offset="0.150" stop-color="rgb(255,0,0)" stop-opacity="0.229"/><stop offset="0.200" stop-color="rgb(255,0,0)" stop-opacity="0.218"/><stop offset="0.250" stop-color="rgb(255,0,0)" stop-opacity="0.202"/><stop offset="0.300" stop-color="rgb(255,0,0)" stop-opacity="0.183"/><stop offset="0.350" stop-color="rgb(255,0,0)" stop-opacity="0.162"/><stop offset="0.400" stop-color="rgb(255,0,0)" stop-opacity="0.138"/><stop offset="0.450" stop-color="rgb(255,0,0)" stop-opacity="0.114"/><stop offset="0.500" stop-color="rgb(255,0,0)" stop-opacity="0.092"/><stop offset="0.550" stop-color="rgb(255,0,0)" stop-opacity="0.071"/><stop offset="0.600" stop-color="rgb(255,0,0)" stop-opacity="0.053"/><stop offset="0.650" stop-color="rgb(255,0,0)" stop-opacity="0.037"/><stop offset="0.700" stop-color="rgb(255,0,0)" stop-opacity="0.026"/><stop offset="0.750" stop-color="rgb(255,0,0)" stop-opacity="0.017"/><stop offset="0.800" stop-color="rgb(255,0,0)" stop-opacity="0.011"/><stop offset="0.850" stop-color="rgb(255,0,0)" stop-opacity="0.006"/><stop offset="0.900" stop-color="rgb(255,0,0)" stop-opacity="0.004"/><stop offset="0.950" stop-color="rgb(255,0,0)" stop-opacity="0.002"/><stop offset="1.000" stop-color="rgb(255,0,0)" stop-opacity="0.000"/></radialGradient>
<radialGradient id="g79"><stop offset="0.000" stop-color="rgb(255,0,0)" stop-opacity="0.120"/><stop offset="0.050" stop-color="rgb(255,0,0)" stop-opacity="0.120"/><stop offset="0.100" stop-color="rgb(255,0,0)" stop-opacity="0.118"/><stop offset="0.150" stop-color="rgb(255,0,0)" stop-opacity="0.114"/><stop offset="0.200" stop-color="rgb(255,0,0)" stop-opacity="0.109"/><stop offset="0.250" stop-color="rgb(255,0,0)" stop-opacity="0.101"/><stop offset="0.300" stop-color="rgb(255,0,0)" stop-opacity="0.092"/><stop offset="0.350" stop-color="rgb(255,0,0)" stop-opacity="0.081"/><stop offset="0.400" stop-color="rgb(255,0,0)" stop-opacity="0.069"/><stop offset="0.450" stop-color="rgb(255,0,0)" stop-opacity="0.057"/><stop offset="0.500" stop-color="rgb(255,0,0)" stop-opacity="0.046"/><stop offset="0.550" stop-color="rgb(255,0,0)" stop-opacity="0.035"/><stop offset="0.600" stop-color="rgb(255,0,0)" stop-opacity="0.026"/><stop offset="0.650" stop-color="rgb(255,0,0)" stop-opacity="0.019"/><stop offset="0.700" stop-color="rgb(255,0,0)" stop-opacity="0.013"/><stop offset="0.750" stop-color="rgb(255,0,0)" stop-opacity="0.008"/><stop offset="0.800" stop-color="rgb(255,0,0)" stop-opacity="0.005"/><stop offset="0.850" stop-color="rgb(255,0,0)" stop-opacity="0.003"/><stop offset="0.900" stop-color="rgb(255,0,0)" stop-opacity="0.002"/><stop offset="0.950" stop-color="rgb(255,0,0)" stop-opacity="0.001"/><stop offset="1.000" stop-color="rgb(255,0,0)" stop-opacity="0.000"/></radialGradient>
<radialGradient id="g80"><stop offset="0.000" stop-color="rgb(255,0,0)" stop-opacity="1.000"/><stop offset="0.050" stop-color="rgb(255,0,0)" stop-opacity="1.000"/><stop offset="0.100" stop-color="rgb(255,0,0)" stop-opacity="1.000"/><stop offset="0.150" stop-color="rgb(255,0,0)" stop-opacity="1.000"/><stop offset="0.200" stop-color="rgb(255,0,0)" stop-opacity="1.000"/><stop offset="0.250" stop-color="rgb(255,0,0)" stop-opacity="1.000"/><stop offset="0.300" stop-color="rgb(255,0,0)" stop-opacity="1.000"/><stop offset="0.350" stop-color="rgb(255,0,0)" stop-opacity="1.000"/><stop offset="0.400" stop-color="rgb(255,0,0)" stop-opacity="1.000"/><stop offset="0.450" stop-color="rgb(255,0,0)" stop-opacity="1.000"/><stop offset="0.500" stop-color="rgb(255,0,0)" stop-opacity="0.878"/><stop offset="0.550" stop-color="rgb(255,0,0)" stop-opacity="0.677"/><stop offset="0.600" stop-color="rgb(255,0,0)" stop-opacity="0.503"/><stop offset="0.650" stop-color="rgb(255,0,0)" stop-opacity="0.359"/><stop offset="0.700" stop-color="rgb(255,0,0)" stop-opacity="0.246"/><stop offset="0.750" stop-color="rgb(255,0,0)" stop-opacity="0.162"/><stop offset="0.800" stop-color="rgb(255,0,0)" stop-opacity="0.102"/><stop offset="0.850" stop-color="rgb(255,0,0)" stop-opacity="0.061"/><stop offset="0.900" stop-color="rgb(255,0,0)" stop-opacity="0.035"/><stop offset="0.950" stop-color="rgb(255,0,0)" stop-opacity="0.019"/><stop offset="1.000" stop-color="rgb(255,0,0)" stop-opacity="0.000"/></radialGradient><radialGradient id="d80"><stop offset="0.000" stop-color="#000" stop-opacity="0.500"/><stop offset="0.050" stop-color="#000" stop-opacity="0.500"/><stop offset="0.100" stop-color="#000" stop-opacity="0.500"/><stop offset="0.150" stop-color="#000" stop-opacity="0.500"/><stop offset="0.200" stop-color="#000" stop-opacity="0.500"/><stop offset="0.250" stop-color="#000" stop-opacity="0.470"/><stop offset="0.300" stop-color="#000" stop-opacity="0.379"/><stop offset="0.350" stop-color="#000" stop-opacity="0.275"/><stop offset="0.400" stop-color="#000" stop-opacity="0.162"/><stop offset="0.450" stop-color="#000" stop-opacity="0.048"/><stop offset="0.500" stop-color="#000" stop-opacity="0.000"/><stop offset="0.550" stop-color="#000" stop-opacity="0.000"/><stop offset="0.600" stop-color="#000" stop-opacity="0.000"/><stop offset="0.650" stop-color="#000" stop-opacity="0.000"/><stop offset="0.700" stop-color="#000" stop-opacity="0.000"/><stop offset="0.750" stop-color="#000" stop-opacity="0.000"/><stop offset="0.800" stop-color="#000" stop-opacity="0.000"/><stop offset="0.850" stop-color="#000" stop-opacity="0.000"/><stop offset="0.900" stop-color="#000" stop-opacity="0.000"/><stop offset="0.950" stop-color="#000" stop-opacity="0.000"/><stop offset="1.000" stop-color="#000" stop-opacity="0.000"/></radialGradient>
<radialGradient id="g81"><stop offset="0.000" stop-color="rgb(0,0,255)" stop-opacity="0.080"/><stop offset="0.050" stop-color="rgb(0,0,255)" stop-opacity="0.080"/><stop offset="0.100" stop-color="rgb(0,0,255)" stop-opacity="0.079"/><stop offset="0.150" stop-color="rgb(0,0,255)" stop-opacity="0.076"/><stop offset="0.200" stop-color="rgb(0,0,255)" stop-opacity="0.073"/><stop offset="0.250" stop-color="rgb(0,0,255)" stop-opacity="0.067"/><stop offset="0.300" stop-color="rgb(0,0,255)" stop-opacity="0.061"/><stop offset="0.350" stop-color="rgb(0,0,255)" stop-opacity="0.054"/><stop offset="0.400" stop-color="rgb(0,0,255)" stop-opacity="0.046"/><stop offset="0.450" stop-color="rgb(0,0,255)" stop-opacity="0.038"/><stop offset="0.500" stop-color="rgb(0,0,255)" stop-opacity="0.031"/><stop offset="0.550" stop-color="rgb(0,0,255)" stop-opacity="0.024"/><stop offset="0.600" stop-color="rgb(0,0,255)" stop-opacity="0.018"/><stop offset="0.650" stop-color="rgb(0,0,255)" stop-opacity="0.012"/><stop offset="0.700" stop-color="rgb(0,0,255)" stop-opacity="0.009"/><stop offset="0.750" stop-color="rgb(0,0,255)" stop-opacity="0.006"/><stop offset="0.800" stop-color="rgb(0,0,255)" stop-opacity="0.004"/><stop offset="0.850" stop-color="rgb(0,0,255)" stop-opacity="0.002"/><stop offset="0.900" stop-color="rgb(0,0,255)" stop-opacity="0.001"/><stop offset="0.950" stop-color="rgb(0,0,255)" stop-opacity="0.001"/><stop offset="1.000" stop-color="rgb(0,0,255)" stop-opacity="0.000"/></radialGradient>
<radialGradient id="g82"><stop offset="0.000" stop-color="rgb(0,0,255)" stop-opacity="0.400"/><stop offset="0.050" stop-color="rgb(0,0,255)" stop-opacity="0.399"/><stop offset="0.100" stop-color="rgb(0,0,255)" stop-opacity="0.393"/><stop offset="0.150" stop-color="rgb(0,0,255)" stop-opacity="0.381"/><stop offset="0.200" stop-color="rgb(0,0,255)" stop-opacity="0.363"/><stop offset="0.250" stop-color="rgb(0,0,255)" stop-opacity="0.337"/><stop offset="0.300" stop-color="rgb(0,0,255)" stop-opacity="0.306"/><stop offset="0.350" stop-color="rgb(0,0,255)" stop-opacity="0.269"/><stop offset="0.400" stop-color="rgb(0,0,255)" stop-opacity="0.230"/><stop offset="0.450" stop-color="rgb(0,0,255)" stop-opacity="0.191"/><stop offset="0.500" stop-color="rgb(0,0,255)" stop-opacity="0.153"/><stop offset="0.550" stop-color="rgb(0,0,255)" stop-opacity="0.118"/><stop offset="0.600" stop-color="rgb(0,0,255)" stop-opacity="0.088"/><stop offset="0.650" stop-color="rgb(0,0,255)" stop-opacity="0.062"/><stop offset="0.700" stop-color="rgb(0,0,255)" stop-opacity="0.043"/><stop offset="0.750" stop-color="rgb(0,0,255)" stop-opacity="0.028"/><stop offset="0.800" stop-color="rgb(0,0,255)" stop-opacity="0.018"/><stop offset="0.850" stop-color="rgb(0,0,255)" stop-opacity="0.011"/><stop offset="0.900" stop-color="rgb(0,0,255)" stop-opacity="0.006"/><stop offset="0.950" stop-color="rgb(0,0,255)" stop-opacity="0.003"/><stop offset="1.000" stop-color="rgb(0,0,255)" stop-opacity="0.000"/></radialGradient>
<clipPath id="dc"><rect x="0" y="0" width="761.6" height="832.8"/></clipPath>
<g id="coast"><path d="M-5.7,276.8 L0.0,279.1 L28.2,291.3 L33.3,290.0 L30.8,294.5 L32.4,292.9 L40.4,297.7 L47.4,296.8 L48.0,298.3 L66.0,303.4 L92.8,316.2 L122.3,323.3 L135.7,328.4 L137.6,325.8 L140.2,329.0 L167.1,335.4 L207.6,355.1 L213.4,363.4 L237.7,376.9 L269.7,387.1 L292.1,398.0 L308.1,398.4 L312.6,403.1 L312.6,400.9 L306.8,406.3 L320.9,405.3 L320.9,409.5 L324.8,412.7 L322.8,419.8 L338.8,430.6 L354.2,437.0 L383.6,460.1 L391.3,475.4 L395.8,484.9 L399.6,486.8 L400.3,490.6 L394.5,495.1 L392.0,500.9 L385.6,504.1 L382.4,513.7 L380.4,536.7 L372.1,541.2 L359.3,533.9 L344.6,531.0 L325.4,519.4 L315.8,507.9 L319.0,506.6 L319.0,502.2 L311.3,499.0 L315.8,497.0 L319.6,490.6 L304.9,479.1 L302.4,467.6 L294.7,462.6 L264.6,459.1 L238.4,461.1 L237.7,459.4 L221.1,455.6 L189.7,442.8 L191.0,439.0 L195.5,440.2 L197.4,434.2 L193.6,431.0 L185.9,431.3 L186.5,428.1 L178.2,424.9 L160.7,427.0 L141.5,438.6 L130.0,453.3 L128.0,452.0 L108.8,484.6 L95.4,493.6 L94.8,500.6 L100.5,514.1 L79.4,535.2 L76.8,545.4 L83.2,551.0 L83.2,559.4 L89.0,563.8 L99.2,567.7 L122.9,567.4 L137.0,579.8 L153.0,587.1 L162.0,588.8 L171.6,599.0 L184.4,602.0 L176.0,616.3 L175.0,625.3 L182.4,633.6 L176.0,649.0 L182.4,659.2 L192.7,661.8 L184.4,666.9 L185.6,673.3 L174.1,682.9 L169.6,679.0 L162.6,681.0 L156.2,675.8 L142.1,676.5 L127.4,681.0 L118.4,685.4 L95.4,695.5 L85.2,712.2 L89.0,716.6 L91.8,751.2 L90.3,757.6 L75.6,770.4 L51.9,777.4 L26.3,802.4 L23.1,817.8 L18.6,825.4 L10.3,837.0 L0.7,838.2 L-5.7,838.6 L-5.7,709.7 L0.7,709.6 L5.8,709.0 L16.7,711.8 L24.4,709.0 L28.6,705.8 L35.5,689.8 L34.6,677.6 L23.7,673.3 L14.8,660.5 L10.3,641.9 L8.4,618.2 L0.0,597.1 L-5.7,585.6Z" fill="#fff5ee" stroke="#7f7f7f" stroke-width="2.4" stroke-linejoin="miter" stroke-miterlimit="3"/>
<path d="M-5.7,198.7 L0.0,198.5 L6.4,197.8 L25.6,204.9 L30.1,208.5 L27.8,213.2 L32.4,218.3 L31.1,226.0 L5.2,241.4 L0.0,243.0 L-5.7,243.9Z" fill="#fff5ee" stroke="#7f7f7f" stroke-width="2.4" stroke-linejoin="miter" stroke-miterlimit="3"/>
<path d="M169.6,-5.6 L179.9,0.2 L191.4,4.9 L210.6,13.6 L217.0,20.6 L223.4,25.8 L226.2,20.0 L228.5,26.4 L237.5,25.8 L234.9,31.5 L231.7,31.3 L236.2,36.6 L240.7,39.2 L247.7,40.7 L253.5,41.8 L260.5,46.9 L268.2,51.4 L272.7,48.2 L270.8,54.3 L275.9,57.1 L268.8,58.0 L277.8,64.2 L282.9,62.2 L292.3,62.2 L296.4,66.3 L300.2,64.2 L299.6,69.9 L306.6,73.8 L319.4,79.9 L316.0,79.5 L323.1,82.1 L325.0,79.5 L326.9,83.4 L331.4,84.0 L330.8,89.1 L345.5,93.0 L350.0,91.4 L354.2,95.3 L350.3,98.7 L347.0,96.8 L348.0,99.6 L350.6,98.3 L353.2,101.9 L381.3,114.7 L384.9,119.2 L390.3,119.2 L400.5,127.5 L401.8,123.0 L398.0,117.9 L414.0,121.4 L425.5,116.6 L420.4,112.8 L426.1,108.3 L427.8,113.4 L438.7,112.2 L439.6,125.0 L435.1,117.9 L427.4,115.4 L426.1,121.1 L430.6,123.9 L429.3,128.2 L422.3,128.8 L421.0,132.6 L414.0,132.6 L404.6,125.0 L407.6,122.8 L425.5,127.5 L429.3,139.0 L429.1,139.5 L440.6,148.2 L446.0,144.9 L458.1,146.6 L461.1,154.9 L470.5,159.6 L477.7,169.0 L485.0,168.3 L490.5,172.8 L490.1,177.3 L485.6,176.0 L498.7,183.3 L500.0,193.0 L497.2,193.9 L502.5,200.7 L512.5,205.4 L513.8,204.5 L524.7,207.4 L530.4,211.8 L536.8,207.4 L536.8,214.4 L534.3,215.0 L540.7,211.5 L545.8,211.8 L570.8,219.9 L571.4,226.6 L565.6,229.8 L568.8,236.2 L565.6,244.5 L566.3,247.0 L570.1,250.2 L574.0,252.8 L570.8,254.1 L568.8,250.2 L565.0,256.0 L558.6,257.9 L545.8,254.7 L549.0,261.1 L557.3,263.7 L558.0,270.1 L552.5,276.5 L545.8,279.5 L548.4,282.7 L545.8,285.3 L537.1,282.3 L542.6,287.2 L542.0,297.4 L547.7,301.3 L547.3,298.7 L552.8,299.4 L558.3,306.1 L550.7,323.7 L544.8,325.6 L548.6,335.8 L543.9,346.7 L549.0,348.6 L549.6,346.7 L551.6,352.5 L555.0,348.6 L559.6,362.7 L544.5,369.8 L545.8,373.6 L541.3,373.0 L540.0,376.8 L535.3,379.6 L534.3,394.7 L524.0,403.7 L531.7,403.0 L527.9,406.2 L530.4,410.1 L531.1,407.5 L538.8,421.6 L538.1,424.6 L539.4,423.4 L538.1,415.7 L549.0,417.6 L547.1,428.5 L539.4,423.4 L541.3,428.5 L554.1,436.8 L552.8,452.2 L542.6,456.4 L540.0,447.0 L527.9,438.1 L525.3,438.1 L521.5,440.6 L533.0,449.0 L535.6,458.6 L550.3,472.6 L580.4,487.4 L595.1,491.6 L594.4,495.0 L597.0,494.4 L597.6,497.6 L600.2,496.3 L602.1,499.9 L608.5,498.9 L613.6,501.4 L624.5,516.8 L620.0,522.9 L627.7,524.5 L632.2,527.7 L637.3,527.3 L633.5,540.5 L635.4,541.8 L630.3,546.2 L632.8,548.2 L631.3,556.5 L644.0,557.0 L650.4,562.1 L651.6,560.2 L665.1,566.6 L655.5,582.6 L659.3,581.3 L667.0,585.1 L672.1,583.2 L676.6,585.1 L676.0,588.3 L672.1,589.0 L679.8,595.4 L667.0,594.7 L672.8,599.2 L667.0,601.1 L672.8,603.7 L679.2,605.0 L680.4,613.9 L688.1,621.0 L709.9,621.6 L709.9,631.6 L746.4,657.4 L748.9,665.1 L745.1,665.8 L750.2,673.4 L754.7,672.8 L756.6,670.2 L754.7,661.9 L760.4,655.5 L769.4,654.2 L766.1,-18.4Z" fill="#fff5ee" stroke="#7f7f7f" stroke-width="2.4" stroke-linejoin="miter" stroke-miterlimit="3"/>
<path d="M51.9,4.6 L57.0,2.7 L60.8,3.6 L66.0,1.4 L68.5,3.4 L67.2,7.2 L59.6,6.6Z" fill="#7f7f7f" stroke="#7f7f7f" stroke-width="1.6" stroke-linejoin="miter"/>
<path d="M68.5,3.4 L68.5,-1.8 L105.6,-1.8 L107.6,1.8 L111.0,4.4 L114.6,6.6 L139.6,5.9 L140.2,7.8 L182.4,9.8 L189.5,11.0 L183.7,12.3 L159.4,13.9 L121.0,11.0 L104.4,12.3 L87.7,10.4 L76.2,6.6 L73.6,6.8Z" fill="#fff5ee" stroke="#7f7f7f" stroke-width="2.4" stroke-linejoin="miter" stroke-miterlimit="3"/>
<path d="M104.4,16.8 L109.5,14.9 L117.2,16.8 L116.5,18.1 L105.6,17.7Z" fill="#7f7f7f" stroke="#7f7f7f" stroke-width="1.6" stroke-linejoin="miter"/>
<path d="M7.7,21.9 L28.2,18.1 L32.7,19.4 L37.8,18.7 L41.6,21.3 L42.9,24.5 L37.8,26.4 L25.0,30.2 L17.3,31.5 L8.4,30.9 L14.1,27.0 L13.5,24.5 L9.0,25.1Z" fill="#fff5ee" stroke="#7f7f7f" stroke-width="2.4" stroke-linejoin="miter" stroke-miterlimit="3"/>
<path d="M-0.6,29.0 L3.9,37.9 L-0.6,37.9Z" fill="#7f7f7f" stroke="#7f7f7f" stroke-width="1.6" stroke-linejoin="miter"/>
<path d="M96.0,33.4 L109.5,31.5 L135.1,37.9 L164.5,34.1 L167.1,36.0 L181.2,38.6 L185.0,39.2 L182.4,41.8 L190.1,45.0 L177.3,46.9 L154.9,43.7 L137.6,48.8 L133.8,48.2 L137.0,45.6 L122.3,46.9 L105.6,43.7 L105.0,45.6 L100.5,41.8 L110.8,38.6 L104.4,35.4Z" fill="#fff5ee" stroke="#7f7f7f" stroke-width="2.4" stroke-linejoin="miter" stroke-miterlimit="3"/>
<path d="M159.4,23.8 L165.8,27.9 L185.0,27.0 L200.4,29.2 L228.5,38.2 L234.3,45.6 L242.0,46.9 L243.2,43.7 L261.8,52.6 L275.9,57.8 L279.1,66.1 L272.0,64.2 L256.7,61.0 L229.8,53.3 L227.2,51.4 L231.1,48.8 L224.7,45.6 L217.0,45.0 L192.7,34.7 L178.6,35.4 L167.1,33.4 L159.4,30.9 L162.6,29.0Z" fill="#fff5ee" stroke="#7f7f7f" stroke-width="2.4" stroke-linejoin="miter" stroke-miterlimit="3"/>
<path d="M247.7,40.7 L253.5,41.8 L260.5,46.9 L268.2,51.4 L261.8,50.7 L254.1,46.9Z" fill="#7f7f7f" stroke="#7f7f7f" stroke-width="1.6" stroke-linejoin="miter"/>
<path d="M268.8,58.0 L277.8,64.2 L281.0,69.9 L278.4,71.2 L275.9,66.1Z" fill="#7f7f7f" stroke="#7f7f7f" stroke-width="1.6" stroke-linejoin="miter"/>
<path d="M223.4,25.8 L226.2,20.0 L228.5,26.4 L237.5,25.8 L234.9,31.5 L231.7,31.3Z" fill="#7f7f7f" stroke="#7f7f7f" stroke-width="1.6" stroke-linejoin="miter"/>
<path d="M208.7,64.8 L217.0,62.0 L222.1,64.2 L255.4,71.8 L256.0,73.8 L275.9,77.6 L279.1,82.1 L250.3,75.7 L229.8,71.2 L228.5,72.7 L224.0,70.6 L219.6,71.2 L217.0,68.6Z" fill="#fff5ee" stroke="#7f7f7f" stroke-width="2.4" stroke-linejoin="miter" stroke-miterlimit="3"/>
<path d="M122.9,67.1 L127.4,67.4 L132.5,66.3 L149.2,68.4 L145.3,74.4 L140.8,76.3 L140.2,74.4 L133.8,76.3 L128.7,71.2 L126.1,71.8Z" fill="#fff5ee" stroke="#7f7f7f" stroke-width="2.4" stroke-linejoin="miter" stroke-miterlimit="3"/>
<path d="M122.9,67.1 L128.0,67.6 L131.2,69.9 L128.7,71.2 L126.1,71.8Z" fill="#7f7f7f" stroke="#7f7f7f" stroke-width="1.6" stroke-linejoin="miter"/>
<path d="M111.4,70.6 L116.5,70.2 L115.9,71.8 L112.0,71.6Z" fill="#7f7f7f" stroke="#7f7f7f" stroke-width="1.6" stroke-linejoin="miter"/>
<path d="M152.4,68.0 L156.2,67.4 L154.9,70.6 L153.0,69.9Z" fill="#7f7f7f" stroke="#7f7f7f" stroke-width="1.6" stroke-linejoin="miter"/>
<path d="M38.4,126.5 L42.3,127.5 L41.6,129.1Z" fill="#7f7f7f" stroke="#7f7f7f" stroke-width="1.6" stroke-linejoin="miter"/>
<path d="M282.3,69.9 L292.5,73.1 L301.5,77.6 L304.0,82.7 L309.8,84.0 L314.3,80.8 L306.6,78.9 L297.6,72.5 L288.7,69.9Z" fill="#fff5ee" stroke="#7f7f7f" stroke-width="2.4" stroke-linejoin="miter" stroke-miterlimit="3"/>
<path d="M299.4,74.4 L303.2,75.7 L302.6,78.9 L299.4,77.6Z" fill="#fff5ee" stroke="#7f7f7f" stroke-width="2.4" stroke-linejoin="miter" stroke-miterlimit="3"/>
<path d="M305.2,81.4 L309.0,79.5 L313.5,81.4 L309.0,83.4Z" fill="#fff5ee" stroke="#7f7f7f" stroke-width="2.4" stroke-linejoin="miter" stroke-miterlimit="3"/>
<path d="M316.7,82.7 L322.4,84.0 L318.6,81.4Z" fill="#7f7f7f" stroke="#7f7f7f" stroke-width="1.6" stroke-linejoin="miter"/>
<path d="M325.6,82.7 L332.0,82.7 L331.4,88.5 L326.3,87.2Z" fill="#7f7f7f" stroke="#7f7f7f" stroke-width="1.6" stroke-linejoin="miter"/>
<path d="M536.2,364.6 L542.0,358.9 L548.4,358.2 L545.8,364.0 L538.1,366.6Z" fill="#fff5ee" stroke="#7f7f7f" stroke-width="2.4" stroke-linejoin="miter" stroke-miterlimit="3"/>
<path d="M551.6,352.5 L544.5,369.8" fill="none" stroke="#7f7f7f" stroke-width="2.4"/>
<path d="M538.1,415.2 L548.6,418.4 L547.7,425.4 L539.4,422.9Z" fill="#fff5ee" stroke="#7f7f7f" stroke-width="2.4" stroke-linejoin="miter" stroke-miterlimit="3"/>
<path d="M517.0,426.6 L519.6,424.6 L522.8,427.8 L523.4,433.6 L520.2,431.0Z" fill="#7f7f7f" stroke="#7f7f7f" stroke-width="1.6" stroke-linejoin="miter"/>
<path d="M534.9,528.7 L548.4,527.7 L538.8,534.1Z" fill="#fff5ee" stroke="#7f7f7f" stroke-width="2.4" stroke-linejoin="miter" stroke-miterlimit="3"/>
<path d="M565.0,523.8 L573.3,524.5 L567.6,528.3Z" fill="#7f7f7f" stroke="#7f7f7f" stroke-width="1.6" stroke-linejoin="miter"/>
<path d="M555.4,540.5 L557.3,540.5 L561.8,545.6 L560.5,546.5Z" fill="#7f7f7f" stroke="#7f7f7f" stroke-width="1.6" stroke-linejoin="miter"/>
<path d="M574.6,546.9 L582.3,539.2 L602.8,540.5 L611.1,535.4 L628.4,542.4 L624.5,550.1 L608.5,555.2 L609.8,562.9 L613.6,563.5 L609.8,565.4 L613.2,560.2 L608.1,562.1 L620.9,565.3 L623.5,567.2 L622.8,571.0 L618.4,571.0 L623.5,590.2 L635.6,592.8 L638.2,596.6 L645.9,592.8 L654.2,606.2 L652.9,608.8 L626.0,598.6 L622.2,597.9 L614.5,593.4 L607.5,574.9 L592.8,565.3 L590.8,558.9 L591.2,561.6 L582.3,559.0 L584.2,553.3 L581.0,551.4 L579.7,553.9 L579.1,548.8Z" fill="#fff5ee" stroke="#7f7f7f" stroke-width="2.4" stroke-linejoin="miter" stroke-miterlimit="3"/>
<path d="M615.8,593.4 L622.2,595.4 L626.7,598.6 L620.9,597.9Z" fill="#7f7f7f" stroke="#7f7f7f" stroke-width="1.6" stroke-linejoin="miter"/>
<path d="M652.9,627.4 L659.3,628.6 L667.0,637.6 L660.6,638.2Z" fill="#fff5ee" stroke="#7f7f7f" stroke-width="2.4" stroke-linejoin="miter" stroke-miterlimit="3"/>
<path d="M667.6,642.1 L671.5,640.8 L676.0,645.3 L669.6,643.4Z" fill="#7f7f7f" stroke="#7f7f7f" stroke-width="1.6" stroke-linejoin="miter"/>
<path d="M655.5,582.6 L659.3,580.6 L667.0,584.5 L665.7,586.4Z" fill="#7f7f7f" stroke="#7f7f7f" stroke-width="1.6" stroke-linejoin="miter"/>
<path d="M769.4,687.5 L761.7,688.2 L751.5,690.1 L752.1,686.9 L748.9,690.1 L743.2,689.4 L742.5,692.0 L737.4,692.6 L728.4,705.4 L722.7,716.0 L720.1,735.2 L728.4,724.4 L736.8,733.3 L743.2,725.6 L743.8,729.5 L746.4,723.7 L748.3,726.9 L752.8,718.6 L750.2,711.6 L753.4,703.2 L756.6,704.5 L769.4,703.2Z" fill="#fff5ee" stroke="#7f7f7f" stroke-width="2.4" stroke-linejoin="miter" stroke-miterlimit="3"/>
<path d="M769.4,669.6 L761.7,669.6 L756.0,667.0 L754.0,670.2 L756.6,674.7 L754.7,681.1 L761.7,685.0 L769.4,685.6Z" fill="#fff5ee" stroke="#7f7f7f" stroke-width="2.4" stroke-linejoin="miter" stroke-miterlimit="3"/>
<path d="M748.9,692.0 L752.1,705.4" fill="none" stroke="#7f7f7f" stroke-width="2.4"/>
<path d="M742.5,689.4 L748.9,690.1 L752.1,686.9 L751.5,692.0 L743.8,692.0Z" fill="#7f7f7f" stroke="#7f7f7f" stroke-width="1.6" stroke-linejoin="miter"/>
<path d="M745.1,736.5 L747.6,734.0 L750.2,736.5 L748.3,739.7Z" fill="#fff5ee" stroke="#7f7f7f" stroke-width="2.4" stroke-linejoin="miter" stroke-miterlimit="3"/>
<path d="M769.4,716.0 L761.7,716.0 L755.3,712.2 L751.5,718.6 L756.6,725.0 L761.7,732.7 L769.4,733.3Z" fill="#fff5ee" stroke="#7f7f7f" stroke-width="2.4" stroke-linejoin="miter" stroke-miterlimit="3"/>
<path d="M752.8,710.9 L756.6,714.8 L754.0,719.9 L759.2,722.4 L761.7,718.6 L761.7,713.5Z" fill="#fff5ee" stroke="#7f7f7f" stroke-width="2.4" stroke-linejoin="miter" stroke-miterlimit="3"/>
<path d="M688.1,794.8 L691.3,783.2 L695.8,780.7 L698.4,766.0 L700.9,770.4 L705.4,767.2 L706.0,771.1 L709.9,774.3 L720.8,767.9 L721.4,764.7 L716.3,762.8 L720.8,762.1 L719.5,750.0 L724.6,748.7 L727.2,750.6 L728.4,764.7 L734.2,766.0 L734.8,772.4 L729.1,776.8 L734.8,783.9 L741.2,781.3 L743.8,779.4 L769.4,810.8 L769.4,817.8 L761.7,816.5 L748.3,814.6 L732.3,806.3 L724.6,810.8 L715.0,808.8 L710.5,805.6 L712.4,803.7 L708.0,794.1 L715.6,799.9 L704.1,780.7 L701.6,782.6 L703.5,801.2 L700.9,800.5 L701.6,803.7 L699.6,801.2 L694.5,801.2Z" fill="#fff5ee" stroke="#7f7f7f" stroke-width="2.4" stroke-linejoin="miter" stroke-miterlimit="3"/>
<path d="M731.6,750.0 L737.4,744.2 L741.9,745.5 L739.3,748.7 L743.8,750.0 L747.6,755.7 L743.8,763.4 L748.9,763.4 L753.4,763.4 L756.0,766.6 L753.4,769.8 L756.6,774.3 L749.6,776.8 L743.8,767.2 L742.5,766.0 L737.4,754.4 L734.2,750.6Z" fill="#fff5ee" stroke="#7f7f7f" stroke-width="2.4" stroke-linejoin="miter" stroke-miterlimit="3"/>
<path d="M731.6,856.8 L731.6,850.4 L732.9,844.0 L736.8,840.8 L745.7,838.3 L751.5,848.5 L769.4,853.0 L769.4,860.7Z" fill="#fff5ee" stroke="#7f7f7f" stroke-width="2.4" stroke-linejoin="miter" stroke-miterlimit="3"/></g>
</defs>
<rect width="2500" height="1180" fill="#fff"/>
<g transform="translate(100.6,45.6)">
<g clip-path="url(#pc)">
<rect x="0" y="0" width="761.6" height="856.1" fill="#fff"/>
<rect x="0" y="0" width="761.6" height="831.5" fill="#fffdfd"/>
<g clip-path="url(#dc)">
<ellipse rx="49.4" ry="39.0" fill="url(#g0)" transform="translate(249.4,122.4) rotate(0)"/>
<ellipse rx="46.8" ry="39.0" fill="url(#g1)" transform="translate(246.4,170.4) rotate(0)"/>
<ellipse rx="31.2" ry="29.9" fill="url(#g2)" transform="translate(250.4,124.4) rotate(0)"/>
<ellipse rx="29.9" ry="29.9" fill="url(#g3)" transform="translate(246.9,168.4) rotate(0)"/>
<ellipse rx="46.8" ry="39.0" fill="url(#g4)" transform="translate(241.4,216.4) rotate(0)"/>
<ellipse rx="49.4" ry="41.6" fill="url(#g5)" transform="translate(232.4,272.4) rotate(0)"/>
<ellipse rx="26.0" ry="26.0" fill="url(#g6)" transform="translate(242.4,214.4) rotate(0)"/>
<ellipse rx="27.3" ry="26.0" fill="url(#g7)" transform="translate(233.4,276.4) rotate(0)"/>
<ellipse rx="52.0" ry="36.4" fill="url(#g8)" transform="translate(285.4,331.4) rotate(22)"/>
<ellipse rx="38.0" ry="25.7" fill="url(#g9)" transform="translate(282.6,333.7) rotate(22)"/>
<ellipse rx="57.2" ry="41.6" fill="url(#g10)" transform="translate(434.4,420.4) rotate(30)"/>
<ellipse rx="41.6" ry="31.2" fill="url(#g11)" transform="translate(429.8,420.7) rotate(30)"/>
<ellipse rx="33.8" ry="59.8" fill="url(#g12)" transform="translate(197.4,524.4) rotate(15)"/>
<ellipse rx="22.1" ry="39.0" fill="url(#g13)" transform="translate(198.7,520.7) rotate(15)"/>
<ellipse rx="49.4" ry="33.8" fill="url(#g14)" transform="translate(241.4,554.4) rotate(-45)"/>
<ellipse rx="40.3" ry="26.0" fill="url(#g15)" transform="translate(239.0,556.6) rotate(-45)"/>
<ellipse rx="19.5" ry="20.8" fill="url(#g16)" transform="translate(270.4,557.8) rotate(0)"/>
<ellipse rx="13.0" ry="14.3" fill="url(#g17)" transform="translate(270.4,557.8) rotate(0)"/>
<ellipse rx="70.2" ry="57.2" fill="url(#g18)" transform="translate(324.4,704.4) rotate(25)"/>
<ellipse rx="61.1" ry="46.8" fill="url(#g19)" transform="translate(322.4,704.6) rotate(25)"/>
<ellipse rx="62.4" ry="49.4" fill="url(#g20)" transform="translate(567.4,708.4) rotate(22)"/>
<ellipse rx="44.2" ry="33.8" fill="url(#g21)" transform="translate(564.6,709.0) rotate(22)"/>
<ellipse rx="52.0" ry="62.4" fill="url(#g22)" transform="translate(175.4,754.4) rotate(-20)"/>
<ellipse rx="31.2" ry="31.2" fill="url(#g23)" transform="translate(172.7,751.9) rotate(0)"/>
<ellipse rx="15.6" ry="23.4" fill="url(#g24)" transform="translate(188.0,712.2) rotate(0)"/>
<ellipse rx="26.0" ry="26.0" fill="url(#g25)" transform="translate(199.4,754.4) rotate(0)"/>
<ellipse rx="33.8" ry="67.6" fill="url(#g26)" transform="translate(224.4,810.4) rotate(-35)"/>
<ellipse rx="20.8" ry="44.2" fill="url(#g27)" transform="translate(224.7,812.6) rotate(-35)"/>
<ellipse rx="23.4" ry="15.6" fill="url(#g28)" transform="translate(157.5,796.6) rotate(10)"/>
<ellipse rx="15.6" ry="15.6" fill="url(#g29)" transform="translate(198.4,827.4) rotate(0)"/>
<ellipse rx="38.0" ry="25.7" fill="url(#d9)" transform="translate(282.6,333.7) rotate(22)"/>
<ellipse rx="41.6" ry="31.2" fill="url(#d11)" transform="translate(429.8,420.7) rotate(30)"/>
<ellipse rx="61.1" ry="46.8" fill="url(#d19)" transform="translate(322.4,704.6) rotate(25)"/>
<ellipse rx="44.2" ry="33.8" fill="url(#d21)" transform="translate(564.6,709.0) rotate(22)"/>
</g>
<use href="#coast"/>
<g clip-path="url(#dc)">
<path d="M219.2,135.6 C219.2,134.1 218.6,129.6 219.2,126.6 C219.7,123.7 220.3,120.7 222.4,117.7 C224.4,114.7 227.7,111.2 231.3,108.7 C234.9,106.3 239.6,104.2 244.1,103.0 C248.6,101.7 254.1,100.8 258.2,101.0 C262.3,101.3 265.5,102.5 268.4,104.2 C271.4,105.9 274.3,108.8 276.1,111.3 C277.9,113.7 279.0,116.0 279.3,119.0 C279.6,121.9 278.9,126.2 278.0,129.2 C277.2,132.2 275.7,134.5 274.2,136.9 C272.7,139.2 270.2,141.4 269.1,143.3 C267.9,145.2 267.4,146.6 267.4,148.4 C267.4,150.2 268.3,152.0 269.1,154.2 C269.9,156.3 271.6,158.7 272.3,161.2 C272.9,163.7 273.2,166.1 272.9,168.9 C272.6,171.7 271.9,175.2 270.4,177.8 C268.9,180.5 266.6,183.0 264.0,184.9 C261.3,186.8 257.9,188.3 254.4,189.4 C250.8,190.4 246.5,191.1 242.8,191.3 C239.2,191.5 235.6,191.3 232.6,190.6 C229.6,190.0 226.9,188.7 224.9,187.4 C222.9,186.2 221.5,184.5 220.4,183.0 C219.4,181.5 218.8,179.2 218.5,178.5" fill="none" stroke="#000" stroke-width="1.15"/>
<path d="M259.2,229.2 C259.9,228.1 261.9,225.4 263.1,222.8 C264.3,220.2 265.7,216.6 266.3,213.8 C266.8,211.1 266.9,208.4 266.3,206.2 C265.6,203.9 264.5,201.8 262.4,200.4 C260.4,199.0 256.8,198.2 254.1,197.8 C251.5,197.5 249.4,197.9 246.4,198.2 C243.5,198.5 239.2,199.4 236.2,199.8 C233.2,200.1 230.7,199.8 228.5,200.4 C226.4,201.0 224.9,202.0 223.4,203.6 C221.9,205.2 220.6,207.4 219.6,210.0 C218.5,212.6 218.4,216.0 217.0,219.0 C215.6,221.9 212.2,225.1 211.2,227.9 C210.3,230.7 210.9,232.8 211.2,235.6 C211.6,238.4 212.3,242.0 213.2,244.6 C214.0,247.1 215.9,248.8 216.4,251.0 C216.8,253.1 216.7,255.2 215.7,257.4 C214.8,259.5 212.5,261.8 210.6,263.8 C208.7,265.7 205.6,267.2 204.2,268.9 C202.8,270.6 202.1,272.1 202.3,274.0 C202.5,275.9 203.7,278.1 205.5,280.4 C207.3,282.7 210.4,285.9 213.2,288.1 C215.9,290.2 218.5,291.9 222.1,293.2 C225.7,294.5 230.7,295.4 234.9,295.8 C239.2,296.1 244.1,295.8 247.7,295.1 C251.3,294.5 254.3,293.3 256.7,291.9 C259.0,290.5 260.6,288.7 261.8,286.8 C263.0,284.9 263.3,282.2 263.7,280.4 C264.1,278.6 264.0,276.7 264.1,275.9" fill="none" stroke="#000" stroke-width="1.15" stroke-dasharray="4.3 1.9"/>
<path d="M255.1,342.6 C254.0,341.5 250.3,338.1 248.7,335.6 C247.1,333.1 246.0,330.2 245.5,327.9 C244.9,325.7 244.9,324.2 245.5,322.2 C246.0,320.1 247.2,317.7 248.7,315.8 C250.2,313.8 252.2,312.1 254.4,310.6 C256.7,309.1 259.3,307.9 262.1,306.8 C264.9,305.7 267.9,304.5 271.1,304.2 C274.3,304.0 278.8,305.2 281.3,305.5 C283.9,305.8 284.3,306.2 286.4,306.2 C288.6,306.1 291.8,305.3 294.1,305.1 C296.5,304.9 298.6,304.5 300.5,304.9 C302.4,305.3 303.9,306.4 305.6,307.4 C307.3,308.5 309.4,309.9 310.8,311.3 C312.1,312.7 312.5,314.4 314.0,315.8 C315.5,317.1 318.1,318.0 319.7,319.6 C321.3,321.2 322.6,323.3 323.6,325.4 C324.5,327.4 325.3,329.4 325.5,331.8 C325.7,334.1 325.0,337.1 324.6,339.4 C324.2,341.8 324.2,344.2 322.9,345.8 C321.7,347.4 318.9,348.0 317.2,349.0 C315.5,350.1 313.9,351.2 312.7,352.2 C311.4,353.2 310.2,354.6 309.7,355.1" fill="none" stroke="#000" stroke-width="1.15"/>
<path d="M397.8,422.6 C397.2,421.1 394.5,416.9 394.0,413.7 C393.4,410.5 394.1,406.4 394.6,403.4 C395.1,400.5 395.8,398.1 397.2,395.8 C398.5,393.4 400.5,391.2 402.9,389.4 C405.4,387.5 408.7,385.9 411.9,384.9 C415.1,383.9 418.7,383.5 422.1,383.2 C425.5,382.9 428.9,382.8 432.4,383.2 C435.8,383.6 439.2,384.3 442.6,385.5 C446.0,386.8 449.4,388.7 452.8,390.6 C456.3,392.6 459.9,394.7 463.1,397.0 C466.3,399.4 469.5,402.2 472.0,404.7 C474.6,407.3 476.9,409.8 478.4,412.4 C479.9,415.0 480.7,417.5 481.0,420.1 C481.3,422.6 480.8,425.4 480.4,427.8 C479.9,430.1 479.4,431.8 478.4,434.2 C477.5,436.5 476.4,439.3 474.6,441.8 C472.8,444.4 470.1,447.4 467.6,449.5 C465.0,451.7 462.1,453.2 459.2,454.6 C456.4,456.1 453.3,457.4 450.3,458.2 C447.3,459.0 443.9,459.2 441.3,459.5 C438.8,459.8 436.0,459.7 434.9,459.8" fill="none" stroke="#000" stroke-width="1.15"/>
<path d="M175.6,533.5 C174.7,532.5 170.9,529.3 169.9,527.1 C168.8,525.0 168.9,522.9 169.2,520.7 C169.6,518.6 170.5,516.6 171.8,514.3 C173.1,512.1 174.9,509.5 176.9,507.3 C178.9,505.0 181.3,502.5 184.0,500.9 C186.6,499.2 189.7,498.1 192.9,497.4 C196.1,496.7 200.0,496.3 203.2,496.7 C206.4,497.0 209.6,498.1 212.1,499.6 C214.7,501.1 216.9,503.1 218.5,505.4 C220.1,507.6 221.1,510.7 221.7,513.0 C222.4,515.4 222.8,517.1 222.4,519.4 C221.9,521.8 220.5,524.7 219.2,527.1 C217.8,529.6 215.5,531.8 214.0,534.2 C212.5,536.5 211.3,538.5 210.2,541.2 C209.1,543.9 208.5,547.6 207.6,550.2 C206.8,552.7 205.7,554.4 205.1,556.6 C204.4,558.7 204.4,561.1 203.8,563.0 C203.2,564.8 202.7,566.3 201.2,567.4 C199.7,568.5 195.9,569.3 194.8,569.6" fill="none" stroke="#000" stroke-width="1.15"/>
<path d="M256.3,521.4 C257.7,521.6 262.0,521.8 264.6,522.6 C267.2,523.5 270.0,524.7 271.6,526.5 C273.3,528.3 274.4,531.1 274.6,533.5 C274.8,536.0 274.1,538.9 272.9,541.2 C271.8,543.5 269.6,545.7 267.8,547.6 C266.0,549.5 263.4,550.6 262.0,552.7 C260.7,554.9 260.1,557.4 259.5,560.4 C258.8,563.4 258.7,567.4 258.2,570.6 C257.7,573.8 257.6,577.1 256.3,579.6 C255.0,582.1 253.0,584.0 250.5,585.4 C248.1,586.7 244.8,587.3 241.6,587.5 C238.4,587.7 234.5,587.6 231.3,586.6 C228.1,585.6 225.1,583.5 222.4,581.5 C219.6,579.5 216.8,576.9 214.7,574.5 C212.5,572.0 210.6,569.4 209.6,566.8 C208.5,564.2 208.4,561.5 208.3,559.1 C208.2,556.8 208.3,554.5 208.9,552.7 C209.6,550.9 211.6,549.0 212.1,548.2" fill="none" stroke="#000" stroke-width="1.15" stroke-dasharray="4.3 1.9"/>
<path d="M274.2,546.3 C276.2,546.4 278.3,547.6 280.0,548.9 C281.7,550.2 283.5,552.2 284.4,554.0 C285.4,555.8 286.0,557.8 285.7,559.8 C285.4,561.7 284.1,563.7 282.5,565.5 C280.9,567.3 278.0,569.4 276.1,570.6 C274.2,571.9 272.7,572.5 271.0,572.8 C269.3,573.1 267.3,573.6 265.9,572.6 C264.5,571.6 263.5,568.8 262.7,566.8 C261.8,564.8 260.8,562.7 260.8,560.4 C260.8,558.1 261.5,554.7 262.7,552.7 C263.9,550.7 265.9,549.3 267.8,548.2 C269.7,547.2 272.2,546.2 274.2,546.3Z" fill="none" stroke="#000" stroke-width="1.15"/>
<path d="M277.6,677.7 C278.7,676.9 281.7,674.8 284.0,673.2 C286.4,671.6 289.2,669.5 291.7,668.1 C294.3,666.7 296.2,665.4 299.4,664.6 C302.6,663.8 307.1,663.4 310.9,663.3 C314.8,663.3 318.6,663.5 322.4,664.2 C326.3,665.0 330.1,666.5 334.0,668.1 C337.8,669.7 341.9,671.6 345.5,673.8 C349.1,676.1 352.7,679.0 355.7,681.5 C358.7,684.1 361.3,686.4 363.4,689.2 C365.5,692.0 367.2,695.0 368.5,698.2 C369.8,701.4 371.0,705.0 371.3,708.4 C371.7,711.8 371.5,715.4 370.8,718.6 C370.1,721.8 369.1,724.8 367.2,727.6 C365.4,730.4 362.5,733.1 359.6,735.3 C356.6,737.4 352.9,739.1 349.3,740.4 C345.7,741.7 341.9,742.7 337.8,743.2 C333.7,743.7 329.3,743.8 325.0,743.2 C320.7,742.6 316.3,741.2 312.2,739.8 C308.1,738.3 304.3,736.5 300.7,734.6 C297.1,732.8 293.1,730.6 290.4,728.9 C287.8,727.2 285.6,725.1 284.7,724.4" fill="none" stroke="#000" stroke-width="1.15" stroke-dasharray="4.3 1.9"/>
<path d="M176.0,700.6 C176.9,700.2 178.8,698.5 181.2,698.1 C183.5,697.7 187.6,697.3 190.1,698.1 C192.7,698.8 194.4,700.3 196.5,702.6 C198.7,704.8 201.6,708.1 202.9,711.5 C204.2,714.9 203.6,719.2 204.2,723.0 C204.8,726.9 205.3,730.7 206.8,734.6 C208.3,738.4 211.3,742.7 213.2,746.1 C215.0,749.5 216.8,752.7 217.6,755.0 C218.5,757.4 218.8,758.6 218.3,760.2 C217.7,761.8 216.4,763.1 214.4,764.6 C212.5,766.1 209.3,767.5 206.8,769.1 C204.2,770.7 201.6,772.3 199.1,774.2 C196.5,776.2 193.5,778.5 191.4,780.6 C189.3,782.8 188.1,785.5 186.3,787.0 C184.5,788.5 182.9,789.6 180.5,789.6 C178.2,789.6 175.1,788.0 172.2,787.0 C169.3,786.1 166.4,785.1 163.2,783.8 C160.0,782.6 155.8,781.2 153.0,779.4 C150.2,777.5 148.1,775.5 146.6,773.0 C145.1,770.4 144.6,767.2 144.0,764.0 C143.5,760.8 143.7,756.5 143.4,753.8 C143.1,751.0 142.7,748.4 142.5,747.4" fill="none" stroke="#000" stroke-width="1.15" stroke-dasharray="4.3 1.9"/>
<path d="M206.8,778.7 C205.5,779.5 201.2,781.2 199.1,783.2 C196.9,785.2 195.2,788.2 194.0,790.9 C192.7,793.5 191.2,796.7 191.4,799.2 C191.6,801.7 193.3,803.7 195.2,805.6 C197.2,807.5 200.4,808.9 202.9,810.7 C205.5,812.5 208.5,814.3 210.6,816.5 C212.7,818.6 214.9,821.5 215.7,823.5 C216.6,825.5 215.9,826.5 215.7,828.6 C215.5,830.8 214.7,835.0 214.4,836.3" fill="none" stroke="#000" stroke-width="1.15"/>
<path d="M247.1,801.8 C247.4,802.3 248.6,803.9 249.0,805.0 C249.4,806.0 248.9,806.6 249.6,808.2 C250.4,809.8 252.3,812.4 253.5,814.6 C254.7,816.7 255.9,818.8 256.7,821.0 C257.4,823.1 258.2,824.8 258.0,827.4 C257.7,829.9 255.8,834.8 255.4,836.3" fill="none" stroke="#000" stroke-width="1.15"/>
<path d="M147.9,790.2 C149.6,789.6 154.1,789.7 156.8,790.0 C159.6,790.3 162.6,791.2 164.5,792.2 C166.4,793.2 168.0,794.6 168.4,796.0 C168.7,797.4 167.8,799.2 166.4,800.5 C165.1,801.8 162.3,803.3 160.0,803.7 C157.8,804.1 154.9,803.6 153.0,802.8 C151.1,801.9 149.6,800.0 148.5,798.6 C147.5,797.1 146.7,795.5 146.6,794.1 C146.5,792.7 146.2,790.9 147.9,790.2Z" fill="none" stroke="#000" stroke-width="1.15"/>
<path d="M188.8,836.3 C188.9,834.6 188.7,828.7 189.1,826.1 C189.5,823.4 190.1,821.6 191.4,820.3 C192.7,819.0 195.1,818.5 197.2,818.4 C199.2,818.3 201.9,819.0 203.6,819.9 C205.3,820.9 206.7,822.7 207.4,824.2 C208.1,825.6 207.9,826.6 207.8,828.6 C207.7,830.7 206.9,835.0 206.8,836.3" fill="none" stroke="#000" stroke-width="1.15" stroke-dasharray="4.3 1.9"/>
<path d="M544.1,670.0 C542.0,670.8 534.9,672.9 531.3,674.7 C527.7,676.6 524.7,678.8 522.4,681.1 C520.0,683.5 518.3,686.2 517.2,688.8 C516.2,691.4 516.2,693.7 516.0,696.5 C515.7,699.3 515.7,703.7 516.0,705.4 C516.2,707.2 516.4,705.5 517.2,707.1 C518.1,708.7 519.6,712.2 521.1,714.8 C522.6,717.3 524.1,720.0 526.2,722.5 C528.3,724.9 530.9,727.2 533.9,729.5 C536.9,731.9 540.5,734.4 544.1,736.5 C547.7,738.7 551.8,740.9 555.6,742.3 C559.5,743.7 563.3,744.5 567.2,744.9 C571.0,745.2 574.8,744.9 578.7,744.2 C582.5,743.6 586.6,742.6 590.2,741.0 C593.8,739.4 597.5,737.1 600.4,734.6 C603.4,732.2 606.2,729.2 608.1,726.3 C610.0,723.4 611.1,720.3 612.0,717.3 C612.8,714.4 613.3,711.4 613.2,708.4 C613.1,705.4 612.2,702.0 611.3,699.4 C610.5,696.9 609.5,695.2 608.1,693.0 C606.7,690.9 604.7,688.8 603.0,686.6 C601.3,684.5 598.7,681.3 597.9,680.2" fill="none" stroke="#000" stroke-width="1.15"/>
<path d="M174.7,708.3 C175.2,708.6 175.4,709.2 175.5,710.0 C175.5,710.8 175.3,711.9 174.9,713.0 C174.5,714.0 173.8,715.3 173.1,716.3 C172.4,717.3 171.4,718.4 170.6,719.1 C169.7,719.8 168.8,720.4 168.0,720.7 C167.3,720.9 166.5,720.9 166.1,720.5 C165.6,720.2 165.4,719.6 165.3,718.8 C165.3,718.0 165.5,716.9 165.9,715.8 C166.3,714.8 167.0,713.5 167.7,712.5 C168.4,711.5 169.4,710.4 170.2,709.7 C171.1,709.0 172.0,708.4 172.8,708.1 C173.5,707.9 174.3,707.9 174.7,708.3Z" fill="none" stroke="#000" stroke-width="1.15"/>
</g>
<text x="0" y="5" font-size="13.9" text-anchor="middle" transform="translate(223.4,159.3) rotate(-90)">0.002</text>
<text x="0" y="5" font-size="13.9" text-anchor="middle" transform="translate(250.9,252.6) rotate(90)">−0.002</text>
<text x="0" y="5" font-size="13.9" text-anchor="middle" transform="translate(279.8,354.8) rotate(22.5)">0.002</text>
<text x="0" y="5" font-size="13.9" text-anchor="middle" transform="translate(416.5,438.1) rotate(43.7)">0.002</text>
<text x="0" y="5" font-size="13.9" text-anchor="middle" transform="translate(182.0,552.7) rotate(72)">0.002</text>
<text x="0" y="5" font-size="13.9" text-anchor="middle" transform="translate(227.7,528.8) rotate(-50)">0.002</text>
<text x="0" y="5" font-size="13.9" text-anchor="middle" transform="translate(273.5,700.7) rotate(86)">−0.002</text>
<text x="0" y="5" font-size="13.9" text-anchor="middle" transform="translate(164.5,730.1) rotate(-53)">−0.002</text>
<text x="0" y="5" font-size="13.9" text-anchor="middle" transform="translate(231.1,784.5) rotate(46)">0.002</text>
<text x="0" y="5" font-size="13.9" text-anchor="middle" transform="translate(576.1,672.2) rotate(32.7)">0.002</text>
</g>
<rect x="0" y="0" width="761.6" height="856.1" fill="none" stroke="#000" stroke-width="1.6"/>
<line x1="-9.7" x2="0" y1="824.4" y2="824.4" stroke="#000" stroke-width="1.9"/>
<text x="-17.6" y="836.7" font-size="33.33" text-anchor="end">38°N</text>
<line x1="-9.7" x2="0" y1="665.9" y2="665.9" stroke="#000" stroke-width="1.9"/>
<text x="-17.6" y="678.2" font-size="33.33" text-anchor="end">39°N</text>
<line x1="-9.7" x2="0" y1="507.3" y2="507.3" stroke="#000" stroke-width="1.9"/>
<text x="-17.6" y="519.6" font-size="33.33" text-anchor="end">40°N</text>
<line x1="-9.7" x2="0" y1="348.8" y2="348.8" stroke="#000" stroke-width="1.9"/>
<text x="-17.6" y="361.1" font-size="33.33" text-anchor="end">41°N</text>
<line x1="-9.7" x2="0" y1="190.2" y2="190.2" stroke="#000" stroke-width="1.9"/>
<text x="-17.6" y="202.5" font-size="33.33" text-anchor="end">42°N</text>
<line x1="-9.7" x2="0" y1="31.7" y2="31.7" stroke="#000" stroke-width="1.9"/>
<text x="-17.6" y="44.0" font-size="33.33" text-anchor="end">43°N</text>
<line x1="158.6" x2="158.6" y1="856.1" y2="865.8000000000001" stroke="#000" stroke-width="1.9"/>
<text x="158.6" y="899.6" font-size="33.33" text-anchor="middle">17°E</text>
<line x1="317.2" x2="317.2" y1="856.1" y2="865.8000000000001" stroke="#000" stroke-width="1.9"/>
<text x="317.2" y="899.6" font-size="33.33" text-anchor="middle">18°E</text>
<line x1="475.9" x2="475.9" y1="856.1" y2="865.8000000000001" stroke="#000" stroke-width="1.9"/>
<text x="475.9" y="899.6" font-size="33.33" text-anchor="middle">19°E</text>
<line x1="634.5" x2="634.5" y1="856.1" y2="865.8000000000001" stroke="#000" stroke-width="1.9"/>
<text x="634.5" y="899.6" font-size="33.33" text-anchor="middle">20°E</text>
<rect x="19.7" y="23.8" width="67" height="53" fill="#fff" stroke="#000" stroke-width="2.4"/>
<text x="53.2" y="61.9" font-size="33.33" text-anchor="middle">(a)</text>
<text x="380.8" y="-14.0" font-size="40.2" text-anchor="middle">S INCREMENTS</text>
</g>
<rect x="135.0" y="991.0" width="692.6" height="38.4" fill="url(#seis)"/>
<path d="M99.4,1010.2 L135.6,991.0 L135.6,1029.4 Z" fill="#00004d"/>
<path d="M863.2,1010.2 L827.0,991.0 L827.0,1029.4 Z" fill="#800000"/>
<path d="M99.4,1010.2 L135.6,991.0 L827.0,991.0 L863.2,1010.2 L827.0,1029.4 L135.6,1029.4 Z" fill="none" stroke="#000" stroke-width="1.6" stroke-linejoin="miter"/>
<line x1="135.6" x2="135.6" y1="1029.4" y2="1039.1000000000001" stroke="#000" stroke-width="1.9"/>
<text x="0" y="6.8" font-size="24.5" text-anchor="middle" transform="translate(135.6,1093.5) rotate(-45)">−0.1500</text>
<line x1="222.0" x2="222.0" y1="1029.4" y2="1039.1000000000001" stroke="#000" stroke-width="1.9"/>
<text x="0" y="6.8" font-size="24.5" text-anchor="middle" transform="translate(222.0,1093.5) rotate(-45)">−0.1125</text>
<line x1="308.4" x2="308.4" y1="1029.4" y2="1039.1000000000001" stroke="#000" stroke-width="1.9"/>
<text x="0" y="6.8" font-size="24.5" text-anchor="middle" transform="translate(308.4,1093.5) rotate(-45)">−0.0750</text>
<line x1="394.9" x2="394.9" y1="1029.4" y2="1039.1000000000001" stroke="#000" stroke-width="1.9"/>
<text x="0" y="6.8" font-size="24.5" text-anchor="middle" transform="translate(394.9,1093.5) rotate(-45)">−0.0375</text>
<line x1="481.3" x2="481.3" y1="1029.4" y2="1039.1000000000001" stroke="#000" stroke-width="1.9"/>
<text x="0" y="6.8" font-size="24.5" text-anchor="middle" transform="translate(481.3,1086.3) rotate(-45)">0.0000</text>
<line x1="567.7" x2="567.7" y1="1029.4" y2="1039.1000000000001" stroke="#000" stroke-width="1.9"/>
<text x="0" y="6.8" font-size="24.5" text-anchor="middle" transform="translate(567.7,1086.3) rotate(-45)">0.0375</text>
<line x1="654.1" x2="654.1" y1="1029.4" y2="1039.1000000000001" stroke="#000" stroke-width="1.9"/>
<text x="0" y="6.8" font-size="24.5" text-anchor="middle" transform="translate(654.1,1086.3) rotate(-45)">0.0750</text>
<line x1="740.6" x2="740.6" y1="1029.4" y2="1039.1000000000001" stroke="#000" stroke-width="1.9"/>
<text x="0" y="6.8" font-size="24.5" text-anchor="middle" transform="translate(740.6,1086.3) rotate(-45)">0.1125</text>
<line x1="827.0" x2="827.0" y1="1029.4" y2="1039.1000000000001" stroke="#000" stroke-width="1.9"/>
<text x="0" y="6.8" font-size="24.5" text-anchor="middle" transform="translate(827.0,1086.3) rotate(-45)">0.1500</text>
<text x="481.4" y="1171.3" font-size="33.33" text-anchor="middle">psu</text>
<g transform="translate(917.9,45.6)">
<g clip-path="url(#pc)">
<rect x="0" y="0" width="761.6" height="856.1" fill="#fff"/>
<rect x="0" y="0" width="761.6" height="831.5" fill="#fcfcff"/>
<g clip-path="url(#dc)">
<ellipse rx="36.4" ry="28.6" fill="url(#g30)" transform="translate(252.2,121.1) rotate(-10)"/>
<ellipse rx="23.4" ry="20.8" fill="url(#g31)" transform="translate(241.7,172.7) rotate(0)"/>
<ellipse rx="39.0" ry="78.0" fill="url(#g32)" transform="translate(235.1,249.4) rotate(8)"/>
<ellipse rx="23.4" ry="31.2" fill="url(#g33)" transform="translate(242.1,216.4) rotate(0)"/>
<ellipse rx="33.8" ry="28.6" fill="url(#g34)" transform="translate(233.0,276.6) rotate(10)"/>
<ellipse rx="62.4" ry="44.2" fill="url(#g35)" transform="translate(288.1,320.4) rotate(15)"/>
<ellipse rx="41.6" ry="31.2" fill="url(#g36)" transform="translate(285.8,320.7) rotate(15)"/>
<ellipse rx="26.0" ry="10.4" fill="url(#g37)" transform="translate(284.5,346.3) rotate(20)"/>
<ellipse rx="54.6" ry="41.6" fill="url(#g38)" transform="translate(434.1,419.4) rotate(20)"/>
<ellipse rx="29.4" ry="28.1" fill="url(#g39)" transform="translate(422.9,417.8) rotate(20)"/>
<ellipse rx="78.0" ry="46.8" fill="url(#g40)" transform="translate(230.1,546.4) rotate(-25)"/>
<ellipse rx="52.0" ry="33.3" fill="url(#g41)" transform="translate(248.6,554.4) rotate(-25)"/>
<ellipse rx="39.0" ry="26.0" fill="url(#g42)" transform="translate(202.4,529.4) rotate(-40)"/>
<ellipse rx="28.6" ry="23.4" fill="url(#g43)" transform="translate(261.1,583.4) rotate(0)"/>
<ellipse rx="59.8" ry="44.2" fill="url(#g44)" transform="translate(310.1,702.4) rotate(25)"/>
<ellipse rx="41.6" ry="29.9" fill="url(#g45)" transform="translate(310.1,702.2) rotate(25)"/>
<ellipse rx="18.2" ry="15.6" fill="url(#g46)" transform="translate(344.7,688.2) rotate(40)"/>
<ellipse rx="49.4" ry="62.4" fill="url(#g47)" transform="translate(174.1,756.4) rotate(0)"/>
<ellipse rx="33.8" ry="36.4" fill="url(#g48)" transform="translate(172.7,753.2) rotate(0)"/>
<ellipse rx="15.6" ry="15.6" fill="url(#g49)" transform="translate(188.0,713.5) rotate(0)"/>
<ellipse rx="46.8" ry="41.6" fill="url(#g50)" transform="translate(221.3,821.2) rotate(0)"/>
<ellipse rx="31.2" ry="31.2" fill="url(#g51)" transform="translate(221.3,821.2) rotate(0)"/>
<ellipse rx="18.2" ry="10.4" fill="url(#g52)" transform="translate(212.1,780.4) rotate(-30)"/>
<ellipse rx="44.2" ry="27.3" fill="url(#g53)" transform="translate(555.2,695.8) rotate(5)"/>
<ellipse rx="41.6" ry="31.2" fill="url(#d36)" transform="translate(285.8,320.7) rotate(15)"/>
<ellipse rx="29.4" ry="28.1" fill="url(#d39)" transform="translate(422.9,417.8) rotate(20)"/>
<ellipse rx="52.0" ry="33.3" fill="url(#d41)" transform="translate(248.6,554.4) rotate(-25)"/>
<ellipse rx="41.6" ry="29.9" fill="url(#d45)" transform="translate(310.1,702.2) rotate(25)"/>
</g>
<use href="#coast"/>
<g clip-path="url(#dc)">
<path d="M216.3,112.8 C215.8,113.9 213.8,116.9 213.1,119.2 C212.5,121.5 212.0,124.5 212.2,126.9 C212.5,129.2 213.1,131.1 214.4,133.3 C215.7,135.4 217.7,137.8 220.2,139.7 C222.6,141.6 225.9,143.5 229.1,144.8 C232.3,146.1 236.0,147.0 239.4,147.6 C242.8,148.3 246.2,148.4 249.6,148.6 C253.0,148.9 256.7,149.3 259.9,148.9 C263.1,148.5 265.8,147.4 268.8,146.1 C271.8,144.8 275.2,142.9 277.8,141.0 C280.3,139.0 282.3,136.7 284.2,134.6 C286.1,132.4 288.0,130.5 289.3,128.2 C290.6,125.8 291.7,123.0 292.1,120.5 C292.5,117.9 292.4,115.4 291.9,112.8 C291.3,110.2 290.3,107.5 288.7,105.1 C287.1,102.8 284.7,100.4 282.3,98.7 C279.8,97.0 277.0,96.0 273.9,94.9 C270.8,93.8 265.4,92.5 263.7,92.1" fill="none" stroke="#000" stroke-width="1.15"/>
<path d="M217.4,173.0 C217.2,169.9 217.6,166.6 218.9,164.0 C220.2,161.4 222.7,159.3 225.3,157.6 C227.9,155.9 231.1,154.7 234.3,154.0 C237.5,153.3 241.1,153.1 244.5,153.5 C247.9,153.9 251.8,154.8 254.7,156.3 C257.7,157.9 260.5,160.2 262.4,162.7 C264.3,165.3 265.8,168.7 266.0,171.7 C266.2,174.7 265.2,178.0 263.7,180.6 C262.2,183.3 260.1,185.9 257.3,187.7 C254.5,189.4 250.5,190.5 247.1,191.1 C243.6,191.8 240.2,192.0 236.8,191.6 C233.4,191.3 229.4,190.5 226.6,189.0 C223.8,187.4 221.7,185.2 220.2,182.6 C218.6,179.9 217.6,176.1 217.4,173.0Z" fill="none" stroke="#000" stroke-width="1.15" stroke-dasharray="4.3 1.9"/>
<path d="M261.8,240.7 C261.9,239.2 261.8,235.0 262.4,231.8 C263.1,228.6 264.7,224.9 265.6,221.5 C266.6,218.1 267.8,214.1 268.2,211.3 C268.5,208.5 268.5,206.8 267.8,204.9 C267.0,203.0 265.9,201.1 263.7,199.8 C261.5,198.4 257.9,197.0 254.7,196.6 C251.5,196.1 247.9,196.6 244.5,196.9 C241.1,197.3 237.7,198.2 234.3,198.5 C230.8,198.8 226.7,197.9 224.0,198.7 C221.4,199.6 219.8,201.1 218.3,203.6 C216.8,206.1 216.7,210.6 215.1,213.8 C213.5,217.0 210.2,220.2 208.7,222.8 C207.2,225.4 206.4,226.0 206.1,229.2 C205.8,232.4 206.8,238.2 206.7,242.0 C206.6,245.8 206.4,249.3 205.5,252.2 C204.5,255.2 202.9,257.7 201.0,259.9 C199.1,262.2 195.8,263.3 193.9,265.7 C192.1,268.0 190.0,271.1 190.1,274.0 C190.2,276.9 192.6,279.8 194.6,283.0 C196.6,286.2 199.1,290.4 202.3,293.2 C205.5,296.0 209.9,298.0 213.8,299.6 C217.6,301.2 222.1,301.9 225.3,302.8 C228.5,303.7 230.5,304.9 233.2,304.7 C236.0,304.5 239.0,302.9 241.9,301.5 C244.9,300.1 247.9,298.2 250.9,296.4 C253.9,294.6 257.0,292.5 259.9,290.6 C262.7,288.8 266.3,287.0 268.2,285.5 C270.1,284.0 270.8,282.3 271.4,281.7" fill="none" stroke="#000" stroke-width="1.15"/>
<path d="M306.9,279.5 C305.3,279.2 300.6,278.1 297.3,277.8 C294.0,277.6 290.0,277.4 287.1,277.8 C284.1,278.3 281.7,279.0 279.4,280.4 C277.0,281.8 275.5,284.6 273.0,286.2 C270.4,287.8 267.0,288.5 264.0,290.0 C261.0,291.5 257.8,293.4 255.1,295.1 C252.3,296.8 249.6,298.3 247.4,300.2 C245.1,302.2 243.1,304.1 241.6,306.6 C240.1,309.2 238.6,312.8 238.4,315.6 C238.2,318.4 238.8,321.1 240.3,323.3 C241.8,325.4 244.7,327.0 247.4,328.4 C250.0,329.8 253.6,330.7 256.3,331.6 C259.1,332.5 261.0,332.8 264.0,333.5 C267.0,334.3 270.4,335.1 274.3,336.1 C278.1,337.0 283.2,338.0 287.1,339.3 C290.9,340.5 294.0,341.7 297.3,343.5 C300.6,345.3 304.1,348.7 306.9,350.2 C309.7,351.7 311.5,352.3 313.9,352.5 C316.4,352.7 319.1,352.5 321.6,351.4 C324.2,350.4 327.0,348.5 329.3,346.3 C331.6,344.2 333.9,341.2 335.7,338.6 C337.5,336.1 339.1,333.5 340.2,331.0 C341.3,328.4 341.9,325.2 342.4,323.3 C342.8,321.4 342.7,320.1 342.7,319.4" fill="none" stroke="#000" stroke-width="1.15" stroke-dasharray="4.3 1.9"/>
<path d="M249.9,336.1 C250.5,334.8 251.9,333.2 253.8,332.9 C255.7,332.6 258.5,333.6 261.5,334.2 C264.4,334.7 267.9,335.2 271.7,336.1 C275.5,336.9 280.2,337.9 284.5,339.3 C288.8,340.7 293.9,342.8 297.3,344.4 C300.7,346.0 303.5,347.5 305.0,348.9 C306.5,350.3 306.7,351.3 306.3,352.7 C305.8,354.1 304.3,356.0 302.4,357.2 C300.5,358.4 297.3,359.2 294.7,359.8 C292.2,360.3 289.6,360.9 287.1,360.7 C284.5,360.4 282.2,359.4 279.4,358.5 C276.6,357.6 273.0,356.7 270.4,355.3 C267.9,353.9 266.4,351.9 264.0,350.2 C261.7,348.5 258.6,346.6 256.3,345.0 C254.1,343.4 251.6,342.1 250.6,340.6 C249.5,339.1 249.4,337.4 249.9,336.1Z" fill="none" stroke="#000" stroke-width="1.15"/>
<path d="M386.4,410.7 C386.3,409.7 385.4,406.9 385.5,404.3 C385.6,401.8 386.2,398.3 387.1,395.4 C388.0,392.4 389.2,388.9 390.9,386.4 C392.6,383.9 394.7,382.2 397.3,380.6 C399.9,379.0 402.4,377.8 406.3,376.8 C410.1,375.8 416.3,375.0 420.3,374.9 C424.4,374.8 427.2,375.3 430.6,376.2 C434.0,377.0 437.4,378.3 440.8,380.0 C444.2,381.7 447.4,384.1 451.1,386.4 C454.7,388.7 459.0,391.7 462.6,394.1 C466.2,396.4 469.8,398.1 472.8,400.5 C475.8,402.8 478.3,405.6 480.5,408.2 C482.7,410.7 485.0,413.3 486.3,415.8 C487.5,418.4 488.0,421.0 487.9,423.5 C487.8,426.1 487.1,428.7 485.6,431.2 C484.2,433.7 481.8,436.0 479.2,438.2 C476.7,440.5 473.7,442.7 470.3,444.6 C466.8,446.6 462.8,448.5 458.7,449.8 C454.7,451.0 449.8,452.0 445.9,452.3 C442.1,452.6 439.1,452.2 435.7,451.7 C432.3,451.1 428.4,450.2 425.5,449.1 C422.5,448.1 419.1,445.9 417.8,445.3" fill="none" stroke="#000" stroke-width="1.15"/>
<path d="M235.7,596.6 C237.0,597.1 241.0,598.2 243.4,599.2 C245.7,600.2 247.6,601.9 249.8,602.4 C251.9,602.9 253.8,602.7 256.2,602.4 C258.5,602.1 261.3,601.2 263.9,600.5 C266.4,599.7 269.4,599.1 271.5,597.9 C273.7,596.7 274.7,594.8 276.7,593.4 C278.6,592.1 280.9,590.9 283.1,589.6 C285.2,588.3 288.0,587.3 289.5,585.8 C291.0,584.3 291.6,582.3 292.0,580.6 C292.4,578.9 291.4,577.2 292.0,575.5 C292.7,573.8 294.8,572.1 295.9,570.4 C296.9,568.7 298.2,567.6 298.4,565.3 C298.6,562.9 297.8,559.3 297.1,556.3 C296.5,553.3 295.6,550.1 294.6,547.4 C293.5,544.6 292.4,542.2 290.7,539.7 C289.0,537.1 286.0,534.6 284.3,532.0 C282.6,529.4 282.2,526.7 280.5,524.3 C278.8,522.0 276.4,519.5 274.1,517.9 C271.8,516.3 269.2,515.4 266.4,514.7 C263.6,514.0 260.7,514.1 257.5,513.8 C254.3,513.5 250.4,513.4 247.2,512.8 C244.0,512.2 241.0,511.5 238.3,510.2 C235.5,509.0 233.1,506.9 230.6,505.1 C228.0,503.3 225.5,500.7 222.9,499.4 C220.3,498.0 217.8,497.1 215.2,496.8 C212.7,496.5 210.1,496.8 207.5,497.4 C205.0,498.1 202.4,499.4 199.9,500.6 C197.3,501.9 194.7,503.4 192.2,505.1 C189.6,506.8 187.1,509.0 184.5,510.9 C181.9,512.8 179.0,514.6 176.8,516.6 C174.7,518.7 172.9,520.7 171.7,523.0 C170.5,525.4 170.3,528.2 169.8,530.7 C169.2,533.3 169.0,536.3 168.5,538.4 C168.0,540.5 166.8,541.6 166.6,543.5 C166.4,545.4 166.4,547.8 167.2,549.9 C168.1,552.1 170.1,554.4 171.7,556.3 C173.3,558.2 175.3,560.1 176.8,561.4 C178.3,562.8 180.0,564.1 180.7,564.6" fill="none" stroke="#000" stroke-width="1.15" stroke-dasharray="4.3 1.9"/>
<path d="M171.7,511.5 C171.5,510.6 171.5,508.1 172.3,506.4 C173.2,504.7 175.0,502.7 176.8,501.3 C178.6,499.9 180.9,498.8 183.2,498.1 C185.6,497.4 189.1,497.1 190.9,497.2 C192.7,497.3 194.1,497.7 194.1,498.7 C194.1,499.7 192.5,501.7 190.9,503.2 C189.3,504.7 186.6,506.7 184.5,507.9 C182.4,509.2 179.9,510.2 178.1,510.9 C176.3,511.6 174.7,512.1 173.6,512.2 C172.6,512.3 171.9,512.5 171.7,511.5Z" fill="none" stroke="#000" stroke-width="1.15"/>
<path d="M280.7,665.4 C281.9,665.0 285.6,663.6 288.3,663.2 C291.1,662.8 294.3,662.6 297.3,662.8 C300.3,663.0 303.5,663.7 306.3,664.5 C309.0,665.2 312.0,666.5 313.9,667.4 C315.9,668.4 316.1,668.3 317.8,670.2 C319.5,672.2 322.0,676.4 324.2,679.2 C326.3,682.0 328.2,684.3 330.6,686.9 C332.9,689.4 335.7,692.0 338.3,694.6 C340.8,697.1 343.9,699.7 345.9,702.2 C348.0,704.8 349.5,707.6 350.4,709.9 C351.3,712.3 351.6,714.2 351.3,716.3 C351.0,718.5 350.0,720.8 348.5,722.7 C347.0,724.6 344.7,725.7 342.1,727.8 C339.5,730.0 336.1,733.4 333.1,735.5 C330.2,737.7 327.2,739.4 324.2,740.6 C321.2,741.9 318.2,742.8 315.2,743.2 C312.2,743.6 309.2,743.6 306.3,743.2 C303.3,742.8 300.3,741.9 297.3,740.6 C294.3,739.4 291.3,737.3 288.3,735.5 C285.4,733.7 282.4,731.6 279.4,729.8 C276.4,727.9 272.8,726.5 270.4,724.6 C268.1,722.8 266.5,721.1 265.3,718.9 C264.1,716.6 263.7,712.5 263.4,711.2" fill="none" stroke="#000" stroke-width="1.15" stroke-dasharray="4.3 1.9"/>
<path d="M355.5,680.7 C356.5,681.5 359.6,683.6 361.3,685.6 C363.0,687.6 364.8,690.2 365.8,692.6 C366.8,695.1 367.6,698.1 367.4,700.3 C367.3,702.6 366.5,704.0 365.1,706.1 C363.8,708.1 361.3,712.3 359.4,712.7 C357.5,713.2 355.4,710.1 353.6,708.6 C351.8,707.2 350.2,705.9 348.5,704.2 C346.8,702.5 345.1,700.2 343.4,698.4 C341.7,696.6 340.0,695.0 338.3,693.3 C336.6,691.6 334.8,690.1 333.1,688.2 C331.4,686.2 329.7,683.7 328.0,681.8 C326.3,679.8 323.8,677.5 322.9,676.6" fill="none" stroke="#000" stroke-width="1.15"/>
<path d="M338.9,740.4 C338.7,739.0 339.6,735.3 340.8,733.0 C342.0,730.7 343.8,728.3 345.9,726.6 C348.1,724.9 351.4,723.0 353.6,722.7 C355.9,722.4 358.5,723.4 359.4,724.6 C360.2,725.9 359.7,728.5 358.7,730.4 C357.8,732.3 355.5,734.6 353.6,736.2 C351.7,737.8 349.1,739.1 347.2,740.0 C345.3,740.9 343.5,741.2 342.1,741.3 C340.7,741.3 339.1,741.8 338.9,740.4Z" fill="none" stroke="#000" stroke-width="1.15"/>
<path d="M160.5,725.0 C158.9,726.1 153.8,729.3 150.9,731.4 C148.0,733.6 145.2,735.7 143.2,737.8 C141.2,740.0 139.5,741.7 138.7,744.2 C138.0,746.8 139.0,750.2 138.7,753.2 C138.5,756.2 137.6,759.4 137.5,762.2 C137.4,764.9 138.5,767.3 138.1,769.8 C137.7,772.4 135.7,774.9 134.9,777.5 C134.1,780.1 133.1,782.5 133.2,785.3 C133.3,788.1 134.3,791.7 135.5,794.3 C136.8,796.8 138.3,798.8 140.7,800.7 C143.0,802.6 146.4,804.4 149.6,805.6 C152.8,806.7 156.7,807.2 159.9,807.7 C163.1,808.3 165.9,808.6 168.8,809.0 C171.7,809.4 176.0,808.9 177.1,810.3 C178.3,811.7 176.4,814.9 175.9,817.3 C175.3,819.8 174.8,821.8 173.9,825.0 C173.1,828.2 171.3,834.5 170.7,836.4" fill="none" stroke="#000" stroke-width="1.15" stroke-dasharray="4.3 1.9"/>
<path d="M200.2,703.9 C201.6,705.3 206.8,708.9 208.5,712.2 C210.2,715.5 209.1,720.3 210.4,723.8 C211.7,727.2 214.2,729.7 216.2,732.7 C218.2,735.7 220.6,738.9 222.6,741.7 C224.6,744.5 227.1,746.8 228.3,749.4 C229.6,751.9 230.2,754.7 230.0,757.0 C229.8,759.4 228.7,761.7 227.1,763.6 C225.4,765.4 223.1,766.7 220.0,768.0 C216.9,769.4 211.9,770.3 208.5,771.9 C205.1,773.5 201.9,775.6 199.5,777.6 C197.2,779.7 195.6,781.7 194.4,784.0 C193.2,786.4 193.1,789.8 192.5,791.7 C191.9,793.6 190.6,794.1 190.6,795.6 C190.6,797.1 191.0,800.2 192.5,800.7 C194.0,801.2 196.9,799.6 199.5,798.8 C202.2,797.9 205.7,796.7 208.5,795.6 C211.3,794.4 213.6,792.9 216.2,791.7 C218.7,790.6 220.9,789.3 223.9,788.5 C226.8,787.7 230.9,787.0 234.1,786.9 C237.3,786.7 240.3,786.9 243.1,787.6 C245.8,788.3 248.6,789.3 250.7,791.1 C252.9,792.8 254.6,795.7 255.9,798.1 C257.1,800.6 257.2,803.0 258.4,805.8 C259.6,808.6 261.9,812.0 262.9,814.8 C263.9,817.5 264.0,820.3 264.2,822.4 C264.4,824.6 264.6,825.2 264.2,827.6 C263.8,829.9 262.0,834.9 261.6,836.4" fill="none" stroke="#000" stroke-width="1.15" stroke-dasharray="4.3 1.9"/>
<path d="M157.3,716.1 C157.4,713.9 158.3,710.6 159.9,709.0 C161.5,707.4 164.6,706.4 166.9,706.5 C169.2,706.6 172.4,708.1 173.9,709.7 C175.5,711.3 176.5,714.1 176.2,716.1 C176.0,718.1 174.5,720.5 172.7,721.8 C170.8,723.2 167.2,724.4 165.0,724.4 C162.7,724.4 160.5,723.2 159.2,721.8 C157.9,720.5 157.2,718.2 157.3,716.1Z" fill="none" stroke="#000" stroke-width="1.15"/>
<path d="M197.0,790.5 C197.0,789.1 196.8,787.2 197.6,785.4 C198.5,783.5 200.1,781.3 202.1,779.6 C204.1,777.9 207.2,776.1 209.8,775.1 C212.3,774.1 214.9,773.8 217.5,773.6 C220.0,773.4 223.0,773.3 225.1,773.8 C227.3,774.4 229.4,775.9 230.3,777.0 C231.1,778.2 230.6,779.6 230.0,780.9 C229.4,782.2 228.1,783.5 226.4,784.7 C224.8,785.9 222.2,786.7 220.0,787.9 C217.9,789.1 215.8,790.7 213.6,791.8 C211.5,792.9 209.2,793.9 207.2,794.6 C205.2,795.2 203.1,795.7 201.5,795.6 C199.9,795.5 198.4,794.5 197.6,793.7 C196.9,792.8 197.0,791.9 197.0,790.5Z" fill="none" stroke="#000" stroke-width="1.15"/>
<path d="M513.0,701.6 C512.6,700.4 510.7,697.2 510.4,694.6 C510.1,691.9 510.2,688.4 511.1,685.6 C511.9,682.8 513.5,680.4 515.5,677.9 C517.6,675.5 520.4,672.9 523.2,670.9 C526.0,668.9 529.2,667.2 532.2,665.8 C535.2,664.3 537.9,663.0 541.1,662.3 C544.3,661.6 548.0,661.4 551.4,661.5 C554.8,661.7 558.2,662.3 561.6,663.2 C565.0,664.1 568.7,665.4 571.9,667.0 C575.1,668.6 577.8,670.6 580.8,672.8 C583.8,675.0 587.0,677.7 589.8,680.5 C592.6,683.3 595.4,686.5 597.5,689.4 C599.5,692.4 601.1,695.6 601.9,698.4 C602.8,701.2 603.0,703.5 602.6,706.1 C602.2,708.6 600.8,711.8 599.4,713.8 C598.0,715.7 596.5,717.2 594.3,717.9 C592.0,718.5 589.0,718.0 585.9,717.6 C582.8,717.2 577.4,716.0 575.7,715.7" fill="none" stroke="#000" stroke-width="1.15" stroke-dasharray="4.3 1.9"/>
<path d="M555.2,729.1 C555.0,727.9 555.4,725.6 556.5,724.0 C557.6,722.4 559.5,720.5 561.6,719.5 C563.8,718.5 567.0,718.0 569.3,717.9 C571.6,717.7 574.2,718.1 575.7,718.9 C577.2,719.7 578.0,721.3 578.3,722.7 C578.5,724.1 578.3,725.9 577.0,727.2 C575.7,728.5 572.9,729.9 570.6,730.7 C568.2,731.4 565.0,731.9 562.9,731.9 C560.8,732.0 559.1,731.5 557.8,731.0 C556.5,730.6 555.4,730.3 555.2,729.1Z" fill="none" stroke="#000" stroke-width="1.15"/>
</g>
<text x="0" y="5" font-size="13.9" text-anchor="middle" transform="translate(234.3,97.2) rotate(-35)">0.002</text>
<text x="0" y="5" font-size="13.9" text-anchor="middle" transform="translate(270.7,261.8) rotate(72.7)">0.002</text>
<text x="0" y="5" font-size="13.9" text-anchor="middle" transform="translate(338.9,295.8) rotate(58.3)">−0.002</text>
<text x="0" y="5" font-size="13.9" text-anchor="middle" transform="translate(397.9,429.9) rotate(55.3)">0.002</text>
<text x="0" y="5" font-size="13.9" text-anchor="middle" transform="translate(212.0,578.7) rotate(41)">−0.002</text>
<text x="0" y="5" font-size="13.9" text-anchor="middle" transform="translate(262.1,687.5) rotate(-73)">−0.002</text>
<text x="0" y="5" font-size="13.9" text-anchor="middle" transform="translate(330.6,669.2) rotate(-28)">0.002</text>
<text x="0" y="5" font-size="13.9" text-anchor="middle" transform="translate(175.2,704.6) rotate(-49)">−0.002</text>
<text x="0" y="5" font-size="13.9" text-anchor="middle" transform="translate(536.7,719.9) rotate(19)">−0.002</text>
</g>
<rect x="0" y="0" width="761.6" height="856.1" fill="none" stroke="#000" stroke-width="1.6"/>
<line x1="-9.7" x2="0" y1="824.4" y2="824.4" stroke="#000" stroke-width="1.9"/>
<line x1="-9.7" x2="0" y1="665.9" y2="665.9" stroke="#000" stroke-width="1.9"/>
<line x1="-9.7" x2="0" y1="507.3" y2="507.3" stroke="#000" stroke-width="1.9"/>
<line x1="-9.7" x2="0" y1="348.8" y2="348.8" stroke="#000" stroke-width="1.9"/>
<line x1="-9.7" x2="0" y1="190.2" y2="190.2" stroke="#000" stroke-width="1.9"/>
<line x1="-9.7" x2="0" y1="31.7" y2="31.7" stroke="#000" stroke-width="1.9"/>
<line x1="158.6" x2="158.6" y1="856.1" y2="865.8000000000001" stroke="#000" stroke-width="1.9"/>
<text x="158.6" y="899.6" font-size="33.33" text-anchor="middle">17°E</text>
<line x1="317.2" x2="317.2" y1="856.1" y2="865.8000000000001" stroke="#000" stroke-width="1.9"/>
<text x="317.2" y="899.6" font-size="33.33" text-anchor="middle">18°E</text>
<line x1="475.9" x2="475.9" y1="856.1" y2="865.8000000000001" stroke="#000" stroke-width="1.9"/>
<text x="475.9" y="899.6" font-size="33.33" text-anchor="middle">19°E</text>
<line x1="634.5" x2="634.5" y1="856.1" y2="865.8000000000001" stroke="#000" stroke-width="1.9"/>
<text x="634.5" y="899.6" font-size="33.33" text-anchor="middle">20°E</text>
<rect x="19.7" y="23.8" width="67" height="53" fill="#fff" stroke="#000" stroke-width="2.4"/>
<text x="53.2" y="61.9" font-size="33.33" text-anchor="middle">(b)</text>
<text x="380.8" y="-14.0" font-size="40.2" text-anchor="middle">T INCREMENTS</text>
</g>
<rect x="952.3" y="991.0" width="692.6" height="38.4" fill="url(#seis)"/>
<path d="M916.7,1010.2 L952.9,991.0 L952.9,1029.4 Z" fill="#00004d"/>
<path d="M1680.5,1010.2 L1644.3,991.0 L1644.3,1029.4 Z" fill="#800000"/>
<path d="M916.7,1010.2 L952.9,991.0 L1644.3,991.0 L1680.5,1010.2 L1644.3,1029.4 L952.9,1029.4 Z" fill="none" stroke="#000" stroke-width="1.6" stroke-linejoin="miter"/>
<line x1="952.9" x2="952.9" y1="1029.4" y2="1039.1000000000001" stroke="#000" stroke-width="1.9"/>
<text x="0" y="6.8" font-size="24.5" text-anchor="middle" transform="translate(952.9,1082.5) rotate(-45)">−1.00</text>
<line x1="1039.3" x2="1039.3" y1="1029.4" y2="1039.1000000000001" stroke="#000" stroke-width="1.9"/>
<text x="0" y="6.8" font-size="24.5" text-anchor="middle" transform="translate(1039.3,1082.5) rotate(-45)">−0.75</text>
<line x1="1125.8" x2="1125.8" y1="1029.4" y2="1039.1000000000001" stroke="#000" stroke-width="1.9"/>
<text x="0" y="6.8" font-size="24.5" text-anchor="middle" transform="translate(1125.8,1082.5) rotate(-45)">−0.50</text>
<line x1="1212.2" x2="1212.2" y1="1029.4" y2="1039.1000000000001" stroke="#000" stroke-width="1.9"/>
<text x="0" y="6.8" font-size="24.5" text-anchor="middle" transform="translate(1212.2,1082.5) rotate(-45)">−0.25</text>
<line x1="1298.6" x2="1298.6" y1="1029.4" y2="1039.1000000000001" stroke="#000" stroke-width="1.9"/>
<text x="0" y="6.8" font-size="24.5" text-anchor="middle" transform="translate(1298.6,1075.3) rotate(-45)">0.00</text>
<line x1="1385.0" x2="1385.0" y1="1029.4" y2="1039.1000000000001" stroke="#000" stroke-width="1.9"/>
<text x="0" y="6.8" font-size="24.5" text-anchor="middle" transform="translate(1385.0,1075.3) rotate(-45)">0.25</text>
<line x1="1471.4" x2="1471.4" y1="1029.4" y2="1039.1000000000001" stroke="#000" stroke-width="1.9"/>
<text x="0" y="6.8" font-size="24.5" text-anchor="middle" transform="translate(1471.4,1075.3) rotate(-45)">0.50</text>
<line x1="1557.9" x2="1557.9" y1="1029.4" y2="1039.1000000000001" stroke="#000" stroke-width="1.9"/>
<text x="0" y="6.8" font-size="24.5" text-anchor="middle" transform="translate(1557.9,1075.3) rotate(-45)">0.75</text>
<line x1="1644.3" x2="1644.3" y1="1029.4" y2="1039.1000000000001" stroke="#000" stroke-width="1.9"/>
<text x="0" y="6.8" font-size="24.5" text-anchor="middle" transform="translate(1644.3,1075.3) rotate(-45)">1.00</text>
<text x="1298.7" y="1150.2" font-size="33.33" text-anchor="middle">deg C</text>
<g transform="translate(1735.2,45.6)">
<g clip-path="url(#pc)">
<rect x="0" y="0" width="761.6" height="856.1" fill="#fff"/>
<rect x="0" y="0" width="761.6" height="831.5" fill="#fffdfd"/>
<g clip-path="url(#dc)">
<ellipse rx="57.2" ry="85.8" fill="url(#g54)" transform="translate(246.8,148.4) rotate(0)"/>
<ellipse rx="46.8" ry="37.7" fill="url(#g55)" transform="translate(249.0,125.6) rotate(0)"/>
<ellipse rx="45.5" ry="37.7" fill="url(#g56)" transform="translate(244.5,171.7) rotate(0)"/>
<ellipse rx="53.3" ry="80.6" fill="url(#g57)" transform="translate(238.8,244.4) rotate(0)"/>
<ellipse rx="42.9" ry="35.1" fill="url(#g58)" transform="translate(243.8,213.8) rotate(10)"/>
<ellipse rx="31.2" ry="33.8" fill="url(#g59)" transform="translate(235.8,238.4) rotate(0)"/>
<ellipse rx="44.2" ry="35.1" fill="url(#g60)" transform="translate(236.2,275.9) rotate(-10)"/>
<ellipse rx="31.2" ry="23.4" fill="url(#g61)" transform="translate(304.0,303.4) rotate(25)"/>
<ellipse rx="23.4" ry="13.0" fill="url(#g62)" transform="translate(286.1,306.6) rotate(0)"/>
<ellipse rx="57.2" ry="33.8" fill="url(#g63)" transform="translate(283.8,334.4) rotate(22)"/>
<ellipse rx="42.9" ry="22.6" fill="url(#g64)" transform="translate(282.9,334.3) rotate(22)"/>
<ellipse rx="57.2" ry="46.8" fill="url(#g65)" transform="translate(435.8,420.4) rotate(20)"/>
<ellipse rx="42.9" ry="33.0" fill="url(#g66)" transform="translate(435.7,420.3) rotate(20)"/>
<ellipse rx="54.6" ry="62.4" fill="url(#g67)" transform="translate(194.8,528.4) rotate(8)"/>
<ellipse rx="45.5" ry="61.1" fill="url(#g68)" transform="translate(197.8,530.4) rotate(8)"/>
<ellipse rx="57.2" ry="39.0" fill="url(#g69)" transform="translate(252.8,552.4) rotate(-30)"/>
<ellipse rx="45.8" ry="30.4" fill="url(#g70)" transform="translate(251.4,553.0) rotate(-30)"/>
<ellipse rx="72.8" ry="57.2" fill="url(#g71)" transform="translate(321.8,702.4) rotate(25)"/>
<ellipse rx="55.4" ry="41.1" fill="url(#g72)" transform="translate(321.0,702.2) rotate(25)"/>
<ellipse rx="62.4" ry="78.0" fill="url(#g73)" transform="translate(174.8,754.4) rotate(10)"/>
<ellipse rx="44.2" ry="39.0" fill="url(#g74)" transform="translate(172.6,751.0) rotate(0)"/>
<ellipse rx="41.6" ry="39.0" fill="url(#g75)" transform="translate(167.8,780.4) rotate(0)"/>
<ellipse rx="24.7" ry="13.0" fill="url(#g76)" transform="translate(186.6,710.0) rotate(54)"/>
<ellipse rx="33.8" ry="33.8" fill="url(#g77)" transform="translate(202.0,748.4) rotate(0)"/>
<ellipse rx="11.7" ry="13.0" fill="url(#g78)" transform="translate(168.5,714.9) rotate(0)"/>
<ellipse rx="70.2" ry="70.2" fill="url(#g79)" transform="translate(219.8,812.4) rotate(0)"/>
<ellipse rx="55.9" ry="57.2" fill="url(#g80)" transform="translate(220.3,815.4) rotate(0)"/>
<ellipse rx="62.4" ry="46.8" fill="url(#g81)" transform="translate(559.8,707.4) rotate(18)"/>
<ellipse rx="48.1" ry="34.6" fill="url(#g82)" transform="translate(560.0,707.8) rotate(18)"/>
<ellipse rx="46.8" ry="37.7" fill="url(#d55)" transform="translate(249.0,125.6) rotate(0)"/>
<ellipse rx="45.5" ry="37.7" fill="url(#d56)" transform="translate(244.5,171.7) rotate(0)"/>
<ellipse rx="42.9" ry="35.1" fill="url(#d58)" transform="translate(243.8,213.8) rotate(10)"/>
<ellipse rx="44.2" ry="35.1" fill="url(#d60)" transform="translate(236.2,275.9) rotate(-10)"/>
<ellipse rx="42.9" ry="22.6" fill="url(#d64)" transform="translate(282.9,334.3) rotate(22)"/>
<ellipse rx="45.5" ry="61.1" fill="url(#d68)" transform="translate(197.8,530.4) rotate(8)"/>
<ellipse rx="45.8" ry="30.4" fill="url(#d70)" transform="translate(251.4,553.0) rotate(-30)"/>
<ellipse rx="55.4" ry="41.1" fill="url(#d72)" transform="translate(321.0,702.2) rotate(25)"/>
<ellipse rx="44.2" ry="39.0" fill="url(#d74)" transform="translate(172.6,751.0) rotate(0)"/>
<ellipse rx="41.6" ry="39.0" fill="url(#d75)" transform="translate(167.8,780.4) rotate(0)"/>
<ellipse rx="24.7" ry="13.0" fill="url(#d76)" transform="translate(186.6,710.0) rotate(54)"/>
<ellipse rx="55.9" ry="57.2" fill="url(#d80)" transform="translate(220.3,815.4) rotate(0)"/>
</g>
<use href="#coast"/>
<g clip-path="url(#dc)">
<path d="M279.7,153.8 C279.5,152.5 278.2,148.9 278.4,146.1 C278.6,143.3 279.9,140.1 281.0,137.1 C282.0,134.1 283.8,131.1 284.8,128.2 C285.8,125.2 286.5,122.0 286.7,119.2 C286.9,116.4 286.7,114.1 285.8,111.5 C285.0,109.0 283.5,106.0 281.6,103.8 C279.7,101.7 277.2,100.1 274.6,98.7 C271.9,97.3 268.6,96.3 265.6,95.5 C262.6,94.8 259.8,94.2 256.6,94.2 C253.4,94.2 249.8,94.8 246.4,95.5 C243.0,96.3 239.6,97.2 236.2,98.7 C232.7,100.2 229.1,102.1 225.9,104.5 C222.7,106.8 219.3,109.9 217.0,112.8 C214.6,115.7 213.1,118.6 211.8,121.8 C210.6,125.0 209.7,128.8 209.5,132.0 C209.4,135.2 210.2,138.0 210.8,141.0 C211.4,143.9 212.9,147.1 213.1,149.9 C213.3,152.7 212.7,154.8 211.8,157.6 C211.0,160.4 208.9,163.6 208.0,166.6 C207.1,169.5 206.5,172.5 206.5,175.5 C206.5,178.5 206.9,182.0 208.0,184.5 C209.1,186.9 210.8,188.9 213.1,190.2 C215.5,191.6 218.7,192.2 222.1,192.8 C225.5,193.4 230.0,193.9 233.6,194.1 C237.2,194.2 241.3,193.8 243.8,193.7 C246.4,193.5 248.1,193.3 249.0,193.2" fill="none" stroke="#000" stroke-width="1.15" stroke-dasharray="4.3 1.9"/>
<path d="M198.4,233.7 C198.3,232.1 197.2,227.4 197.8,224.1 C198.3,220.8 200.1,217.0 201.6,213.8 C203.1,210.6 204.8,207.5 206.7,204.9 C208.6,202.2 211.0,199.4 213.1,197.8 C215.3,196.3 217.2,196.0 219.5,195.7 C221.9,195.3 224.4,195.8 227.2,195.9 C230.0,196.1 233.0,196.7 236.2,196.6 C239.4,196.5 243.4,195.6 246.4,195.3 C249.4,195.0 251.5,195.0 254.1,194.9 C256.6,194.7 259.4,194.3 261.8,194.4 C264.1,194.5 266.0,194.9 268.2,195.7 C270.3,196.5 273.0,197.6 274.6,199.1 C276.2,200.7 277.1,202.6 277.8,204.9 C278.4,207.1 278.8,210.0 278.7,212.6 C278.5,215.1 278.0,217.7 277.1,220.2 C276.2,222.8 274.6,225.4 273.3,227.9 C272.0,230.5 270.5,233.0 269.4,235.6 C268.4,238.2 267.7,241.1 266.9,243.3 C266.1,245.4 264.9,246.6 264.6,248.4 C264.3,250.2 264.4,252.2 265.0,254.2 C265.6,256.1 267.0,258.1 268.2,259.9 C269.3,261.7 271.0,263.1 272.0,265.0 C273.0,267.0 273.8,268.7 274.3,271.4 C274.8,274.2 275.0,278.5 274.8,281.7 C274.6,284.9 274.2,288.1 273.3,290.6 C272.4,293.2 271.4,295.3 269.4,297.0 C267.5,298.7 265.0,300.0 261.8,300.9 C258.6,301.8 254.7,302.2 250.2,302.4 C245.8,302.6 239.6,302.8 234.9,302.2 C230.2,301.5 225.9,299.8 222.1,298.3 C218.2,296.8 214.8,295.1 211.8,293.2 C208.9,291.3 206.5,289.0 204.2,286.8 C201.8,284.6 199.5,281.9 197.8,279.8 C196.1,277.6 194.6,275.0 193.9,274.0" fill="none" stroke="#000" stroke-width="1.15"/>
<path d="M273.9,307.9 C273.8,306.9 274.5,304.5 276.5,303.7 C278.5,302.8 283.1,303.1 286.1,302.8 C289.1,302.5 292.5,301.5 294.4,301.9 C296.3,302.3 297.3,304.1 297.6,305.4 C297.9,306.6 297.3,308.0 296.3,309.2 C295.4,310.4 294.0,312.1 291.8,312.4 C289.7,312.7 286.0,311.5 283.5,311.1 C281.1,310.7 278.7,310.4 277.1,309.8 C275.5,309.3 274.0,308.9 273.9,307.9Z" fill="none" stroke="#000" stroke-width="1.15"/>
<path d="M254.1,329.2 C254.2,327.3 254.6,324.6 256.0,322.8 C257.4,321.0 259.8,319.5 262.4,318.3 C265.0,317.1 268.4,316.1 271.4,315.8 C274.3,315.4 277.3,315.7 280.3,316.1 C283.3,316.6 286.1,317.2 289.3,318.3 C292.5,319.4 296.3,321.1 299.5,322.8 C302.7,324.5 306.0,326.5 308.5,328.6 C310.9,330.6 313.0,332.9 314.2,335.0 C315.5,337.0 316.3,338.8 316.2,340.7 C316.1,342.6 315.1,344.8 313.6,346.5 C312.1,348.2 309.8,349.8 307.2,351.0 C304.6,352.1 301.4,352.8 298.2,353.3 C295.0,353.7 291.4,354.0 288.0,353.5 C284.6,353.0 281.2,351.6 277.8,350.3 C274.3,349.0 270.5,347.7 267.5,345.8 C264.5,344.0 261.9,341.4 259.8,339.4 C257.8,337.5 256.3,336.0 255.4,334.3 C254.4,332.6 254.0,331.1 254.1,329.2Z" fill="none" stroke="#000" stroke-width="1.15" stroke-dasharray="4.3 1.9"/>
<path d="M409.8,409.4 C410.1,407.4 411.1,405.3 412.6,403.7 C414.2,402.1 416.7,400.7 419.0,399.8 C421.4,399.0 423.9,398.6 426.7,398.6 C429.5,398.6 432.7,399.1 435.7,399.8 C438.7,400.5 441.9,401.5 444.6,402.8 C447.4,404.1 450.0,405.8 452.3,407.5 C454.7,409.3 457.0,411.3 458.7,413.3 C460.4,415.3 461.8,417.5 462.6,419.7 C463.3,421.8 463.6,423.9 463.2,426.1 C462.8,428.2 461.6,430.5 460.0,432.5 C458.4,434.5 456.2,436.7 453.6,438.2 C451.0,439.8 447.8,441.3 444.6,441.7 C441.4,442.1 437.4,441.5 434.4,440.8 C431.4,440.1 428.9,438.9 426.7,437.6 C424.6,436.3 423.5,434.6 421.6,433.1 C419.7,431.6 416.9,430.5 415.2,428.6 C413.5,426.8 412.1,424.4 411.4,422.2 C410.6,420.1 411.0,418.0 410.7,415.8 C410.5,413.7 409.5,411.5 409.8,409.4Z" fill="none" stroke="#000" stroke-width="1.15" stroke-dasharray="4.3 1.9"/>
<path d="M168.2,549.8 C168.0,548.6 167.6,545.2 167.0,542.7 C166.3,540.3 165.5,537.6 164.4,535.0 C163.3,532.5 161.4,529.9 160.6,527.4 C159.7,524.8 159.4,521.8 159.3,519.7 C159.2,517.5 159.1,516.3 159.9,514.6 C160.8,512.9 162.8,511.3 164.4,509.4 C166.0,507.6 167.4,505.5 169.5,503.7 C171.7,501.9 174.4,500.2 177.2,498.6 C180.0,497.0 183.0,495.2 186.2,494.1 C189.4,492.9 193.0,492.2 196.4,491.8 C199.8,491.3 203.4,491.1 206.6,491.3 C209.8,491.4 212.8,491.9 215.6,492.8 C218.4,493.7 221.1,495.0 223.3,496.6 C225.4,498.2 226.8,500.3 228.4,502.4 C230.0,504.5 231.7,507.0 232.9,509.4 C234.1,511.9 235.0,514.6 235.4,517.1 C235.9,519.7 235.8,522.5 235.4,524.8 C235.1,527.1 234.6,528.9 233.5,531.2 C232.5,533.5 230.7,535.9 229.0,538.9 C227.3,541.9 224.9,546.1 223.3,549.1 C221.7,552.1 220.7,554.5 219.4,556.8 C218.2,559.1 216.9,561.2 215.6,563.2 C214.3,565.2 213.0,567.5 211.8,569.0 C210.5,570.5 208.6,571.6 207.9,572.2" fill="none" stroke="#000" stroke-width="1.15"/>
<path d="M264.2,528.0 C265.3,528.5 268.5,529.6 270.6,531.2 C272.8,532.8 275.3,535.3 277.0,537.6 C278.7,539.9 280.1,542.7 280.9,545.3 C281.6,547.8 281.9,550.4 281.5,553.0 C281.1,555.5 279.9,558.2 278.3,560.6 C276.7,563.1 274.3,565.5 271.9,567.7 C269.6,569.8 266.8,571.6 264.2,573.4 C261.7,575.3 259.3,577.3 256.6,578.6 C253.8,579.8 250.6,580.6 247.6,581.1 C244.6,581.7 241.6,582.1 238.6,581.8 C235.7,581.4 232.5,580.5 229.7,579.2 C226.9,577.9 223.9,576.1 222.0,574.1 C220.1,572.1 218.7,569.1 218.2,567.0 C217.6,565.0 218.7,562.8 218.8,561.9" fill="none" stroke="#000" stroke-width="1.15" stroke-dasharray="4.3 1.9"/>
<path d="M283.8,674.1 C285.1,673.2 288.7,670.3 291.5,669.0 C294.3,667.6 297.5,666.4 300.5,665.8 C303.5,665.1 306.2,665.0 309.4,665.1 C312.6,665.2 316.3,665.7 319.7,666.4 C323.1,667.1 326.5,668.3 329.9,669.6 C333.3,670.9 337.0,672.3 340.2,674.1 C343.4,675.9 346.3,678.1 349.1,680.5 C351.9,682.8 354.5,685.4 356.8,688.2 C359.1,690.9 361.6,694.1 363.2,697.1 C364.8,700.1 365.9,703.1 366.4,706.1 C366.9,709.1 366.9,712.1 366.4,715.0 C365.9,718.0 364.8,721.4 363.2,724.0 C361.6,726.6 359.4,728.5 356.8,730.4 C354.2,732.3 351.0,734.2 347.8,735.5 C344.6,736.8 341.2,737.7 337.6,738.3 C334.0,738.9 329.7,739.3 326.1,739.1 C322.5,739.0 319.3,738.5 315.8,737.4 C312.4,736.4 308.8,734.6 305.6,733.0 C302.4,731.4 299.4,729.5 296.6,727.8 C293.9,726.1 291.0,724.1 289.0,722.7 C286.9,721.3 285.2,720.1 284.5,719.5" fill="none" stroke="#000" stroke-width="1.15" stroke-dasharray="4.3 1.9"/>
<path d="M175.1,724.1 C175.4,723.2 177.1,721.1 177.0,719.0 C176.9,716.8 174.9,713.8 174.5,711.3 C174.1,708.7 173.8,705.7 174.5,703.6 C175.1,701.5 176.7,699.6 178.3,698.5 C179.9,697.4 182.1,697.1 184.1,696.9 C186.1,696.8 188.3,696.7 190.5,697.8 C192.6,698.9 194.7,701.6 196.9,703.6 C199.0,705.6 201.8,707.9 203.3,710.0 C204.8,712.1 205.4,714.1 205.8,716.4 C206.3,718.7 205.4,721.3 205.8,724.1 C206.3,726.9 206.9,730.3 208.4,733.0 C209.9,735.8 212.9,738.2 214.8,740.7 C216.7,743.3 218.4,745.8 219.9,748.4 C221.4,751.0 223.3,753.7 223.8,756.1 C224.2,758.4 223.8,760.8 222.5,762.5 C221.2,764.2 218.4,765.3 216.1,766.3 C213.7,767.4 211.0,767.6 208.4,768.9 C205.8,770.2 203.3,771.9 200.7,774.0 C198.2,776.1 195.2,779.1 193.0,781.7 C190.9,784.2 189.6,786.8 187.9,789.4 C186.2,791.9 184.9,794.7 182.8,797.0 C180.7,799.4 177.9,801.7 175.1,803.4 C172.3,805.1 169.1,806.5 166.2,807.3 C163.2,808.1 160.2,808.5 157.2,808.3 C154.2,808.1 150.8,807.2 148.2,806.0 C145.7,804.8 143.5,803.0 141.8,800.9 C140.1,798.7 139.0,795.8 138.0,793.2 C137.0,790.6 136.1,788.1 136.1,785.5 C136.1,783.0 137.1,780.2 138.0,777.8 C138.9,775.5 140.6,773.4 141.2,771.4 C141.8,769.5 141.5,767.2 141.6,766.3" fill="none" stroke="#000" stroke-width="1.15" stroke-dasharray="4.3 1.9"/>
<path d="M163.6,719.0 C163.1,717.6 162.5,714.9 163.0,713.2 C163.4,711.5 164.9,709.8 166.2,709.0 C167.4,708.1 169.4,707.6 170.6,708.1 C171.9,708.6 173.1,710.4 173.6,711.9 C174.1,713.4 174.3,715.7 173.8,717.0 C173.3,718.4 171.9,719.5 170.6,720.2 C169.4,721.0 167.3,721.7 166.2,721.5 C165.0,721.3 164.1,720.3 163.6,719.0Z" fill="none" stroke="#000" stroke-width="1.15"/>
<path d="M176.4,841.8 C176.6,840.5 177.1,836.5 177.7,833.5 C178.2,830.5 179.0,827.0 179.6,823.9 C180.2,820.8 180.6,817.9 181.5,815.0 C182.5,812.0 184.1,809.0 185.4,806.0 C186.6,803.0 187.9,800.0 189.2,797.0 C190.5,794.1 191.8,790.6 193.0,788.1 C194.3,785.5 195.2,783.6 196.9,781.7 C198.6,779.8 201.4,778.0 203.3,776.6 C205.2,775.1 206.3,773.8 208.4,773.0 C210.5,772.2 213.1,771.9 216.1,771.7 C219.1,771.5 223.5,771.3 226.3,771.7 C229.1,772.1 230.6,773.1 232.7,774.0 C234.9,774.9 238.1,776.7 239.1,777.2" fill="none" stroke="#000" stroke-width="1.15"/>
<path d="M260.9,815.0 C261.0,816.0 261.3,819.4 261.5,821.4 C261.7,823.3 262.5,824.6 262.2,826.5 C261.8,828.4 260.7,830.3 259.6,832.9 C258.5,835.4 256.4,840.3 255.8,841.8" fill="none" stroke="#000" stroke-width="1.15"/>
<path d="M531.8,703.3 C532.1,700.9 532.7,697.9 534.4,695.6 C536.1,693.3 539.1,690.7 542.1,689.2 C545.1,687.7 548.9,687.0 552.3,686.6 C555.7,686.3 559.1,686.5 562.6,687.3 C566.0,688.0 569.6,689.3 572.8,691.1 C576.0,692.9 579.4,695.7 581.8,698.2 C584.1,700.6 585.8,703.3 586.9,705.8 C587.9,708.4 588.5,711.0 588.2,713.5 C587.8,716.1 586.7,719.0 585.0,721.2 C583.3,723.4 580.8,725.6 577.9,727.0 C575.0,728.3 571.1,729.3 567.7,729.5 C564.3,729.7 560.9,729.2 557.4,728.2 C554.0,727.3 550.4,725.7 547.2,723.8 C544.0,721.8 540.6,719.1 538.2,716.7 C535.9,714.4 534.2,711.9 533.1,709.7 C532.1,707.4 531.6,705.6 531.8,703.3Z" fill="none" stroke="#000" stroke-width="1.15" stroke-dasharray="4.3 1.9"/>
</g>
<text x="0" y="5" font-size="13.9" text-anchor="middle" transform="translate(279.9,182.2) rotate(-60)">−0.002</text>
<text x="0" y="5" font-size="13.9" text-anchor="middle" transform="translate(202.0,256.3) rotate(-83)">0.002</text>
<text x="0" y="5" font-size="13.9" text-anchor="middle" transform="translate(183.3,570.2) rotate(46)">0.002</text>
<text x="0" y="5" font-size="13.9" text-anchor="middle" transform="translate(234.4,543.2) rotate(-50)">−0.002</text>
<text x="0" y="5" font-size="13.9" text-anchor="middle" transform="translate(276.4,696.5) rotate(88)">−0.002</text>
<text x="0" y="5" font-size="13.9" text-anchor="middle" transform="translate(144.7,742.6) rotate(-63)">−0.002</text>
<text x="0" y="5" font-size="13.9" text-anchor="middle" transform="translate(255.1,795.5) rotate(72)">0.002</text>
</g>
<rect x="0" y="0" width="761.6" height="856.1" fill="none" stroke="#000" stroke-width="1.6"/>
<line x1="-9.7" x2="0" y1="824.4" y2="824.4" stroke="#000" stroke-width="1.9"/>
<line x1="-9.7" x2="0" y1="665.9" y2="665.9" stroke="#000" stroke-width="1.9"/>
<line x1="-9.7" x2="0" y1="507.3" y2="507.3" stroke="#000" stroke-width="1.9"/>
<line x1="-9.7" x2="0" y1="348.8" y2="348.8" stroke="#000" stroke-width="1.9"/>
<line x1="-9.7" x2="0" y1="190.2" y2="190.2" stroke="#000" stroke-width="1.9"/>
<line x1="-9.7" x2="0" y1="31.7" y2="31.7" stroke="#000" stroke-width="1.9"/>
<line x1="158.6" x2="158.6" y1="856.1" y2="865.8000000000001" stroke="#000" stroke-width="1.9"/>
<text x="158.6" y="899.6" font-size="33.33" text-anchor="middle">17°E</text>
<line x1="317.2" x2="317.2" y1="856.1" y2="865.8000000000001" stroke="#000" stroke-width="1.9"/>
<text x="317.2" y="899.6" font-size="33.33" text-anchor="middle">18°E</text>
<line x1="475.9" x2="475.9" y1="856.1" y2="865.8000000000001" stroke="#000" stroke-width="1.9"/>
<text x="475.9" y="899.6" font-size="33.33" text-anchor="middle">19°E</text>
<line x1="634.5" x2="634.5" y1="856.1" y2="865.8000000000001" stroke="#000" stroke-width="1.9"/>
<text x="634.5" y="899.6" font-size="33.33" text-anchor="middle">20°E</text>
<rect x="19.7" y="23.8" width="67" height="53" fill="#fff" stroke="#000" stroke-width="2.4"/>
<text x="53.2" y="61.9" font-size="33.33" text-anchor="middle">(c)</text>
<text x="380.8" y="-14.0" font-size="40.2" text-anchor="middle">SLA INCREMENTS</text>
</g>
<rect x="1769.6" y="991.0" width="692.6" height="38.4" fill="url(#seis)"/>
<path d="M1734.0,1010.2 L1770.2,991.0 L1770.2,1029.4 Z" fill="#00004d"/>
<path d="M2497.8,1010.2 L2461.6,991.0 L2461.6,1029.4 Z" fill="#800000"/>
<path d="M1734.0,1010.2 L1770.2,991.0 L2461.6,991.0 L2497.8,1010.2 L2461.6,1029.4 L1770.2,1029.4 Z" fill="none" stroke="#000" stroke-width="1.6" stroke-linejoin="miter"/>
<line x1="1770.2" x2="1770.2" y1="1029.4" y2="1039.1000000000001" stroke="#000" stroke-width="1.9"/>
<text x="0" y="6.8" font-size="24.5" text-anchor="middle" transform="translate(1770.2,1082.5) rotate(-45)">−0.04</text>
<line x1="1856.6" x2="1856.6" y1="1029.4" y2="1039.1000000000001" stroke="#000" stroke-width="1.9"/>
<text x="0" y="6.8" font-size="24.5" text-anchor="middle" transform="translate(1856.6,1082.5) rotate(-45)">−0.03</text>
<line x1="1943.1" x2="1943.1" y1="1029.4" y2="1039.1000000000001" stroke="#000" stroke-width="1.9"/>
<text x="0" y="6.8" font-size="24.5" text-anchor="middle" transform="translate(1943.1,1082.5) rotate(-45)">−0.02</text>
<line x1="2029.5" x2="2029.5" y1="1029.4" y2="1039.1000000000001" stroke="#000" stroke-width="1.9"/>
<text x="0" y="6.8" font-size="24.5" text-anchor="middle" transform="translate(2029.5,1082.5) rotate(-45)">−0.01</text>
<line x1="2115.9" x2="2115.9" y1="1029.4" y2="1039.1000000000001" stroke="#000" stroke-width="1.9"/>
<text x="0" y="6.8" font-size="24.5" text-anchor="middle" transform="translate(2115.9,1075.3) rotate(-45)">0.00</text>
<line x1="2202.3" x2="2202.3" y1="1029.4" y2="1039.1000000000001" stroke="#000" stroke-width="1.9"/>
<text x="0" y="6.8" font-size="24.5" text-anchor="middle" transform="translate(2202.3,1075.3) rotate(-45)">0.01</text>
<line x1="2288.8" x2="2288.8" y1="1029.4" y2="1039.1000000000001" stroke="#000" stroke-width="1.9"/>
<text x="0" y="6.8" font-size="24.5" text-anchor="middle" transform="translate(2288.8,1075.3) rotate(-45)">0.02</text>
<line x1="2375.2" x2="2375.2" y1="1029.4" y2="1039.1000000000001" stroke="#000" stroke-width="1.9"/>
<text x="0" y="6.8" font-size="24.5" text-anchor="middle" transform="translate(2375.2,1075.3) rotate(-45)">0.03</text>
<line x1="2461.6" x2="2461.6" y1="1029.4" y2="1039.1000000000001" stroke="#000" stroke-width="1.9"/>
<text x="0" y="6.8" font-size="24.5" text-anchor="middle" transform="translate(2461.6,1075.3) rotate(-45)">0.04</text>
<text x="2116.0" y="1150.2" font-size="33.33" text-anchor="middle">m</text>
</svg></body></html>
